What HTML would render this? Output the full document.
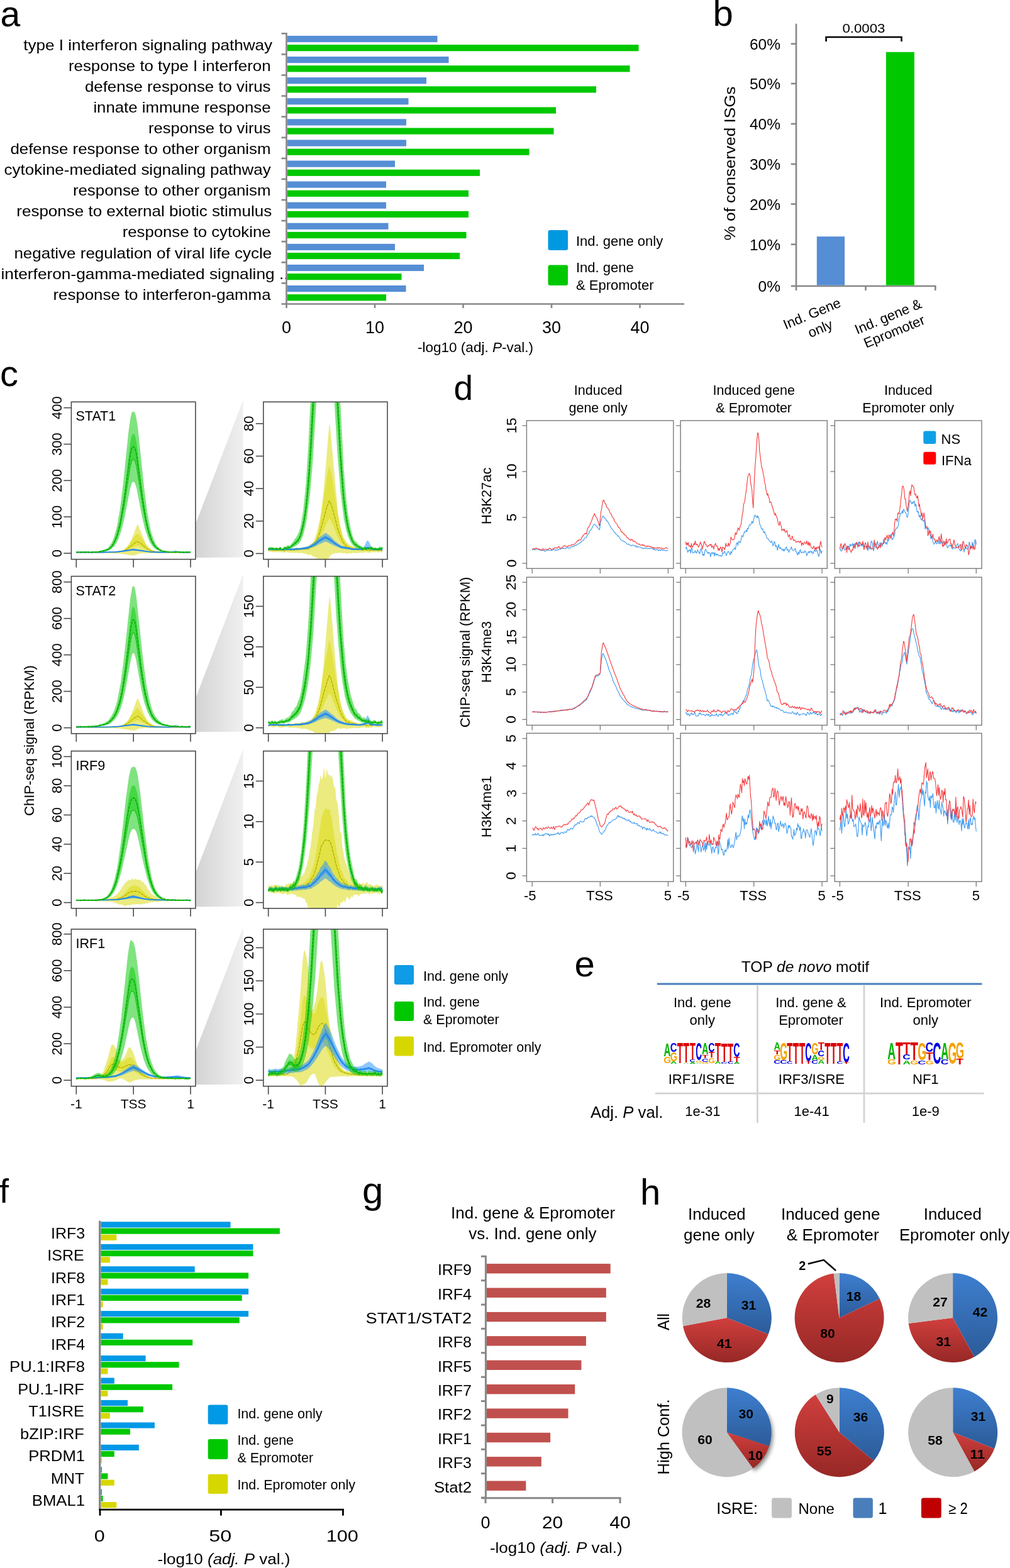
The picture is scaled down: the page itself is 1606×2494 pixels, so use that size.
<!DOCTYPE html>
<html><head><meta charset="utf-8"><title>Figure</title>
<style>html,body{margin:0;padding:0;background:#fff;} svg{display:block;}</style></head>
<body><svg width="1606" height="2494" viewBox="0 0 1606 2494" font-family='"Liberation Sans", Arial, Helvetica, sans-serif'>
<rect width="1606" height="2494" fill="#fff"/>
<text x="0.5" y="41.5" font-size="57">a</text>
<text x="37.3" y="79.9" font-size="24" textLength="395.7" lengthAdjust="spacingAndGlyphs">type I interferon signaling pathway</text>
<text x="109" y="113" font-size="24" textLength="321.5" lengthAdjust="spacingAndGlyphs">response to type I interferon</text>
<text x="135" y="146" font-size="24" textLength="295.5" lengthAdjust="spacingAndGlyphs">defense response to virus</text>
<text x="148.4" y="179.1" font-size="24" textLength="282.1" lengthAdjust="spacingAndGlyphs">innate immune response</text>
<text x="236" y="212.1" font-size="24" textLength="194.5" lengthAdjust="spacingAndGlyphs">response to virus</text>
<text x="16.4" y="245.2" font-size="24" textLength="414.1" lengthAdjust="spacingAndGlyphs">defense response to other organism</text>
<text x="6.6" y="278.3" font-size="24" textLength="424.1" lengthAdjust="spacingAndGlyphs">cytokine-mediated signaling pathway</text>
<text x="115.9" y="311.3" font-size="24" textLength="314.6" lengthAdjust="spacingAndGlyphs">response to other organism</text>
<text x="26.3" y="344.4" font-size="24" textLength="405.9" lengthAdjust="spacingAndGlyphs">response to external biotic stimulus</text>
<text x="194.7" y="377.4" font-size="24" textLength="235.8" lengthAdjust="spacingAndGlyphs">response to cytokine</text>
<text x="22.4" y="410.5" font-size="24" textLength="409.8" lengthAdjust="spacingAndGlyphs">negative regulation of viral life cycle</text>
<text x="1.5" y="443.6" font-size="24" textLength="457" lengthAdjust="spacingAndGlyphs">interferon-gamma-mediated signaling ..</text>
<text x="84.5" y="476.6" font-size="24" textLength="346" lengthAdjust="spacingAndGlyphs">response to interferon-gamma</text>
<rect x="456.8" y="56.9" width="238.7" height="10.2" fill="#558ed5"/>
<rect x="456.8" y="71.1" width="558.7" height="10.2" fill="#00c800"/>
<rect x="456.8" y="90" width="256.7" height="10.2" fill="#558ed5"/>
<rect x="456.8" y="104.2" width="544.7" height="10.2" fill="#00c800"/>
<rect x="456.8" y="123.1" width="221.2" height="10.2" fill="#558ed5"/>
<rect x="456.8" y="137.3" width="491.2" height="10.2" fill="#00c800"/>
<rect x="456.8" y="156.2" width="192.7" height="10.2" fill="#558ed5"/>
<rect x="456.8" y="170.4" width="427.2" height="10.2" fill="#00c800"/>
<rect x="456.8" y="189.3" width="189.2" height="10.2" fill="#558ed5"/>
<rect x="456.8" y="203.5" width="423.7" height="10.2" fill="#00c800"/>
<rect x="456.8" y="222.4" width="189.2" height="10.2" fill="#558ed5"/>
<rect x="456.8" y="236.6" width="384.7" height="10.2" fill="#00c800"/>
<rect x="456.8" y="255.5" width="171.2" height="10.2" fill="#558ed5"/>
<rect x="456.8" y="269.7" width="306.2" height="10.2" fill="#00c800"/>
<rect x="456.8" y="288.5" width="157.2" height="10.2" fill="#558ed5"/>
<rect x="456.8" y="302.7" width="288.2" height="10.2" fill="#00c800"/>
<rect x="456.8" y="321.6" width="157.2" height="10.2" fill="#558ed5"/>
<rect x="456.8" y="335.8" width="288.2" height="10.2" fill="#00c800"/>
<rect x="456.8" y="354.7" width="160.7" height="10.2" fill="#558ed5"/>
<rect x="456.8" y="368.9" width="284.7" height="10.2" fill="#00c800"/>
<rect x="456.8" y="387.8" width="171.2" height="10.2" fill="#558ed5"/>
<rect x="456.8" y="402" width="274.2" height="10.2" fill="#00c800"/>
<rect x="456.8" y="420.9" width="217.2" height="10.2" fill="#558ed5"/>
<rect x="456.8" y="435.1" width="181.7" height="10.2" fill="#00c800"/>
<rect x="456.8" y="454" width="188.7" height="10.2" fill="#558ed5"/>
<rect x="456.8" y="468.2" width="157.2" height="10.2" fill="#00c800"/>
<line x1="455.5" y1="52" x2="455.5" y2="484.8" stroke="#878787" stroke-width="2.6"/>
<line x1="447.5" y1="53.3" x2="455.5" y2="53.3" stroke="#878787" stroke-width="2.6"/>
<line x1="447.5" y1="86.4" x2="455.5" y2="86.4" stroke="#878787" stroke-width="2.6"/>
<line x1="447.5" y1="119.5" x2="455.5" y2="119.5" stroke="#878787" stroke-width="2.6"/>
<line x1="447.5" y1="152.6" x2="455.5" y2="152.6" stroke="#878787" stroke-width="2.6"/>
<line x1="447.5" y1="185.7" x2="455.5" y2="185.7" stroke="#878787" stroke-width="2.6"/>
<line x1="447.5" y1="218.8" x2="455.5" y2="218.8" stroke="#878787" stroke-width="2.6"/>
<line x1="447.5" y1="251.9" x2="455.5" y2="251.9" stroke="#878787" stroke-width="2.6"/>
<line x1="447.5" y1="284.9" x2="455.5" y2="284.9" stroke="#878787" stroke-width="2.6"/>
<line x1="447.5" y1="318" x2="455.5" y2="318" stroke="#878787" stroke-width="2.6"/>
<line x1="447.5" y1="351.1" x2="455.5" y2="351.1" stroke="#878787" stroke-width="2.6"/>
<line x1="447.5" y1="384.2" x2="455.5" y2="384.2" stroke="#878787" stroke-width="2.6"/>
<line x1="447.5" y1="417.3" x2="455.5" y2="417.3" stroke="#878787" stroke-width="2.6"/>
<line x1="447.5" y1="450.4" x2="455.5" y2="450.4" stroke="#878787" stroke-width="2.6"/>
<line x1="447.5" y1="483.5" x2="455.5" y2="483.5" stroke="#878787" stroke-width="2.6"/>
<line x1="454.2" y1="483.5" x2="1088" y2="483.5" stroke="#878787" stroke-width="2.6"/>
<line x1="455.5" y1="483.5" x2="455.5" y2="490" stroke="#878787" stroke-width="2.6"/>
<text x="455.5" y="530" font-size="27" text-anchor="middle">0</text>
<line x1="596" y1="483.5" x2="596" y2="490" stroke="#878787" stroke-width="2.6"/>
<text x="596" y="530" font-size="27" text-anchor="middle">10</text>
<line x1="736.5" y1="483.5" x2="736.5" y2="490" stroke="#878787" stroke-width="2.6"/>
<text x="736.5" y="530" font-size="27" text-anchor="middle">20</text>
<line x1="877" y1="483.5" x2="877" y2="490" stroke="#878787" stroke-width="2.6"/>
<text x="877" y="530" font-size="27" text-anchor="middle">30</text>
<line x1="1017.5" y1="483.5" x2="1017.5" y2="490" stroke="#878787" stroke-width="2.6"/>
<text x="1017.5" y="530" font-size="27" text-anchor="middle">40</text>
<text x="756" y="560" font-size="22.5" text-anchor="middle">-log10 (adj. <tspan font-style="italic">P</tspan>-val.)</text>
<rect x="871.5" y="366" width="31.5" height="32" fill="#0099e0" rx="3"/>
<rect x="871.5" y="421.5" width="31.5" height="32.5" fill="#00c800" rx="3"/>
<text x="916" y="391" font-size="22">Ind. gene only</text>
<text x="916" y="433" font-size="22">Ind. gene</text>
<text x="916" y="461" font-size="22">&amp; Epromoter</text>
<text x="1133.5" y="41" font-size="58">b</text>
<line x1="1266" y1="37.8" x2="1266" y2="456" stroke="#878787" stroke-width="2.6"/>
<line x1="1257.7" y1="455" x2="1266" y2="455" stroke="#878787" stroke-width="2.6"/>
<text x="1241" y="464.2" font-size="24.5" text-anchor="end">0%</text>
<line x1="1257.7" y1="388.7" x2="1266" y2="388.7" stroke="#878787" stroke-width="2.6"/>
<text x="1241" y="397.9" font-size="24.5" text-anchor="end">10%</text>
<line x1="1257.7" y1="324.6" x2="1266" y2="324.6" stroke="#878787" stroke-width="2.6"/>
<text x="1241" y="333.8" font-size="24.5" text-anchor="end">20%</text>
<line x1="1257.7" y1="261" x2="1266" y2="261" stroke="#878787" stroke-width="2.6"/>
<text x="1241" y="270.2" font-size="24.5" text-anchor="end">30%</text>
<line x1="1257.7" y1="197" x2="1266" y2="197" stroke="#878787" stroke-width="2.6"/>
<text x="1241" y="206.2" font-size="24.5" text-anchor="end">40%</text>
<line x1="1257.7" y1="133" x2="1266" y2="133" stroke="#878787" stroke-width="2.6"/>
<text x="1241" y="142.2" font-size="24.5" text-anchor="end">50%</text>
<line x1="1257.7" y1="69.7" x2="1266" y2="69.7" stroke="#878787" stroke-width="2.6"/>
<text x="1241" y="78.9" font-size="24.5" text-anchor="end">60%</text>
<line x1="1264.7" y1="455" x2="1488.5" y2="455" stroke="#878787" stroke-width="2.6"/>
<line x1="1266" y1="455" x2="1266" y2="462" stroke="#878787" stroke-width="2.6"/>
<line x1="1376.5" y1="455" x2="1376.5" y2="462" stroke="#878787" stroke-width="2.6"/>
<line x1="1487.3" y1="455" x2="1487.3" y2="462" stroke="#878787" stroke-width="2.6"/>
<rect x="1298.8" y="376.2" width="44.3" height="77.5" fill="#558ed5"/>
<rect x="1408.9" y="82.8" width="45" height="370.9" fill="#00c800"/>
<polyline points="1313.6,66.0 1313.6,59.0 1433.5,59.0 1433.5,66.0" fill="none" stroke="#000" stroke-width="2.6"/>
<text x="1373.4" y="51.6" font-size="21" text-anchor="middle" textLength="68" lengthAdjust="spacingAndGlyphs">0.0003</text>
<text x="1169.3" y="260" font-size="23.5" text-anchor="middle" textLength="245" lengthAdjust="spacingAndGlyphs" transform="rotate(-90 1169.3 260)">% of conserved ISGs</text>
<text font-size="22" text-anchor="middle" transform="translate(1294 505.7) rotate(-22.5)"><tspan x="0" y="0">Ind. Gene</tspan><tspan x="3" y="27">only</tspan></text>
<text font-size="22" text-anchor="middle" transform="translate(1415 510.5) rotate(-22.5)"><tspan x="0" y="0">Ind. gene &amp;</tspan><tspan x="0" y="25.5">Epromoter</tspan></text>
<text x="0" y="613.5" font-size="58">c</text>
<defs><linearGradient id="zg" x1="0" x2="1" y1="0" y2="0"><stop offset="0" stop-color="#d4d4d4"/><stop offset="1" stop-color="#f0f0f0"/></linearGradient><clipPath id="cl0"><rect x="113.4" y="639.3" width="197.5" height="250.3"/></clipPath><clipPath id="cr0"><rect x="418.8" y="639.3" width="197.2" height="250.3"/></clipPath><clipPath id="cl1"><rect x="113.4" y="916.6" width="197.5" height="250.2"/></clipPath><clipPath id="cr1"><rect x="418.8" y="916.6" width="197.2" height="250.2"/></clipPath><clipPath id="cl2"><rect x="113.4" y="1194.6" width="197.5" height="250.2"/></clipPath><clipPath id="cr2"><rect x="418.8" y="1194.6" width="197.2" height="250.2"/></clipPath><clipPath id="cl3"><rect x="113.4" y="1477.9" width="197.5" height="249.8"/></clipPath><clipPath id="cr3"><rect x="418.8" y="1477.9" width="197.2" height="249.8"/></clipPath></defs>
<polygon points="311.7,831.6 386.6,636.3 386.6,886.6 311.7,887.1" fill="url(#zg)"/>
<g clip-path="url(#cl0)">
<path d="M121.3 878.3 174.8 878.1 187.9 877.1 193 876.2 197 874.8 201 871.7 205.1 866.8 209.1 858.4 217.2 836.9 219.2 833.7 232.3 866 235.4 870.3 239.4 874.1 245.5 876.1 251.5 877.3 258.6 877.8 276.8 878.3 283.8 878 286.8 878.4 300 877.8 303 878.3 303 879.5 302 879.6 267.7 879.6 247.5 880.1 228.3 879.8 219.2 880.9 216.2 883 211.1 883.4 204.1 882.8 197 881.4 187.9 880.3 184.9 880.6 174.8 879.7 121.3 879.5Z" fill="#d7d700" fill-opacity="0.5"/>
<path d="M121.3 878.8 123.3 878.4 130.4 878.8 143.5 878.4 146.5 879.1 149.6 878.4 161.7 878.7 174.8 877.8 176.8 878.2 181.9 877.7 184.9 878 187.9 876.7 194 875.4 199 872.1 203.1 868.1 214.2 853 218.2 848.8 219.2 849.1 223.3 853 231.3 865 235.4 869.5 240.4 873.9 246.5 876.7 253.5 877.7 264.6 878.4 267.7 878.1 270.7 878.6 276.8 878.3 281.8 878.9 287.9 878.4 296.9 878.9 299 878.6 303 878.7 302 879.1 281.8 879.1 246.5 878.2 240.4 877.2 235.4 875.5 231.3 873.8 223.3 869.2 218.2 867.6 214.2 869.2 203.1 875 194 877.8 184.9 878.7 121.3 879.1Z" fill="#d7d700" fill-opacity="0.45"/>
<path d="M121.3 878.9 143.5 878.7 146.5 879.1 149.6 878.7 184.9 878.4 194 876.9 199 875 203.1 872.6 214.2 863.7 218.2 861.2 223.3 863.8 231.3 870.8 235.4 873.5 240.4 876 246.5 877.7 264.6 878.7 303 878.9" fill="none" stroke="#c8c800" stroke-width="1.2"/>
<path d="M121.3 878.9 143.5 878.7 146.5 879.1 149.6 878.7 184.9 878.4 194 876.9 199 875 203.1 872.6 214.2 863.7 218.2 861.2 223.3 863.8 231.3 870.8 235.4 873.5 240.4 876 246.5 877.7 264.6 878.7 303 878.9" fill="none" stroke="#9a9a10" stroke-width="0.9" stroke-dasharray="3,3"/>
<path d="M121.3 878.2 161.7 878.2 183.9 877.4 197 875.6 201 874.5 212.1 872.6 239.4 877.3 255.6 878.2 269.7 878.1 273.7 877.5 277.8 875.6 279.8 875.4 286.8 878.1 303 878.3 303 878.9 278.8 878.4 255.6 878.8 237.4 878.3 212.1 875.8 183.9 878.4 121.3 878.8Z" fill="#1e90ff" fill-opacity="0.5"/>
<path d="M121.3 878.4 161.7 878.4 183.9 877.7 197 876.1 212.1 873.5 239.4 877.6 255.6 878.4 271.7 878.3 278.8 877.6 285.8 878.3 303 878.5 289.9 878.7 278.8 878.1 271.7 878.6 255.6 878.7 239.4 878.1 212.1 874.9 183.9 878.1 161.7 878.7 121.3 878.7Z" fill="#1e90ff" fill-opacity="0.45"/>
<path d="M121.3 878.5 161.7 878.5 183.9 877.9 197 876.5 212.1 874.2 239.4 877.8 255.6 878.5 271.7 878.4 278.8 877.9 285.8 878.5 303 878.6" fill="none" stroke="#1a86ee" stroke-width="1.8"/>
<path d="M121.3 877.9 136.4 878 140.5 877.5 143.5 878.5 147.5 877.3 150.6 877.5 152.6 876.9 155.6 877.2 165.7 874.2 170.8 871.9 172.8 870.2 176.8 864.8 180.9 856 185.9 837.8 191 808.8 196 767.6 204.1 688.8 207.1 666.5 209.1 657.5 210.1 655.4 212.1 654.6 214.2 655.7 216.2 661.7 219.2 680.5 229.3 776.7 234.4 815.7 236.4 827.8 240.4 846.4 245.5 860.9 248.5 866.5 250.5 869 254.5 873 258.6 875.4 271.7 877.9 275.7 877.6 276.8 878.2 284.8 877.3 292.9 878.1 296.9 878 299 877.5 301 877.9 303 877.4 303 878.5 294.9 878.8 271.7 878.7 258.6 877.7 253.5 876.4 248.5 874.1 245.5 871.8 241.4 867.4 237.4 860.5 235.4 856 230.3 840.8 225.3 819.2 217.2 776.8 214.2 767.6 212.1 766.2 210.1 767.5 209.1 769.5 207.1 776.7 198 824 193 844.2 187.9 858.3 185.9 862.5 181.9 868.7 176.8 873.4 172.8 875.6 168.7 876.7 155.6 878.4 143.5 878.9 140.5 878.5 121.3 878.7Z" fill="#00c800" fill-opacity="0.5"/>
<path d="M121.3 878.2 136.4 878.3 140.5 877.9 143.5 878.6 147.5 877.8 155.6 877.6 165.7 875.5 170.8 873.7 172.8 872.4 176.8 868.5 180.9 861.9 185.9 848.4 191 826.8 197 787.7 207.1 704.7 209.1 694.5 210.1 691.7 211.1 690.5 212.1 690.2 213.2 690.6 214.2 691.9 215.2 694.9 217.2 704.9 227.3 787.5 232.3 821.2 236.4 841 241.4 857.5 245.5 865.6 248.5 869.7 253.5 873.9 258.6 876.3 271.7 878.2 275.7 877.9 276.8 878.4 284.8 877.8 292.9 878.3 303 877.8 301 878.4 284.8 878.1 276.8 878.6 258.6 876.9 253.5 875 248.5 871.8 245.5 868.5 241.4 862.2 236.4 849.2 232.3 833.6 227.3 807.1 217.2 742.3 215.2 734.4 214.2 732.1 212.1 730.7 210.1 731.9 209.1 734 207.1 742.1 197 807.3 191 838 185.9 855 180.9 865.6 176.8 870.8 172.8 873.9 170.8 874.9 165.7 876.3 155.6 878 147.5 878.1 143.5 878.7 140.5 878.2 121.3 878.4Z" fill="#00c800" fill-opacity="0.45"/>
<path d="M121.3 878.4 140.5 878.2 143.5 878.7 147.5 878.1 155.6 878 165.7 876.3 170.8 874.9 172.8 873.9 176.8 870.8 180.9 865.6 185.9 855 191 838 197 807.3 207.1 742.1 209.1 734 210.1 731.9 212.1 730.7 214.2 732.1 215.2 734.4 217.2 742.3 227.3 807.1 232.3 833.6 236.4 849.2 241.4 862.2 245.5 868.5 248.5 871.8 253.5 875 258.6 876.9 276.8 878.6 284.8 878.1 292.9 878.5 303 878.1" fill="none" stroke="#1cc41c" stroke-width="1.3"/>
<path d="M121.3 878.3 140.5 878 143.5 878.7 147.5 877.9 155.6 877.8 165.7 875.9 170.8 874.3 172.8 873.2 176.8 869.6 180.9 863.8 185.9 851.7 191 832.4 197 797.5 207.1 723.4 209.1 714.3 210.1 711.8 211.1 710.7 212.1 710.4 214.2 712 215.2 714.6 217.2 723.6 227.3 797.3 232.3 827.4 236.4 845.1 241.4 859.9 245.5 867 248.5 870.7 253.5 874.5 258.6 876.6 271.7 878.3 275.7 878.1 276.8 878.5 284.8 877.9 292.9 878.4 303 878" fill="none" stroke="#14c814" stroke-width="1.6"/>
<path d="M121.3 878.3 140.5 878 143.5 878.7 147.5 877.9 155.6 877.8 165.7 875.9 170.8 874.3 172.8 873.2 176.8 869.6 180.9 863.8 185.9 851.7 191 832.4 197 797.5 207.1 723.4 209.1 714.3 210.1 711.8 211.1 710.7 212.1 710.4 214.2 712 215.2 714.6 217.2 723.6 227.3 797.3 232.3 827.4 236.4 845.1 241.4 859.9 245.5 867 248.5 870.7 253.5 874.5 258.6 876.6 271.7 878.3 275.7 878.1 276.8 878.5 284.8 877.9 292.9 878.4 303 878" fill="none" stroke="#0c8a0c" stroke-width="1.0" stroke-dasharray="3,3"/>
</g>
<g clip-path="url(#cr0)">
<path d="M426.7 872.8 430.7 873.7 431.7 871.9 433.8 871.5 434.8 872.8 437.8 873.3 440.8 872.2 441.8 872.4 444.8 871.9 446.9 872.6 447.9 872.6 448.9 871.8 452.9 872.6 457.9 872 458.9 873.1 460 872.8 461 873.3 462 872.9 463 873.1 465 872 467 872.6 468 872.5 469 871.5 471 871.1 475.1 871.7 477.1 871 480.1 871.9 483.1 870.5 485.2 870.7 486.2 869.6 487.2 870.1 489.2 869.4 490.2 867.9 493.2 867.5 495.2 865 496.2 864.7 497.2 863.5 498.3 863.4 501.3 858.1 502.3 857.2 506.3 843.1 510.3 821.4 514.4 783.8 522.4 687.9 523.4 678.2 524.5 673.5 537.6 817.7 540.6 837 544.6 853.8 546.6 857.5 547.6 858.4 550.7 863 553.7 864.5 556.7 868.2 557.7 867.8 559.7 868.2 560.7 869.2 563.8 870.4 564.8 870.6 565.8 869.7 566.8 869.7 569.8 872.2 572.8 871 575.9 871.6 577.9 872.6 581.9 872.9 586.9 872.2 589 871.3 590 872.3 591 872.3 592 873 593 872.3 596 871.5 602.1 872.5 605.1 870.7 608.1 872.7 608.1 878.3 607.1 878.6 604.1 877.9 602.1 879 599 878 595 878.4 593 877.9 586.9 879.3 581.9 878.3 575.9 879.5 574.8 879 573.8 879.2 572.8 878.5 571.8 879.1 570.8 878.9 569.8 879.8 566.8 879.5 563.8 880 561.7 879.2 559.7 879.4 558.7 880.2 555.7 879.7 552.7 880.9 547.6 879.7 544.6 880 542.6 879 537.6 879.6 536.5 880.1 535.5 879.5 534.5 880 533.5 879.5 532.5 880.2 528.5 880.9 524.5 884.4 523.4 886.3 522.4 891 521.4 892.6 509.3 892.6 504.3 888.8 502.3 886.5 499.3 885.8 493.2 881.9 490.2 883 487.2 881 482.1 880.6 480.1 879.2 476.1 879.8 472.1 879.3 471 879.5 470 878.7 467 879.7 464 878.5 463 879.2 454.9 878 451.9 879.7 449.9 878 448.9 877.9 446.9 878.4 444.8 877.9 441.8 878.5 438.8 877.9 435.8 878.5 434.8 878 428.7 877.3 426.7 878.3Z" fill="#d7d700" fill-opacity="0.5"/>
<path d="M426.7 874.9 428.7 873.3 430.7 874.1 434.8 874.2 435.8 875 438.8 874 441.8 874.9 444.8 873.7 446.9 874.4 448.9 873.4 449.9 873.7 451.9 876.3 454.9 873.2 456.9 873.2 458.9 873.9 460 873.5 463 874.4 464 873.1 465 873.2 467 874.7 470 872.5 471 873.7 472.1 873 474.1 872.7 475.1 873 480.1 870.6 481.1 871 482.1 872.2 485.2 871 486.2 871 487.2 870.3 489.2 870.5 490.2 871.3 492.2 868.4 493.2 865.9 496.2 864 499.3 859.9 504.3 845.1 508.3 827.4 519.4 759.7 523.4 740.9 524.5 742.4 528.5 760 536.5 813.4 540.6 833.7 545.6 853.1 551.7 865.5 553.7 867.5 555.7 867.3 558.7 870.1 559.7 869.3 560.7 869.9 561.7 869.8 562.8 871.4 563.8 872 564.8 872.4 566.8 872 567.8 873 568.8 872.7 569.8 873.4 570.8 872.1 571.8 872.6 572.8 871.9 573.8 873.3 574.8 873.1 575.9 874.1 578.9 873.9 581.9 873 582.9 873.2 584.9 874.8 586.9 875.3 590 873.9 593 873.3 594 874.2 595 874.4 599 874 602.1 875.7 603.1 874.3 604.1 874 605.1 874 607.1 875.2 608.1 874.8 608.1 876.1 607.1 876.3 604.1 875.8 602.1 876.5 599 875.8 595 876 593 875.6 586.9 876.3 581.9 875.4 575.9 875.9 572.8 875 569.8 875.6 564.8 875.2 561.7 874.2 558.7 874.4 555.7 873.3 553.7 873.3 551.7 872.6 545.6 867.9 540.6 860.4 536.5 852.7 528.5 832.2 524.5 825.5 523.4 825 519.4 832.1 508.3 858 504.3 864.8 499.3 870.5 496.2 872 493.2 872.7 490.2 874.8 487.2 874.4 482.1 875.1 480.1 874.5 475.1 875.5 471 875.7 470 875.3 467 876.1 465 875.5 463 876 454.9 875.5 451.9 876.7 448.9 875.6 435.8 876.2 428.7 875.6 426.7 876.2Z" fill="#d7d700" fill-opacity="0.45"/>
<path d="M426.7 875.5 428.7 874.5 434.8 875.1 435.8 875.6 438.8 874.9 441.8 875.5 444.8 874.8 446.9 875.2 448.9 874.6 449.9 874.8 451.9 876.3 454.9 874.5 463 875.2 464 874.4 465 874.5 467 875.4 470 874.1 471 874.8 472.1 874.4 475.1 874.4 480.1 873 482.1 873.9 487.2 872.8 490.2 873.4 493.2 870.2 496.2 869.1 499.3 866.7 504.3 858 508.3 847.6 519.4 807.7 523.4 796.7 524.5 797.6 528.5 807.9 536.5 839.3 540.6 851.3 545.6 862.7 551.7 870 553.7 871.1 555.7 871 558.7 872.7 559.7 872.2 561.7 872.5 563.8 873.8 566.8 873.8 569.8 874.6 570.8 873.8 571.8 874.2 572.8 873.7 573.8 874.6 574.8 874.5 575.9 875 581.9 874.4 586.9 875.7 593 874.6 595 875.2 599 874.9 602.1 875.9 604.1 875 607.1 875.7 608.1 875.4" fill="none" stroke="#c8c800" stroke-width="1.2"/>
<path d="M426.7 875.5 428.7 874.5 434.8 875.1 435.8 875.6 438.8 874.9 441.8 875.5 444.8 874.8 446.9 875.2 448.9 874.6 449.9 874.8 451.9 876.3 454.9 874.5 463 875.2 464 874.4 465 874.5 467 875.4 470 874.1 471 874.8 472.1 874.4 475.1 874.4 480.1 873 482.1 873.9 487.2 872.8 490.2 873.4 493.2 870.2 496.2 869.1 499.3 866.7 504.3 858 508.3 847.6 519.4 807.7 523.4 796.7 524.5 797.6 528.5 807.9 536.5 839.3 540.6 851.3 545.6 862.7 551.7 870 553.7 871.1 555.7 871 558.7 872.7 559.7 872.2 561.7 872.5 563.8 873.8 566.8 873.8 569.8 874.6 570.8 873.8 571.8 874.2 572.8 873.7 573.8 874.6 574.8 874.5 575.9 875 581.9 874.4 586.9 875.7 593 874.6 595 875.2 599 874.9 602.1 875.9 604.1 875 607.1 875.7 608.1 875.4" fill="none" stroke="#9a9a10" stroke-width="0.9" stroke-dasharray="3,3"/>
<path d="M426.7 872.5 430.7 872.9 435.8 872.1 436.8 872.6 437.8 872.3 438.8 872.7 439.8 872.3 443.8 872.8 446.9 872.2 449.9 872.9 450.9 872.4 453.9 872.7 458.9 871.9 462 872.5 464 871.9 467 872.4 471 871.5 477.1 871.6 489.2 868.9 492.2 867.6 497.2 864.2 498.3 863.1 502.3 860.8 506.3 855.8 517.4 847.4 522.4 850.6 527.5 855 531.5 859.4 537.6 864.2 542.6 867.8 544.6 868.4 547.6 868.7 550.7 870 557.7 871.1 560.7 872.4 564.8 871.6 571.8 872.3 574.8 871.9 576.9 871.5 578.9 869.3 582.9 860.9 583.9 859.7 584.9 859.7 585.9 860.5 586.9 862.3 591 871 592 871.7 595 872.6 598 872 607.1 872.5 608.1 872.9 608.1 875.4 591 875 587.9 873.5 583.9 873 576.9 874.9 564.8 874.7 560.7 875.1 542.6 872.6 531.5 868.1 521.4 862.9 517.4 861.6 506.3 866.2 502.3 868.8 489.2 873.2 477.1 874.7 467 875.1 426.7 875.1Z" fill="#1e90ff" fill-opacity="0.5"/>
<path d="M426.7 873.1 430.7 873.5 435.8 872.9 436.8 873.3 439.8 873 443.8 873.5 446.9 872.9 449.9 873.5 458.9 872.6 462 873.2 464 872.6 467 873.1 471 872.3 477.1 872.4 489.2 870.1 492.2 868.9 502.3 863.1 506.3 858.8 517.4 851.5 522.4 854.3 527.5 858.1 531.5 861.9 537.6 866 542.6 869.1 544.6 869.6 557.7 872 560.7 873.1 564.8 872.4 571.8 873 576.9 872.7 583.9 869.8 587.9 870.5 591 872.9 593 872.8 595 873.3 598 872.8 601 872.8 607.1 873.1 608.1 873.5 608.1 874.8 598 874.2 595 874.6 591 874.3 587.9 872.4 583.9 871.8 576.9 874.1 571.8 874.4 564.8 873.9 560.7 874.4 557.7 873.5 544.6 871.7 542.6 871.3 537.6 868.9 531.5 865.6 522.4 859.7 517.4 857.5 506.3 863.2 502.3 866.5 492.2 871.1 489.2 872 477.1 873.9 471 873.8 467 874.4 458.9 874.1 449.9 874.7 446.9 874.3 443.8 874.7 435.8 874.2 430.7 874.8 426.7 874.5Z" fill="#1e90ff" fill-opacity="0.45"/>
<path d="M426.7 873.8 430.7 874.1 435.8 873.5 436.8 873.9 439.8 873.7 443.8 874.1 446.9 873.6 449.9 874.1 458.9 873.4 462 873.8 464 873.4 467 873.7 471 873.1 477.1 873.1 489.2 871 492.2 870 502.3 864.8 506.3 861 517.4 854.5 522.4 857 527.5 860.4 531.5 863.8 537.6 867.5 542.6 870.2 544.6 870.7 557.7 872.7 560.7 873.8 564.8 873.2 571.8 873.7 576.9 873.4 583.9 870.8 587.9 871.4 591 873.6 593 873.5 595 874 601 873.5 608.1 874.2" fill="none" stroke="#1a86ee" stroke-width="1.8"/>
<path d="M426.7 870.9 428.7 870.3 430.7 870.6 431.7 870 433.8 870.3 436.8 871.7 437.8 870.8 439.8 870.6 440.8 871.4 441.8 871.6 443.8 871 445.8 869.3 447.9 872.9 448.9 873.6 450.9 870.6 451.9 870.2 452.9 868.5 453.9 869.2 455.9 869.1 457.9 866.5 460 868.4 461 867.8 463 864.9 465 863.1 469 857 470 856.2 474.1 849.3 476.1 844.3 478.1 836.5 482.1 812.6 486.2 773.2 490.2 710.6 493.2 646.5 494.2 636.3 540.6 636.3 541.6 647.2 546.6 746.8 550.7 795.2 553.7 820.1 557.7 841 560.7 852.6 563.8 859.7 566.8 861.9 569.8 865.9 575.9 869.5 576.9 870.9 577.9 871 578.9 869.5 580.9 869.6 581.9 872.2 583.9 871.2 584.9 870 586.9 871 590 868.5 592 869.7 593 871.1 594 871.3 597 870.6 598 871.8 599 871.2 600 871.7 602.1 871.5 604.1 869.2 605.1 869.6 606.1 871 607.1 869.5 608.1 869 608.1 873.7 606.1 874.5 604.1 873.8 602.1 874.7 598 874.8 597 874.4 594 874.6 590 873.5 586.9 874.5 584.9 874.1 581.9 875 580.9 874 578.9 873.9 577.9 874.5 576.9 874.5 569.8 872.5 566.8 870.9 563.8 869.9 559.7 865.7 555.7 858.5 553.7 854 550.7 843.9 546.6 824.4 541.6 784 536.5 720.9 531.5 636.3 503.3 636.3 497.2 735.7 493.2 783.7 488.2 823.8 486.2 835 482.1 850.9 478.1 860.6 476.1 863.8 471 867.9 461 873.2 460 873.5 457.9 872.7 455.9 873.8 452.9 873.5 448.9 875.6 445.8 873.8 441.8 874.8 439.8 874.3 436.8 874.8 431.7 874.1 426.7 874.5Z" fill="#00c800" fill-opacity="0.5"/>
<path d="M426.7 872.2 431.7 871.5 433.8 871.7 436.8 872.8 437.8 872.1 439.8 871.9 441.8 872.7 443.8 872.3 445.8 871 447.9 873.7 448.9 874.2 452.9 870.4 453.9 870.9 455.9 870.9 457.9 868.9 460 870.3 461 869.9 470 861.3 474.1 856.2 476.1 852.5 478.1 846.6 481.1 833.8 483.1 822.8 486.2 799.7 488.2 779.2 492.2 723.3 496.2 643 497.2 636.3 537.6 636.3 538.6 642.4 541.6 706.1 546.6 780.2 550.7 816 553.7 834.5 557.7 850 560.7 858.6 563.8 863.8 566.8 865.5 569.8 868.5 575.9 871.1 576.9 872.2 577.9 872.2 578.9 871.1 580.9 871.2 581.9 873.1 584.9 871.5 586.9 872.2 590 870.4 592 871.3 593 872.3 597 872 598 872.8 599 872.4 600 872.8 602.1 872.7 604.1 870.9 605.1 871.2 606.1 872.3 607.1 871.1 608.1 870.8 608.1 872.1 606.1 873.3 604.1 872.2 602.1 873.6 598 873.7 597 873 594 873.4 590 871.8 586.9 873.2 584.9 872.7 581.9 874 580.9 872.5 578.9 872.4 577.9 873.3 576.9 873.2 575.9 872.4 569.8 870.3 566.8 868 563.8 866.6 559.7 860.5 555.7 850.2 553.7 843.6 550.7 829.1 546.6 800.9 541.6 742.7 535.5 636.3 499.3 636.3 495.2 710.7 491.2 768.8 488.2 800.1 486.2 816.3 483.1 834.4 480.1 846.7 478.1 853.1 476.1 857.7 474.1 860.6 470 864.6 461 871.4 460 871.7 457.9 870.7 455.9 872.2 452.9 871.8 448.9 874.8 447.9 874.4 445.8 872.3 443.8 873.3 441.8 873.6 439.8 873 436.8 873.7 431.7 872.7 426.7 873.2Z" fill="#00c800" fill-opacity="0.45"/>
<path d="M426.7 873.2 431.7 872.7 436.8 873.7 439.8 873 441.8 873.6 443.8 873.3 445.8 872.3 447.9 874.4 448.9 874.8 452.9 871.8 455.9 872.2 457.9 870.7 460 871.7 461 871.4 470 864.6 474.1 860.6 476.1 857.7 478.1 853.1 480.1 846.7 483.1 834.4 486.2 816.3 488.2 800.1 491.2 768.8 495.2 710.7 499.3 636.3 535.5 636.3 541.6 742.7 546.6 800.9 550.7 829.1 553.7 843.6 555.7 850.2 559.7 860.5 563.8 866.6 566.8 868 569.8 870.3 575.9 872.4 576.9 873.2 577.9 873.3 578.9 872.4 580.9 872.5 581.9 874 584.9 872.7 586.9 873.2 590 871.8 593 873.3 597 873 598 873.7 599 873.4 600 873.7 602.1 873.6 604.1 872.2 606.1 873.3 608.1 872.1" fill="none" stroke="#1cc41c" stroke-width="1.3"/>
<path d="M426.7 872.7 431.7 872.1 436.8 873.2 437.8 872.6 439.8 872.5 441.8 873.2 443.8 872.8 445.8 871.6 447.9 874 448.9 874.5 452.9 871.1 453.9 871.5 455.9 871.5 457.9 869.8 460 871 461 870.7 470 863 474.1 858.4 476.1 855.1 478.1 849.9 483.1 828.6 486.2 808 488.2 789.7 492.2 739.8 497.2 645.9 498.3 636.3 536.5 636.3 537.6 645.7 541.6 724.4 546.6 790.5 550.7 822.5 553.7 839 557.7 852.9 560.7 860.6 563.8 865.2 566.8 866.8 569.8 869.4 575.9 871.7 576.9 872.7 577.9 872.7 578.9 871.7 580.9 871.8 581.9 873.5 584.9 872.1 586.9 872.7 590 871.1 592 871.9 593 872.8 597 872.5 598 873.3 599 872.9 600 873.2 602.1 873.1 604.1 871.6 605.1 871.8 606.1 872.8 608.1 871.4" fill="none" stroke="#14c814" stroke-width="1.6"/>
<path d="M426.7 872.7 431.7 872.1 436.8 873.2 437.8 872.6 439.8 872.5 441.8 873.2 443.8 872.8 445.8 871.6 447.9 874 448.9 874.5 452.9 871.1 453.9 871.5 455.9 871.5 457.9 869.8 460 871 461 870.7 470 863 474.1 858.4 476.1 855.1 478.1 849.9 483.1 828.6 486.2 808 488.2 789.7 492.2 739.8 497.2 645.9 498.3 636.3 536.5 636.3 537.6 645.7 541.6 724.4 546.6 790.5 550.7 822.5 553.7 839 557.7 852.9 560.7 860.6 563.8 865.2 566.8 866.8 569.8 869.4 575.9 871.7 576.9 872.7 577.9 872.7 578.9 871.7 580.9 871.8 581.9 873.5 584.9 872.1 586.9 872.7 590 871.1 592 871.9 593 872.8 597 872.5 598 873.3 599 872.9 600 873.2 602.1 873.1 604.1 871.6 605.1 871.8 606.1 872.8 608.1 871.4" fill="none" stroke="#0c8a0c" stroke-width="1.0" stroke-dasharray="3,3"/>
</g>
<rect x="113.4" y="639.3" width="197.5" height="250.3" fill="none" stroke="#4a4a4a" stroke-width="1.6"/>
<line x1="121.3" y1="889.6" x2="121.3" y2="902.6" stroke="#4a4a4a" stroke-width="1.6"/>
<line x1="212.2" y1="889.6" x2="212.2" y2="902.6" stroke="#4a4a4a" stroke-width="1.6"/>
<line x1="303" y1="889.6" x2="303" y2="902.6" stroke="#4a4a4a" stroke-width="1.6"/>
<line x1="101.4" y1="880" x2="113.4" y2="880" stroke="#4a4a4a" stroke-width="1.6"/>
<text x="97.9" y="880" font-size="22" text-anchor="middle" transform="rotate(-90 97.9 880)">0</text>
<line x1="101.4" y1="822.1" x2="113.4" y2="822.1" stroke="#4a4a4a" stroke-width="1.6"/>
<text x="97.9" y="822.1" font-size="22" text-anchor="middle" transform="rotate(-90 97.9 822.1)">100</text>
<line x1="101.4" y1="764.3" x2="113.4" y2="764.3" stroke="#4a4a4a" stroke-width="1.6"/>
<text x="97.9" y="764.3" font-size="22" text-anchor="middle" transform="rotate(-90 97.9 764.3)">200</text>
<line x1="101.4" y1="706.5" x2="113.4" y2="706.5" stroke="#4a4a4a" stroke-width="1.6"/>
<text x="97.9" y="706.5" font-size="22" text-anchor="middle" transform="rotate(-90 97.9 706.5)">300</text>
<line x1="101.4" y1="648.6" x2="113.4" y2="648.6" stroke="#4a4a4a" stroke-width="1.6"/>
<text x="97.9" y="648.6" font-size="22" text-anchor="middle" transform="rotate(-90 97.9 648.6)">400</text>
<rect x="418.8" y="639.3" width="197.2" height="250.3" fill="none" stroke="#4a4a4a" stroke-width="1.6"/>
<line x1="426.7" y1="889.6" x2="426.7" y2="902.6" stroke="#4a4a4a" stroke-width="1.6"/>
<line x1="517.4" y1="889.6" x2="517.4" y2="902.6" stroke="#4a4a4a" stroke-width="1.6"/>
<line x1="608.1" y1="889.6" x2="608.1" y2="902.6" stroke="#4a4a4a" stroke-width="1.6"/>
<line x1="406.8" y1="880.4" x2="418.8" y2="880.4" stroke="#4a4a4a" stroke-width="1.6"/>
<text x="403.3" y="880.4" font-size="22" text-anchor="middle" transform="rotate(-90 403.3 880.4)">0</text>
<line x1="406.8" y1="828.8" x2="418.8" y2="828.8" stroke="#4a4a4a" stroke-width="1.6"/>
<text x="403.3" y="828.8" font-size="22" text-anchor="middle" transform="rotate(-90 403.3 828.8)">20</text>
<line x1="406.8" y1="777.1" x2="418.8" y2="777.1" stroke="#4a4a4a" stroke-width="1.6"/>
<text x="403.3" y="777.1" font-size="22" text-anchor="middle" transform="rotate(-90 403.3 777.1)">40</text>
<line x1="406.8" y1="725.5" x2="418.8" y2="725.5" stroke="#4a4a4a" stroke-width="1.6"/>
<text x="403.3" y="725.5" font-size="22" text-anchor="middle" transform="rotate(-90 403.3 725.5)">60</text>
<line x1="406.8" y1="673.8" x2="418.8" y2="673.8" stroke="#4a4a4a" stroke-width="1.6"/>
<text x="403.3" y="673.8" font-size="22" text-anchor="middle" transform="rotate(-90 403.3 673.8)">80</text>
<text x="120.5" y="669.3" font-size="21.5">STAT1</text>
<polygon points="311.7,1108.8 386.6,913.6 386.6,1163.8 311.7,1164.3" fill="url(#zg)"/>
<g clip-path="url(#cl1)">
<path d="M121.3 1156.3 129.4 1156.1 137.5 1156.5 142.5 1156.1 149.6 1156.3 180.9 1155.6 191 1154.5 196 1153 201 1149.6 205.1 1144.3 209.1 1135.4 217.2 1114 219.2 1110.6 222.2 1117.5 228.3 1134.2 232.3 1143.3 235.4 1148 241.4 1152.9 246.5 1154.4 263.6 1156 303 1156.1 303 1157.2 298 1157.4 289.9 1157.1 281.8 1157.6 272.7 1157.4 245.5 1158.1 232.3 1157.7 219.2 1159.1 216.2 1161.4 214.2 1161.8 208.1 1161.5 193 1159 180.9 1157.9 142.5 1157.6 134.4 1157.1 121.3 1157.4Z" fill="#d7d700" fill-opacity="0.5"/>
<path d="M121.3 1156.7 124.3 1156.2 130.4 1156.7 134.4 1156.1 142.5 1156.8 147.5 1156.3 154.6 1156.6 169.8 1156.1 173.8 1156.5 180.9 1155.6 183.9 1155.7 192 1154 196 1152.2 200 1149.1 203.1 1146.1 211.1 1134.7 218.2 1126.2 219.2 1126.6 221.2 1128.6 229.3 1140.2 235.4 1147.6 239.4 1151.1 245.5 1154.3 253.5 1155.5 264.6 1156.3 272.7 1156.1 276.8 1156.7 286.8 1156.6 289.9 1156.1 298 1156.6 303 1156.3 303 1156.8 276.8 1156.9 245.5 1156 235.4 1153.5 221.2 1146.2 218.2 1145.3 203.1 1152.9 196 1155.2 192 1155.9 173.8 1156.8 121.3 1156.9Z" fill="#d7d700" fill-opacity="0.45"/>
<path d="M121.3 1156.8 134.4 1156.5 142.5 1156.9 173.8 1156.7 183.9 1156.2 192 1155.2 196 1154.2 203.1 1150.6 211.1 1143.9 218.2 1138.9 221.2 1140.3 229.3 1147.1 235.4 1151.5 239.4 1153.5 245.5 1155.4 253.5 1156.1 276.8 1156.8 303 1156.6" fill="none" stroke="#c8c800" stroke-width="1.2"/>
<path d="M121.3 1156.8 134.4 1156.5 142.5 1156.9 173.8 1156.7 183.9 1156.2 192 1155.2 196 1154.2 203.1 1150.6 211.1 1143.9 218.2 1138.9 221.2 1140.3 229.3 1147.1 235.4 1151.5 239.4 1153.5 245.5 1155.4 253.5 1156.1 276.8 1156.8 303 1156.6" fill="none" stroke="#9a9a10" stroke-width="0.9" stroke-dasharray="3,3"/>
<path d="M121.3 1156.4 156.6 1156.4 178.8 1155.8 189.9 1154.8 212.1 1151.1 233.3 1154.8 242.4 1155.6 268.7 1156.2 272.7 1155.8 277.8 1153.6 279.8 1153.2 286.8 1156 303 1156.3 303 1156.9 294.9 1156.9 279.8 1156.3 266.7 1156.9 247.5 1156.7 233.3 1156.1 212.1 1154.1 178.8 1156.6 121.3 1156.9Z" fill="#1e90ff" fill-opacity="0.5"/>
<path d="M121.3 1156.6 178.8 1156 189.9 1155.1 212.1 1151.9 233.3 1155.1 242.4 1155.9 266.7 1156.5 279.8 1155.5 285.8 1156.3 303 1156.4 292.9 1156.8 279.8 1156 266.7 1156.8 242.4 1156.3 233.3 1155.7 212.1 1153.2 189.9 1155.7 178.8 1156.4 121.3 1156.8Z" fill="#1e90ff" fill-opacity="0.45"/>
<path d="M121.3 1156.7 178.8 1156.2 189.9 1155.4 212.1 1152.6 233.3 1155.4 242.4 1156.1 266.7 1156.6 279.8 1155.7 285.8 1156.4 303 1156.6" fill="none" stroke="#1a86ee" stroke-width="1.8"/>
<path d="M121.3 1155.1 124.3 1155.4 127.4 1154.8 129.4 1155.4 131.4 1155 134.4 1155.4 142.5 1154.5 147.5 1154.6 154.6 1153.6 158.6 1151.9 161.7 1151.4 166.7 1149.5 172.8 1145.3 176.8 1139.3 180.9 1131.9 184.9 1120.2 186.9 1112.3 192 1085.6 197 1047.3 207.1 952.4 210.1 934.7 211.1 932.5 212.1 932.2 213.2 932.9 214.2 935.1 215.2 939.1 217.2 952.4 227.3 1047.1 232.3 1085.8 237.4 1112.2 241.4 1126.8 243.4 1132.3 246.5 1138.2 249.5 1142.6 252.5 1145.8 257.6 1149.7 259.6 1150.8 271.7 1154.1 272.7 1153.8 277.8 1154.6 280.8 1154.3 286.8 1155.3 289.9 1154.7 294.9 1155.6 301 1154.7 303 1155.2 303 1156.3 286.8 1156.3 271.7 1155.8 259.6 1154.4 252.5 1152.3 248.5 1150.4 244.5 1147.5 241.4 1144.3 237.4 1138.1 234.4 1132 229.3 1117 224.3 1094.8 216.2 1048.7 214.2 1041.2 213.2 1039.4 212.1 1038.7 211.1 1039.2 210.1 1041 208.1 1048.7 200 1095.1 195 1117.2 192 1126.7 188.9 1134.2 185.9 1139.8 182.9 1144.1 179.8 1147.3 174.8 1150.9 172.8 1152.1 166.7 1153.9 154.6 1155.6 147.5 1156 121.3 1156.2Z" fill="#00c800" fill-opacity="0.5"/>
<path d="M121.3 1155.5 124.3 1155.8 127.4 1155.3 129.4 1155.8 131.4 1155.4 134.4 1155.8 147.5 1155.2 154.6 1154.4 166.7 1151.3 172.8 1148.2 178.8 1141.1 181.9 1136.1 184.9 1129.3 187.9 1120 191 1107.9 194 1092.5 199 1058 208.1 979 210.1 967.9 211.1 965.4 212.1 964.9 213.2 965.7 214.2 968.2 216.2 979 225.3 1057.7 230.3 1092.4 235.4 1116.3 237.4 1123.2 241.4 1134.2 244.5 1140.1 248.5 1145.2 252.5 1148.5 258.6 1151.9 271.7 1154.8 280.8 1154.9 286.8 1155.7 289.9 1155.2 294.9 1155.9 301 1155.2 303 1155.6 303 1155.9 301 1155.6 294.9 1156.2 289.9 1155.6 286.8 1156 280.8 1155.4 271.7 1155.3 259.6 1153.3 252.5 1150.4 248.5 1147.7 244.5 1143.7 241.4 1139.1 235.4 1125 230.3 1106.2 225.3 1079 216.2 1017.2 214.2 1008.7 213.2 1006.7 212.1 1006.1 211.1 1006.5 210.1 1008.4 208.1 1017.2 199 1079.2 194 1106.4 191 1118.5 187.9 1127.9 184.9 1135.2 181.9 1140.6 178.8 1144.6 172.8 1150.1 166.7 1152.6 154.6 1155 147.5 1155.6 134.4 1156.1 121.3 1155.9Z" fill="#00c800" fill-opacity="0.45"/>
<path d="M121.3 1155.9 134.4 1156.1 147.5 1155.6 154.6 1155 166.7 1152.6 172.8 1150.1 178.8 1144.6 181.9 1140.6 184.9 1135.2 187.9 1127.9 191 1118.5 194 1106.4 199 1079.2 208.1 1017.2 210.1 1008.4 211.1 1006.5 212.1 1006.1 213.2 1006.7 214.2 1008.7 216.2 1017.2 225.3 1079 230.3 1106.2 235.4 1125 241.4 1139.1 244.5 1143.7 248.5 1147.7 252.5 1150.4 258.6 1153 271.7 1155.3 280.8 1155.4 286.8 1156 289.9 1155.6 294.9 1156.2 301 1155.6 303 1155.9" fill="none" stroke="#1cc41c" stroke-width="1.3"/>
<path d="M121.3 1155.7 124.3 1155.9 127.4 1155.5 134.4 1155.9 147.5 1155.4 154.6 1154.7 166.7 1152 172.8 1149.1 178.8 1142.8 181.9 1138.4 184.9 1132.3 187.9 1124 191 1113.2 194 1099.4 199 1068.6 208.1 998.1 210.1 988.2 211.1 985.9 212.1 985.5 213.2 986.2 214.2 988.5 216.2 998.1 225.3 1068.3 230.3 1099.3 235.4 1120.7 237.4 1126.9 241.4 1136.7 244.5 1141.9 248.5 1146.4 252.5 1149.4 258.6 1152.5 271.7 1155.1 280.8 1155.2 286.8 1155.8 289.9 1155.4 294.9 1156 301 1155.4 303 1155.8" fill="none" stroke="#14c814" stroke-width="1.6"/>
<path d="M121.3 1155.7 124.3 1155.9 127.4 1155.5 134.4 1155.9 147.5 1155.4 154.6 1154.7 166.7 1152 172.8 1149.1 178.8 1142.8 181.9 1138.4 184.9 1132.3 187.9 1124 191 1113.2 194 1099.4 199 1068.6 208.1 998.1 210.1 988.2 211.1 985.9 212.1 985.5 213.2 986.2 214.2 988.5 216.2 998.1 225.3 1068.3 230.3 1099.3 235.4 1120.7 237.4 1126.9 241.4 1136.7 244.5 1141.9 248.5 1146.4 252.5 1149.4 258.6 1152.5 271.7 1155.1 280.8 1155.2 286.8 1155.8 289.9 1155.4 294.9 1156 301 1155.4 303 1155.8" fill="none" stroke="#0c8a0c" stroke-width="1.0" stroke-dasharray="3,3"/>
</g>
<g clip-path="url(#cr1)">
<path d="M426.7 1151.7 427.7 1151.9 430.7 1150.8 432.7 1151.4 434.8 1150.8 435.8 1151.3 439.8 1151.5 440.8 1152.4 442.8 1152.8 447.9 1151 448.9 1151.9 449.9 1152.2 450.9 1152.1 451.9 1151.2 454.9 1152 458.9 1150.8 466 1151 469 1150.3 470 1150.6 473.1 1149.5 476.1 1150.1 481.1 1148.5 484.1 1148.9 485.2 1148.4 486.2 1148.6 488.2 1148.1 490.2 1146 492.2 1146 496.2 1143.9 498.3 1140.4 501.3 1137 505.3 1126.1 506.3 1121.9 508.3 1112.1 510.3 1098.5 514.4 1059 522.4 964 523.4 953.8 524.5 948.6 527.5 979.3 533.5 1053.6 537.6 1094.3 540.6 1115.1 542.6 1123.9 546.6 1136.6 548.6 1140 549.6 1141.4 550.7 1141.9 551.7 1143.6 552.7 1143.4 553.7 1144.8 554.7 1144.6 556.7 1146.1 559.7 1146.3 562.8 1148.7 565.8 1148.7 568.8 1150.4 571.8 1149.2 575.9 1150.8 578.9 1150.7 580.9 1151.4 582.9 1150.6 584.9 1151.2 585.9 1150.6 590 1151.8 593 1150.7 594 1151.2 597 1151.1 599 1151.9 602.1 1150.7 605.1 1151.4 608.1 1151.1 608.1 1155.9 606.1 1155.9 603.1 1156.7 597 1156.4 595 1155.6 594 1155.7 592 1157.2 587.9 1156.9 586.9 1157.7 583.9 1157.4 581.9 1158 579.9 1157 577.9 1156.8 572.8 1157.4 571.8 1158.1 569.8 1158.2 561.7 1157.7 558.7 1158.6 557.7 1158.2 552.7 1158.9 550.7 1159.7 547.6 1158.1 542.6 1159.1 540.6 1159 537.6 1158 534.5 1160.6 529.5 1163 526.5 1163.1 524.5 1164.3 522.4 1169.8 506.3 1169.7 502.3 1166.2 501.3 1166 498.3 1163.7 492.2 1161 489.2 1160.8 488.2 1159.7 486.2 1159 481.1 1158.9 479.1 1159.5 475.1 1157.8 472.1 1158.1 470 1157.2 468 1157.2 467 1157.6 466 1157.2 464 1157.1 460 1157.6 456.9 1156.6 452.9 1156.5 447.9 1157.6 445.8 1156.9 444.8 1157.2 439.8 1155.5 435.8 1157 429.7 1155.6 427.7 1155.9 426.7 1156.9Z" fill="#d7d700" fill-opacity="0.5"/>
<path d="M426.7 1153.8 427.7 1152.1 429.7 1151.5 431.7 1152 434.8 1153.8 435.8 1153.7 436.8 1153.5 439.8 1151.1 441.8 1151.6 442.8 1152.8 444.8 1153.6 445.8 1153.1 447.9 1154.2 449.9 1153.8 450.9 1152.5 452.9 1152 453.9 1152.4 456.9 1151.9 460 1153.2 461 1152.7 463 1152.6 464 1151.9 466 1151.6 467 1152.3 468 1151.3 470 1151 472.1 1152.2 473.1 1152 475.1 1150.9 478.1 1152.5 479.1 1152.5 481.1 1150.8 486.2 1148.5 487.2 1148.8 488.2 1148.3 489.2 1149.3 492.2 1146.5 493.2 1146.4 494.2 1145.6 497.2 1141.7 501.3 1133.8 505.3 1120 508.3 1106.5 516.4 1056.1 523.4 1018.3 524.5 1019.7 526.5 1028.9 534.5 1080.4 540.6 1113.3 544.6 1128.7 547.6 1135 550.7 1143.1 553.7 1145.2 557.7 1147.1 558.7 1148.4 560.7 1148.8 561.7 1148.3 562.8 1149.2 563.8 1148.9 569.8 1151.9 571.8 1152 572.8 1151.1 573.8 1151.6 577.9 1151 578.9 1151.8 579.9 1151.7 581.9 1153.7 582.9 1153.7 583.9 1152.9 586.9 1153.7 587.9 1152.4 592 1153.2 594 1150.8 595 1150.7 597 1152.3 601 1152.4 603.1 1153.1 606.1 1151.8 608.1 1151.8 608.1 1153.9 603.1 1154.4 597 1154.1 595 1153.5 592 1154.4 587.9 1154.1 586.9 1154.6 583.9 1154.3 581.9 1154.6 577.9 1153.6 569.8 1153.9 561.7 1152.5 558.7 1152.6 550.7 1150.5 544.6 1145 540.6 1139.2 534.5 1126.6 526.5 1106.9 524.5 1103.4 523.4 1102.8 516.4 1117.3 508.3 1136.5 505.3 1141.7 501.3 1147 497.2 1150 494.2 1151.5 489.2 1152.9 486.2 1152.6 479.1 1154.2 475.1 1153.5 473.1 1154 470 1153.6 460 1154.4 456.9 1153.9 452.9 1153.9 447.9 1154.8 439.8 1153.6 435.8 1154.6 429.7 1153.8 427.7 1154 426.7 1154.6Z" fill="#d7d700" fill-opacity="0.45"/>
<path d="M426.7 1154.1 427.7 1153.1 429.7 1152.8 435.8 1154.1 439.8 1152.5 444.8 1154.1 445.8 1153.7 447.9 1154.4 452.9 1153.1 456.9 1153 460 1153.8 464 1153 466 1152.9 467 1153.3 468 1152.7 470 1152.5 473.1 1153.1 475.1 1152.4 479.1 1153.4 481.1 1152.4 486.2 1151.1 488.2 1150.9 489.2 1151.5 492.2 1149.8 494.2 1149.3 497.2 1147 501.3 1142.4 505.3 1134.3 508.3 1126.3 516.4 1096.7 523.4 1074.4 524.5 1075.3 526.5 1080.7 534.5 1111 540.6 1130.4 544.6 1139.4 550.7 1147.8 557.7 1150.2 558.7 1151 561.7 1150.9 569.8 1153 577.9 1152.5 579.9 1152.9 581.9 1154.1 583.9 1153.6 586.9 1154.1 587.9 1153.3 592 1153.8 594 1152.4 595 1152.3 597 1153.3 603.1 1153.7 606.1 1152.9 608.1 1153" fill="none" stroke="#c8c800" stroke-width="1.2"/>
<path d="M426.7 1154.1 427.7 1153.1 429.7 1152.8 435.8 1154.1 439.8 1152.5 444.8 1154.1 445.8 1153.7 447.9 1154.4 452.9 1153.1 456.9 1153 460 1153.8 464 1153 466 1152.9 467 1153.3 468 1152.7 470 1152.5 473.1 1153.1 475.1 1152.4 479.1 1153.4 481.1 1152.4 486.2 1151.1 488.2 1150.9 489.2 1151.5 492.2 1149.8 494.2 1149.3 497.2 1147 501.3 1142.4 505.3 1134.3 508.3 1126.3 516.4 1096.7 523.4 1074.4 524.5 1075.3 526.5 1080.7 534.5 1111 540.6 1130.4 544.6 1139.4 550.7 1147.8 557.7 1150.2 558.7 1151 561.7 1150.9 569.8 1153 577.9 1152.5 579.9 1152.9 581.9 1154.1 583.9 1153.6 586.9 1154.1 587.9 1153.3 592 1153.8 594 1152.4 595 1152.3 597 1153.3 603.1 1153.7 606.1 1152.9 608.1 1153" fill="none" stroke="#9a9a10" stroke-width="0.9" stroke-dasharray="3,3"/>
<path d="M426.7 1152.4 428.7 1152.3 431.7 1151.2 442.8 1151.8 451.9 1151.6 454.9 1152 458.9 1151 460 1151 462 1152.1 464 1151.4 466 1151.9 470 1150.8 473.1 1151.3 476.1 1151.1 481.1 1149.5 484.1 1149.7 487.2 1148.4 490.2 1148 495.2 1145.1 500.3 1141.3 502.3 1140.5 505.3 1136.8 506.3 1136.4 509.3 1133.6 517.4 1128.6 520.4 1130.1 523.4 1132.4 531.5 1139.1 533.5 1141.3 538.6 1145 547.6 1148.9 556.7 1150.8 562.8 1150.7 571.8 1152 573.8 1151.5 577.9 1149.6 579.9 1146.5 582.9 1139.9 583.9 1138.4 584.9 1138 586.9 1141.2 590 1148.3 592 1150.6 597 1151.5 598 1152.1 608.1 1151.7 608.1 1154.3 600 1154.6 591 1153.9 584.9 1151.8 577.9 1153.7 571.8 1154.5 552.7 1153.5 547.6 1152.8 538.6 1150.7 523.4 1143.9 517.4 1141.9 509.3 1144.6 505.3 1146.3 502.3 1148.3 495.2 1150.8 490.2 1152.3 484.1 1153.3 481.1 1153.1 476.1 1154 470 1153.8 462 1154.6 458.9 1153.9 454.9 1154.5 431.7 1154 426.7 1154.7Z" fill="#1e90ff" fill-opacity="0.5"/>
<path d="M426.7 1153 428.7 1152.9 431.7 1151.9 442.8 1152.4 451.9 1152.2 454.9 1152.6 458.9 1151.8 462 1152.7 464 1152.1 466 1152.5 470 1151.6 473.1 1152 476.1 1151.8 481.1 1150.4 484.1 1150.7 487.2 1149.5 490.2 1149.2 495.2 1146.7 500.3 1143.4 502.3 1142.7 505.3 1139.5 509.3 1136.8 517.4 1132.5 520.4 1133.7 523.4 1135.7 531.5 1141.5 533.5 1143.4 538.6 1146.6 547.6 1150 556.7 1151.6 562.8 1151.5 571.8 1152.6 577.9 1151.4 584.9 1148.3 591 1151.7 594 1151.7 600 1152.8 608.1 1152.4 608.1 1153.7 598 1153.9 594 1153.2 591 1153.2 584.9 1150.5 577.9 1152.9 571.8 1153.8 562.8 1153 556.7 1153.1 547.6 1151.8 538.6 1149.1 533.5 1146.6 523.4 1140.6 517.4 1138 509.3 1141.4 505.3 1143.6 502.3 1146.1 495.2 1149.2 490.2 1151.2 484.1 1152.3 481.1 1152.2 476.1 1153.2 470 1153 462 1154 458.9 1153.2 454.9 1153.9 431.7 1153.3 426.7 1154.1Z" fill="#1e90ff" fill-opacity="0.45"/>
<path d="M426.7 1153.6 431.7 1152.6 454.9 1153.3 458.9 1152.5 462 1153.3 464 1152.8 466 1153.1 470 1152.3 476.1 1152.5 481.1 1151.3 484.1 1151.5 487.2 1150.5 490.2 1150.2 495.2 1148 500.3 1145 502.3 1144.4 505.3 1141.6 509.3 1139.1 517.4 1135.3 520.4 1136.4 523.4 1138.2 533.5 1145 538.6 1147.9 547.6 1150.9 556.7 1152.4 562.8 1152.3 571.8 1153.2 577.9 1152.1 584.9 1149.4 591 1152.5 594 1152.4 600 1153.4 608.1 1153" fill="none" stroke="#1a86ee" stroke-width="1.8"/>
<path d="M426.7 1146.6 427.7 1146.3 429.7 1147.9 430.7 1147.4 432.7 1145.2 434.8 1147.9 436.8 1145.8 439.8 1147.9 440.8 1147 441.8 1147.1 443.8 1145.7 446.9 1144.8 447.9 1144 449.9 1144.5 450.9 1145.4 451.9 1144.1 452.9 1144.4 455.9 1141.6 456.9 1141.7 458.9 1140.8 462 1137.2 464 1132.4 466 1130.4 467 1130 468 1127.2 472.1 1121.7 473.1 1117.8 476.1 1110.6 478.1 1103 480.1 1090.6 486.2 1043.4 490.2 991.3 494.2 915.1 495.2 913.6 539.6 913.6 540.6 914.9 544.6 990.5 546.6 1020.7 549.6 1055 552.7 1078.7 554.7 1090.8 557.7 1105.1 562.8 1122.5 564.8 1127.2 566.8 1128.6 568.8 1133.3 571.8 1135.4 576.9 1142.2 577.9 1140.6 579.9 1141.7 580.9 1143.3 582.9 1144.2 583.9 1144.2 585.9 1142.9 587.9 1145.6 589 1146.1 591 1146.1 592 1147.4 593 1145.9 595 1144.8 596 1145.6 597 1145.4 600 1148.8 601 1146.9 603.1 1146.8 604.1 1147.3 606.1 1144.7 607.1 1145.1 608.1 1147 608.1 1151.8 606.1 1150.8 604.1 1151.9 601 1151.8 600 1152.5 597 1151.1 595 1150.8 592 1152 591 1151.4 587.9 1151.2 585.9 1150 582.9 1150.6 577.9 1149.1 576.9 1149.8 571.8 1146.9 568.8 1146 566.8 1144 564.8 1143.4 563.8 1142.6 557.7 1134.1 554.7 1128 551.7 1119.8 548.6 1108.7 544.6 1085.6 541.6 1062.5 537.6 1020.5 534.5 977.2 531.5 922.5 530.5 913.6 504.3 913.6 503.3 922.8 498.3 1007.4 494.2 1053.5 491.2 1078.6 488.2 1097.8 485.2 1112 482.1 1121.9 478.1 1133.2 476.1 1136.4 473.1 1139.4 472.1 1141.1 468 1143.4 467 1144.6 464 1145.6 462 1147.7 460 1148.8 455.9 1149.5 450.9 1151.1 447.9 1150.5 439.8 1152.2 436.8 1151.3 434.8 1152.1 432.7 1151 429.7 1152.2 427.7 1151.5 426.7 1151.6Z" fill="#00c800" fill-opacity="0.5"/>
<path d="M426.7 1148.5 427.7 1148.2 429.7 1149.5 432.7 1147.4 434.8 1149.4 436.8 1147.9 439.8 1149.4 447.9 1146.5 450.9 1147.6 451.9 1146.6 452.9 1146.8 455.9 1144.7 456.9 1144.8 460 1143.6 462 1141.4 464 1137.8 467 1136 468 1133.9 472.1 1129.8 473.1 1126.8 476.1 1121.4 478.1 1115.7 485.2 1078.1 489.2 1042.4 493.2 990.5 497.2 915.5 498.3 913.6 536.5 913.6 537.6 916.1 541.6 990.1 546.6 1053.8 550.7 1085.8 553.7 1102.4 556.7 1114.1 563.8 1132.4 564.8 1133.9 566.8 1134.9 568.8 1138.5 571.8 1140.1 576.9 1145.2 577.9 1144 579.9 1144.8 580.9 1146 582.9 1146.7 583.9 1146.7 585.9 1145.7 587.9 1147.7 591 1148.1 592 1149.1 593 1147.9 595 1147.1 596 1147.7 597 1147.6 600 1150.1 601 1148.7 603.1 1148.6 604.1 1149 606.1 1147.1 607.1 1147.3 608.1 1148.7 608.1 1150.2 607.1 1149.1 606.1 1148.9 604.1 1150.4 601 1150.2 600 1151.2 597 1149.3 595 1148.9 593 1149.5 592 1150.4 591 1149.7 587.9 1149.4 585.9 1147.8 582.9 1148.6 577.9 1146.4 576.9 1147.4 571.8 1143.4 568.8 1142.1 566.8 1139.3 564.8 1138.5 562.8 1135.8 557.7 1125.5 553.7 1113.7 549.6 1095.9 546.6 1075.6 544.6 1057.7 539.6 999.5 534.5 913.6 500.3 913.6 495.2 998.8 490.2 1058.2 485.2 1094.7 478.1 1124.2 476.1 1128.7 473.1 1132.9 472.1 1135.3 468 1138.5 467 1140.2 464 1141.6 462 1144.4 460 1146.1 455.9 1147 450.9 1149.2 447.9 1148.4 439.8 1150.7 436.8 1149.5 434.8 1150.7 432.7 1149.1 429.7 1150.8 427.7 1149.8 426.7 1150Z" fill="#00c800" fill-opacity="0.45"/>
<path d="M426.7 1150 427.7 1149.8 429.7 1150.8 432.7 1149.1 434.8 1150.7 436.8 1149.5 439.8 1150.7 447.9 1148.4 450.9 1149.2 455.9 1147 458.9 1146.6 462 1144.4 464 1141.6 467 1140.2 468 1138.5 472.1 1135.3 473.1 1132.9 476.1 1128.7 478.1 1124.2 480.1 1116.9 485.2 1094.7 490.2 1058.2 495.2 998.8 500.3 913.6 534.5 913.6 539.6 999.5 543.6 1047.6 546.6 1075.6 548.6 1090 551.7 1105.5 554.7 1117 557.7 1125.5 563.8 1137.3 564.8 1138.5 566.8 1139.3 568.8 1142.1 571.8 1143.4 575.9 1146.8 576.9 1147.4 577.9 1146.4 582.9 1148.6 585.9 1147.8 587.9 1149.4 591 1149.7 592 1150.4 593 1149.5 595 1148.9 597 1149.3 600 1151.2 601 1150.2 604.1 1150.4 606.1 1148.9 607.1 1149.1 608.1 1150.2" fill="none" stroke="#1cc41c" stroke-width="1.3"/>
<path d="M426.7 1149.2 427.7 1149 429.7 1150.1 432.7 1148.3 434.8 1150.1 436.8 1148.7 439.8 1150.1 447.9 1147.5 450.9 1148.4 451.9 1147.5 452.9 1147.7 455.9 1145.9 458.9 1145.4 462 1142.9 464 1139.7 467 1138.1 468 1136.2 472.1 1132.5 473.1 1129.9 476.1 1125.1 478.1 1120 484.1 1092 488.2 1063.8 490.2 1045 493.2 1008.1 498.3 921.3 499.3 913.6 535.5 913.6 536.5 920.6 538.6 961.1 541.6 1007.8 546.6 1064.7 550.7 1093.3 553.7 1108 556.7 1118.5 563.8 1134.8 564.8 1136.2 566.8 1137.1 568.8 1140.3 571.8 1141.7 576.9 1146.3 577.9 1145.2 579.9 1145.9 580.9 1147 582.9 1147.6 585.9 1146.7 587.9 1148.5 591 1148.9 592 1149.8 593 1148.7 595 1148 596 1148.5 597 1148.4 600 1150.7 601 1149.4 604.1 1149.7 606.1 1148 607.1 1148.2 608.1 1149.5" fill="none" stroke="#14c814" stroke-width="1.6"/>
<path d="M426.7 1149.2 427.7 1149 429.7 1150.1 432.7 1148.3 434.8 1150.1 436.8 1148.7 439.8 1150.1 447.9 1147.5 450.9 1148.4 451.9 1147.5 452.9 1147.7 455.9 1145.9 458.9 1145.4 462 1142.9 464 1139.7 467 1138.1 468 1136.2 472.1 1132.5 473.1 1129.9 476.1 1125.1 478.1 1120 484.1 1092 488.2 1063.8 490.2 1045 493.2 1008.1 498.3 921.3 499.3 913.6 535.5 913.6 536.5 920.6 538.6 961.1 541.6 1007.8 546.6 1064.7 550.7 1093.3 553.7 1108 556.7 1118.5 563.8 1134.8 564.8 1136.2 566.8 1137.1 568.8 1140.3 571.8 1141.7 576.9 1146.3 577.9 1145.2 579.9 1145.9 580.9 1147 582.9 1147.6 585.9 1146.7 587.9 1148.5 591 1148.9 592 1149.8 593 1148.7 595 1148 596 1148.5 597 1148.4 600 1150.7 601 1149.4 604.1 1149.7 606.1 1148 607.1 1148.2 608.1 1149.5" fill="none" stroke="#0c8a0c" stroke-width="1.0" stroke-dasharray="3,3"/>
</g>
<rect x="113.4" y="916.6" width="197.5" height="250.2" fill="none" stroke="#4a4a4a" stroke-width="1.6"/>
<line x1="121.3" y1="1166.8" x2="121.3" y2="1179.8" stroke="#4a4a4a" stroke-width="1.6"/>
<line x1="212.2" y1="1166.8" x2="212.2" y2="1179.8" stroke="#4a4a4a" stroke-width="1.6"/>
<line x1="303" y1="1166.8" x2="303" y2="1179.8" stroke="#4a4a4a" stroke-width="1.6"/>
<line x1="101.4" y1="1157.6" x2="113.4" y2="1157.6" stroke="#4a4a4a" stroke-width="1.6"/>
<text x="97.9" y="1157.6" font-size="22" text-anchor="middle" transform="rotate(-90 97.9 1157.6)">0</text>
<line x1="101.4" y1="1099.6" x2="113.4" y2="1099.6" stroke="#4a4a4a" stroke-width="1.6"/>
<text x="97.9" y="1099.6" font-size="22" text-anchor="middle" transform="rotate(-90 97.9 1099.6)">200</text>
<line x1="101.4" y1="1041.6" x2="113.4" y2="1041.6" stroke="#4a4a4a" stroke-width="1.6"/>
<text x="97.9" y="1041.6" font-size="22" text-anchor="middle" transform="rotate(-90 97.9 1041.6)">400</text>
<line x1="101.4" y1="983.7" x2="113.4" y2="983.7" stroke="#4a4a4a" stroke-width="1.6"/>
<text x="97.9" y="983.7" font-size="22" text-anchor="middle" transform="rotate(-90 97.9 983.7)">600</text>
<line x1="101.4" y1="925.7" x2="113.4" y2="925.7" stroke="#4a4a4a" stroke-width="1.6"/>
<text x="97.9" y="925.7" font-size="22" text-anchor="middle" transform="rotate(-90 97.9 925.7)">800</text>
<rect x="418.8" y="916.6" width="197.2" height="250.2" fill="none" stroke="#4a4a4a" stroke-width="1.6"/>
<line x1="426.7" y1="1166.8" x2="426.7" y2="1179.8" stroke="#4a4a4a" stroke-width="1.6"/>
<line x1="517.4" y1="1166.8" x2="517.4" y2="1179.8" stroke="#4a4a4a" stroke-width="1.6"/>
<line x1="608.1" y1="1166.8" x2="608.1" y2="1179.8" stroke="#4a4a4a" stroke-width="1.6"/>
<line x1="406.8" y1="1157.6" x2="418.8" y2="1157.6" stroke="#4a4a4a" stroke-width="1.6"/>
<text x="403.3" y="1157.6" font-size="22" text-anchor="middle" transform="rotate(-90 403.3 1157.6)">0</text>
<line x1="406.8" y1="1093.2" x2="418.8" y2="1093.2" stroke="#4a4a4a" stroke-width="1.6"/>
<text x="403.3" y="1093.2" font-size="22" text-anchor="middle" transform="rotate(-90 403.3 1093.2)">50</text>
<line x1="406.8" y1="1028.8" x2="418.8" y2="1028.8" stroke="#4a4a4a" stroke-width="1.6"/>
<text x="403.3" y="1028.8" font-size="22" text-anchor="middle" transform="rotate(-90 403.3 1028.8)">100</text>
<line x1="406.8" y1="964.4" x2="418.8" y2="964.4" stroke="#4a4a4a" stroke-width="1.6"/>
<text x="403.3" y="964.4" font-size="22" text-anchor="middle" transform="rotate(-90 403.3 964.4)">150</text>
<text x="120.5" y="946.6" font-size="21.5">STAT2</text>
<polygon points="311.7,1386.8 386.6,1191.6 386.6,1441.8 311.7,1442.3" fill="url(#zg)"/>
<g clip-path="url(#cl2)">
<path d="M121.3 1430.3 123.3 1430.9 135.4 1430.4 144.5 1431 156.6 1429.9 158.6 1430.3 161.7 1429.6 165.7 1430.1 170.8 1428.4 174.8 1428.1 176.8 1427.1 177.8 1427.4 178.8 1427.1 184.9 1423.3 188.9 1419.1 193 1413.4 195 1408.9 196 1408.8 197 1407.7 198 1405.2 200 1404 201 1402.2 203.1 1401.1 204.1 1399 206.1 1400.4 208.1 1399.6 210.1 1396.8 212.1 1400.2 214.2 1397.5 215.2 1397.6 216.2 1399 218.2 1398.7 220.2 1399.6 222.2 1399 226.3 1402.8 227.3 1402.3 228.3 1403.3 229.3 1406 231.3 1407 232.3 1408.2 235.4 1415.1 236.4 1415.8 237.4 1415.4 239.4 1420.2 242.4 1423 245.5 1424.4 251.5 1428.5 252.5 1428 256.6 1428.3 261.6 1429.8 266.7 1429.9 268.7 1430.5 272.7 1429.9 274.7 1430.6 278.8 1429.7 280.8 1430.6 283.8 1430.3 287.9 1430.9 292.9 1430.4 303 1430.9 303 1433.1 301 1432.4 299 1433.2 296.9 1432.9 294.9 1433.2 293.9 1432.7 291.9 1433 284.8 1432.9 282.8 1433.4 277.8 1432.7 275.7 1433.1 267.7 1433.1 265.7 1433.9 263.6 1433.3 257.6 1433.3 255.6 1434.1 253.5 1433.8 251.5 1434.8 248.5 1434.7 247.5 1433.9 246.5 1433.9 243.4 1435.6 241.4 1434.7 239.4 1435.8 238.4 1435.4 236.4 1435.7 235.4 1436.7 234.4 1437 231.3 1436.3 230.3 1437.5 229.3 1437.8 227.3 1437.4 224.3 1438.6 222.2 1438.1 221.2 1439.1 217.2 1437.7 215.2 1438.7 214.2 1438 212.1 1438.6 211.1 1438.2 209.1 1439.2 208.1 1438.8 206.1 1440.2 204.1 1439.6 201 1440.1 198 1441.5 194 1438.8 188.9 1438.7 186.9 1436.8 184.9 1437.3 182.9 1435.9 180.9 1435.6 178.8 1434.4 168.7 1433.7 166.7 1434.1 165.7 1433.4 160.7 1433.5 158.6 1433 151.6 1433.4 147.5 1432.8 144.5 1433.3 135.4 1432.6 131.4 1433.1 121.3 1432.6Z" fill="#d7d700" fill-opacity="0.5"/>
<path d="M121.3 1431.5 126.3 1431 130.4 1431.5 137.5 1431.5 138.5 1431.2 140.5 1431.5 143.5 1431.1 145.5 1431.5 147.5 1430.8 150.6 1431.4 155.6 1430.8 160.7 1431.1 162.7 1430.6 169.8 1430.7 173.8 1430.2 175.8 1430.5 182.9 1428.9 184.9 1429 192 1425.7 195 1423.8 200 1418.5 206.1 1411 210.1 1409.1 213.2 1408.6 219.2 1409.2 222.2 1411.6 230.3 1421.2 235.4 1425.5 241.4 1427.9 242.4 1428.7 246.5 1429.1 251.5 1430.5 262.6 1430.6 264.6 1431.1 267.7 1430.7 271.7 1431.4 276.8 1430.9 282.8 1431.6 283.8 1431.1 285.8 1431.5 288.9 1431.1 291.9 1431.9 292.9 1431.5 294.9 1431.9 301 1431 303 1431.4 303 1432.3 291.9 1432.5 251.5 1432.1 242.4 1431.5 235.4 1430.5 219.2 1425.4 213.2 1425.2 206.1 1426 195 1430 184.9 1431.6 175.8 1432.1 121.3 1432.4Z" fill="#d7d700" fill-opacity="0.45"/>
<path d="M121.3 1432 175.8 1431.3 184.9 1430.4 195 1427.1 206.1 1419.1 210.1 1417.9 213.2 1417.6 219.2 1418 222.2 1419.5 230.3 1425.5 235.4 1428.2 242.4 1430.2 251.5 1431.3 264.6 1431.7 288.9 1431.7 291.9 1432.2 303 1431.9" fill="none" stroke="#c8c800" stroke-width="1.2"/>
<path d="M121.3 1432 175.8 1431.3 184.9 1430.4 195 1427.1 206.1 1419.1 210.1 1417.9 213.2 1417.6 219.2 1418 222.2 1419.5 230.3 1425.5 235.4 1428.2 242.4 1430.2 251.5 1431.3 264.6 1431.7 288.9 1431.7 291.9 1432.2 303 1431.9" fill="none" stroke="#9a9a10" stroke-width="0.9" stroke-dasharray="3,3"/>
<path d="M121.3 1431.5 125.3 1431.2 136.4 1431.5 142.5 1431 160.7 1431.2 187.9 1430 202.1 1426.7 204.1 1425.6 212.1 1423.5 221.2 1425.9 228.3 1428.3 237.4 1430 250.5 1430.9 252.5 1430.5 260.6 1431 275.7 1431.3 277.8 1430.9 282.8 1431.6 285.8 1431.2 303 1431.2 303 1432.2 250.5 1432.1 236.4 1431.6 212.1 1428.7 187.9 1431.7 121.3 1432.4Z" fill="#1e90ff" fill-opacity="0.5"/>
<path d="M121.3 1431.8 142.5 1431.4 160.7 1431.5 187.9 1430.6 202.1 1427.8 204.1 1426.9 212.1 1425.3 228.3 1429.2 237.4 1430.6 250.5 1431.3 252.5 1431 260.6 1431.4 277.8 1431.3 282.8 1431.9 285.8 1431.5 303 1431.6 303 1431.9 282.8 1432.1 277.8 1431.7 241.4 1431.4 228.3 1430.1 212.1 1427.2 187.9 1431.2 160.7 1431.9 121.3 1432.1Z" fill="#1e90ff" fill-opacity="0.45"/>
<path d="M121.3 1432 160.7 1431.7 187.9 1430.9 202.1 1428.5 204.1 1427.7 212.1 1426.2 228.3 1429.6 237.4 1430.9 250.5 1431.5 252.5 1431.2 260.6 1431.6 277.8 1431.5 282.8 1432 303 1431.7" fill="none" stroke="#1a86ee" stroke-width="1.8"/>
<path d="M121.3 1431.6 123.3 1430.9 129.4 1431.9 133.4 1430.6 135.4 1431.4 139.5 1431 141.5 1431.5 143.5 1430.8 144.5 1431.3 150.6 1431.2 151.6 1431.6 163.7 1429.3 167.7 1426.6 168.7 1426.5 172.8 1422 174.8 1418.9 177.8 1412.5 181.9 1400.2 185.9 1382.1 187.9 1370.3 193 1334.2 200 1271.4 205.1 1234.6 208.1 1222.8 209.1 1220.9 212.1 1219.4 214.2 1219.7 215.2 1220.8 217.2 1225.6 219.2 1234.7 223.3 1263.1 230.3 1325.3 236.4 1370.4 241.4 1396.2 244.5 1407.4 247.5 1414.8 251.5 1421.6 255.6 1425.8 259.6 1428.9 261.6 1428.8 264.6 1430.6 269.7 1430.4 270.7 1431 273.7 1431.2 275.7 1430.5 278.8 1431.4 281.8 1431.5 283.8 1431 285.8 1431.3 287.9 1430.9 289.9 1431.6 290.9 1431.2 293.9 1431.6 295.9 1430.9 300 1431.5 302 1432.5 303 1431.5 303 1432.5 302 1433 295.9 1432.3 289.9 1432.6 264.6 1432.1 261.6 1431.3 259.6 1431.3 252.5 1428.6 250.5 1427.3 247.5 1424.8 244.5 1421.4 241.4 1416.2 238.4 1409.7 233.3 1394.4 228.3 1374.2 220.2 1335.9 217.2 1324.8 215.2 1320.4 214.2 1319.1 212.1 1318.4 210.1 1319.3 209.1 1320.4 206.1 1328.1 194 1383 188.9 1401 184.9 1411.9 181.9 1418 178.8 1422.5 174.8 1426.7 172.8 1428.1 168.7 1430.2 163.7 1431.5 151.6 1432.6 143.5 1432.2 135.4 1432.5 133.4 1432.1 129.4 1432.7 123.3 1432.3 121.3 1432.6Z" fill="#00c800" fill-opacity="0.5"/>
<path d="M121.3 1431.9 123.3 1431.4 129.4 1432.2 133.4 1431.1 135.4 1431.8 139.5 1431.5 141.5 1431.9 143.5 1431.3 144.5 1431.7 150.6 1431.6 151.6 1432 163.7 1430.1 167.7 1428 168.7 1427.9 172.8 1424.2 177.8 1416.7 181.9 1406.8 184.9 1396.3 189.9 1372 194 1346.8 203.1 1279.2 206.1 1261.5 209.1 1251.4 210.1 1250.2 212.1 1249.2 214.2 1249.9 215.2 1251.4 218.2 1261.4 221.2 1279.4 233.3 1366.3 238.4 1392.4 241.4 1403.6 244.5 1412.6 247.5 1418.5 250.5 1422.8 252.5 1425 259.6 1429.7 261.6 1429.7 264.6 1431.1 269.7 1431 271.7 1431.6 275.7 1431.1 278.8 1431.8 286.8 1431.4 288.9 1431.9 290.9 1431.6 293.9 1431.9 295.9 1431.4 300 1431.8 302 1432.6 303 1431.8 302 1432.8 300 1432.2 295.9 1431.8 293.9 1432.3 286.8 1431.8 278.8 1432.1 275.7 1431.6 271.7 1432 269.7 1431.5 264.6 1431.6 261.6 1430.5 259.6 1430.5 252.5 1426.8 250.5 1425.1 247.5 1421.7 244.5 1417.1 241.4 1410 238.4 1401.2 233.3 1380.7 221.2 1312.4 218.2 1298.3 215.2 1290.4 214.2 1289.2 212.1 1288.7 210.1 1289.5 209.1 1290.4 206.1 1298.3 203.1 1312.3 194 1365.4 189.9 1385.2 184.9 1404.2 181.9 1412.5 177.8 1420.3 172.8 1426.2 168.7 1429 163.7 1430.8 151.6 1432.3 143.5 1431.7 141.5 1432.2 135.4 1432.1 133.4 1431.6 129.4 1432.5 123.3 1431.8 121.3 1432.3Z" fill="#00c800" fill-opacity="0.45"/>
<path d="M121.3 1432.3 123.3 1431.8 129.4 1432.5 133.4 1431.6 135.4 1432.1 141.5 1432.2 143.5 1431.7 151.6 1432.3 163.7 1430.8 168.7 1429 172.8 1426.2 177.8 1420.3 181.9 1412.5 184.9 1404.2 189.9 1385.2 194 1365.4 203.1 1312.3 206.1 1298.3 209.1 1290.4 210.1 1289.5 212.1 1288.7 214.2 1289.2 215.2 1290.4 218.2 1298.3 221.2 1312.4 233.3 1380.7 238.4 1401.2 241.4 1410 244.5 1417.1 247.5 1421.7 250.5 1425.1 252.5 1426.8 259.6 1430.5 261.6 1430.5 264.6 1431.6 269.7 1431.5 271.7 1432 275.7 1431.6 278.8 1432.1 286.8 1431.8 293.9 1432.3 295.9 1431.8 300 1432.2 302 1432.8 303 1432.2" fill="none" stroke="#1cc41c" stroke-width="1.3"/>
<path d="M121.3 1432.1 123.3 1431.6 129.4 1432.3 133.4 1431.4 135.4 1431.9 139.5 1431.7 141.5 1432.1 143.5 1431.5 144.5 1431.9 151.6 1432.1 163.7 1430.4 168.7 1428.4 172.8 1425.2 177.8 1418.5 181.9 1409.6 184.9 1400.2 189.9 1378.6 194 1356.1 203.1 1295.7 206.1 1279.9 209.1 1270.9 210.1 1269.8 212.1 1268.9 214.2 1269.6 215.2 1270.9 218.2 1279.9 221.2 1295.9 233.3 1373.5 238.4 1396.8 241.4 1406.8 244.5 1414.8 247.5 1420.1 250.5 1424 252.5 1425.9 259.6 1430.1 261.6 1430.1 264.6 1431.4 269.7 1431.2 271.7 1431.8 275.7 1431.3 278.8 1432 286.8 1431.6 288.9 1432.1 293.9 1432.1 295.9 1431.6 300 1432 302 1432.7 303 1432" fill="none" stroke="#14c814" stroke-width="1.6"/>
<path d="M121.3 1432.1 123.3 1431.6 129.4 1432.3 133.4 1431.4 135.4 1431.9 139.5 1431.7 141.5 1432.1 143.5 1431.5 144.5 1431.9 151.6 1432.1 163.7 1430.4 168.7 1428.4 172.8 1425.2 177.8 1418.5 181.9 1409.6 184.9 1400.2 189.9 1378.6 194 1356.1 203.1 1295.7 206.1 1279.9 209.1 1270.9 210.1 1269.8 212.1 1268.9 214.2 1269.6 215.2 1270.9 218.2 1279.9 221.2 1295.9 233.3 1373.5 238.4 1396.8 241.4 1406.8 244.5 1414.8 247.5 1420.1 250.5 1424 252.5 1425.9 259.6 1430.1 261.6 1430.1 264.6 1431.4 269.7 1431.2 271.7 1431.8 275.7 1431.3 278.8 1432 286.8 1431.6 288.9 1432.1 293.9 1432.1 295.9 1431.6 300 1432 302 1432.7 303 1432" fill="none" stroke="#0c8a0c" stroke-width="1.0" stroke-dasharray="3,3"/>
</g>
<g clip-path="url(#cr2)">
<path d="M426.7 1406.1 428.7 1409.4 429.7 1409.4 430.7 1408.5 432.7 1407.8 433.8 1409.5 435.8 1406.9 436.8 1407.8 437.8 1407.8 438.8 1408.8 440.8 1406.9 442.8 1408.4 443.8 1407.4 444.8 1408.1 445.8 1410.2 447.9 1407.9 448.9 1410.2 449.9 1410.3 450.9 1408.7 452.9 1409.9 454.9 1405.9 455.9 1406.1 456.9 1407.6 458.9 1405.1 461 1405.5 462 1403.8 463 1404.4 464 1406.1 467 1402.5 469 1405.3 470 1404.4 471 1405.1 472.1 1403.4 473.1 1400 474.1 1400.3 476.1 1395.6 478.1 1394.9 479.1 1393.2 480.1 1394.1 481.1 1393.1 482.1 1388.5 483.1 1390.2 484.1 1388.4 485.2 1383.6 488.2 1375.4 489.2 1370.1 490.2 1367.5 494.2 1344.3 496.2 1325.7 498.3 1312.4 500.3 1287.7 501.3 1286.9 502.3 1281.1 503.3 1267 504.3 1262.4 505.3 1260.2 506.3 1250.2 507.3 1246 508.3 1244.1 509.3 1232.7 511.4 1240.5 513.4 1235.8 515.4 1220.2 517.4 1239 519.4 1224.1 520.4 1225 521.4 1232.5 522.4 1233 523.4 1230.8 525.5 1235.7 527.5 1232.8 529.5 1240.9 531.5 1253.4 532.5 1251 533.5 1256.3 534.5 1271.4 536.5 1277 537.6 1283.5 540.6 1322 541.6 1325.5 542.6 1323.5 544.6 1350.2 545.6 1353.1 547.6 1365.9 549.6 1372.6 550.7 1373.7 554.7 1387.3 556.7 1396.3 557.7 1393.6 558.7 1393.9 559.7 1395.5 561.7 1395.4 563.8 1397.3 566.8 1403.4 569.8 1405.2 571.8 1404 572.8 1404.6 573.8 1407.3 574.8 1407.3 575.9 1405.2 576.9 1404.2 577.9 1404.1 579.9 1407.7 581.9 1403.8 582.9 1404.1 583.9 1402.9 585.9 1407.6 586.9 1406.5 589 1406.4 591 1407.3 592 1409.1 593 1409.5 597 1408 598 1406.7 603.1 1409 604.1 1409.1 607.1 1407.9 608.1 1409.3 608.1 1421.8 607.1 1421 606.1 1418.1 604.1 1422.4 603.1 1421.9 602.1 1420.6 601 1422.1 600 1422.1 599 1419.3 598 1419.5 597 1421.3 594 1419.7 592 1421.9 590 1420.5 589 1420.9 587.9 1423.2 586.9 1422.8 585.9 1421 584.9 1421.1 582.9 1419.4 581.9 1421.2 580.9 1422 579.9 1420.8 576.9 1421.8 575.9 1421 573.8 1422.4 572.8 1421.7 570.8 1426 568.8 1422.9 566.8 1422.9 565.8 1423.7 562.8 1422.8 560.7 1427.5 558.7 1425.4 557.7 1426.9 556.7 1431 554.7 1429.6 553.7 1430.6 552.7 1426.4 551.7 1426 548.6 1435.6 547.6 1434.2 546.6 1430.9 544.6 1436.8 543.6 1434.4 542.6 1434.5 541.6 1435.9 540.6 1441.9 539.6 1443.5 537.6 1439.4 536.5 1439.4 535.5 1446.2 534.5 1447.8 533.5 1445.2 532.5 1445.7 531.5 1447.8 523.4 1447.8 522.4 1447.5 521.4 1447.8 494.2 1447.8 493.2 1447.4 492.2 1442.4 490.2 1445.1 488.2 1437.1 487.2 1435.6 486.2 1435.3 484.1 1428.9 481.1 1428.9 480.1 1427.1 478.1 1427.7 477.1 1425.8 476.1 1427 475.1 1426.8 474.1 1425.3 473.1 1427.6 472.1 1427.4 471 1423.7 470 1422.9 469 1423.5 468 1422.3 466 1424 465 1421.6 464 1421 463 1422.4 462 1422.3 461 1421.3 460 1421.4 458.9 1423 456.9 1423.2 452.9 1420 450.9 1422.7 449.9 1422.7 448.9 1421 447.9 1421.1 446.9 1422.1 444.8 1419.8 443.8 1419.8 442.8 1420.7 440.8 1418.8 439.8 1420.6 436.8 1421.6 433.8 1419.3 432.7 1420.1 430.7 1420.5 428.7 1418.1 426.7 1419.2Z" fill="#d7d700" fill-opacity="0.5"/>
<path d="M426.7 1413.1 428.7 1411.8 429.7 1411.9 431.7 1410.3 432.7 1410.6 434.8 1412.6 435.8 1412.9 437.8 1411.9 439.8 1413.2 440.8 1412.2 442.8 1413.1 443.8 1411.1 445.8 1413 446.9 1412.8 447.9 1411.3 448.9 1410.7 449.9 1412.7 450.9 1412.9 452.9 1409.2 454.9 1410.4 455.9 1412.3 456.9 1411.9 457.9 1410.4 458.9 1410.4 460 1408.9 461 1408.7 462 1409.6 463 1409.2 466 1410.6 468 1408 469 1408.9 471 1407.3 472.1 1409.1 474.1 1407.2 475.1 1408.5 477.1 1406.4 478.1 1406.7 479.1 1405.5 481.1 1407.5 483.1 1403.5 486.2 1402.5 488.2 1398.2 489.2 1398.1 490.2 1398.9 492.2 1393.3 493.2 1391.8 495.2 1384.9 497.2 1380.9 500.3 1369.9 505.3 1340.5 511.4 1299.1 513.4 1295.3 514.4 1290.9 515.4 1288.6 516.4 1287.9 517.4 1286.2 518.4 1285.9 520.4 1287.3 523.4 1287.5 524.5 1289.1 527.5 1302.6 535.5 1355.9 537.6 1363.5 540.6 1379.7 546.6 1392.7 547.6 1397.2 549.6 1397.4 550.7 1399.2 551.7 1399.4 553.7 1403.9 556.7 1407.1 559.7 1407 561.7 1407.8 562.8 1406.6 566.8 1408.9 567.8 1408 569.8 1410.9 570.8 1410.7 572.8 1408.5 574.8 1409 576.9 1412.5 577.9 1411.1 580.9 1411.3 581.9 1409.6 584.9 1410.2 586.9 1413.1 587.9 1413.2 589 1410.8 591 1412.9 592 1412.7 593 1410.6 594 1410.7 595 1413.1 597 1415.3 598 1412.9 599 1412.7 600 1415.2 601 1414.4 602.1 1412.1 604.1 1411.5 605.1 1412.2 606.1 1410.3 607.1 1410.3 608.1 1412.2 608.1 1417.5 606.1 1416.9 605.1 1417.5 602.1 1417.5 600 1418.4 599 1417.7 598 1417.7 597 1418.5 594 1417 591 1417.7 589 1417.1 587.9 1417.8 586.9 1417.8 584.9 1416.9 581.9 1416.7 580.9 1417.2 577.9 1417.2 576.9 1417.6 574.8 1416.5 572.8 1416.4 569.8 1417.1 567.8 1416.2 566.8 1416.5 562.8 1415.7 561.7 1416.1 556.7 1415.9 553.7 1414.9 551.7 1413.5 547.6 1412.8 546.6 1411.4 540.6 1407.3 537.6 1402.3 535.5 1399.9 527.5 1383.3 524.5 1379 523.4 1378.5 518.4 1378 515.4 1378.9 513.4 1381 511.4 1382.2 505.3 1395.1 500.3 1404.3 497.2 1407.7 490.2 1413.4 488.2 1413.1 486.2 1414.5 483.1 1414.8 481.1 1416 479.1 1415.4 475.1 1416.3 474.1 1415.9 472.1 1416.5 471 1416 469 1416.5 468 1416.2 466 1417 461 1416.4 455.9 1417.5 452.9 1416.6 450.9 1417.7 448.9 1417 445.8 1417.7 443.8 1417.2 442.8 1417.8 437.8 1417.4 435.8 1417.7 431.7 1416.9 426.7 1417.8Z" fill="#d7d700" fill-opacity="0.45"/>
<path d="M426.7 1415.4 431.7 1413.7 435.8 1415.3 437.8 1414.7 439.8 1415.5 440.8 1414.8 442.8 1415.4 443.8 1414.2 445.8 1415.4 446.9 1415.2 448.9 1413.9 449.9 1415.2 450.9 1415.3 452.9 1413 454.9 1413.7 455.9 1414.9 461 1412.7 462 1413.2 463 1413 466 1413.8 468 1412.2 469 1412.8 471 1411.8 472.1 1412.9 474.1 1411.7 475.1 1412.5 477.1 1411.2 478.1 1411.4 479.1 1410.7 481.1 1411.9 483.1 1409.4 486.2 1408.8 488.2 1406.1 489.2 1406 490.2 1406.6 492.2 1403 493.2 1402.1 495.2 1397.8 497.2 1395.3 500.3 1388.4 505.3 1370 511.4 1344.2 513.4 1341.8 515.4 1337.6 517.4 1336.1 518.4 1335.9 520.4 1336.8 523.4 1336.9 524.5 1337.9 527.5 1346.4 535.5 1379.7 537.6 1384.4 540.6 1394.5 546.6 1402.7 547.6 1405.5 549.6 1405.6 550.7 1406.7 551.7 1406.8 553.7 1409.7 556.7 1411.7 559.7 1411.6 561.7 1412.1 562.8 1411.4 566.8 1412.8 567.8 1412.2 569.8 1414 570.8 1413.9 572.8 1412.6 574.8 1412.9 576.9 1415.1 577.9 1414.2 580.9 1414.3 581.9 1413.2 584.9 1413.6 586.9 1415.4 587.9 1415.5 589 1414 591 1415.3 592 1415.2 593 1413.8 594 1413.9 595 1415.4 597 1416.8 598 1415.3 599 1415.2 600 1416.7 601 1416.2 602.1 1414.8 604.1 1414.4 605.1 1414.9 606.1 1413.7 607.1 1413.7 608.1 1414.9" fill="none" stroke="#c8c800" stroke-width="1.2"/>
<path d="M426.7 1415.4 431.7 1413.7 435.8 1415.3 437.8 1414.7 439.8 1415.5 440.8 1414.8 442.8 1415.4 443.8 1414.2 445.8 1415.4 446.9 1415.2 448.9 1413.9 449.9 1415.2 450.9 1415.3 452.9 1413 454.9 1413.7 455.9 1414.9 461 1412.7 462 1413.2 463 1413 466 1413.8 468 1412.2 469 1412.8 471 1411.8 472.1 1412.9 474.1 1411.7 475.1 1412.5 477.1 1411.2 478.1 1411.4 479.1 1410.7 481.1 1411.9 483.1 1409.4 486.2 1408.8 488.2 1406.1 489.2 1406 490.2 1406.6 492.2 1403 493.2 1402.1 495.2 1397.8 497.2 1395.3 500.3 1388.4 505.3 1370 511.4 1344.2 513.4 1341.8 515.4 1337.6 517.4 1336.1 518.4 1335.9 520.4 1336.8 523.4 1336.9 524.5 1337.9 527.5 1346.4 535.5 1379.7 537.6 1384.4 540.6 1394.5 546.6 1402.7 547.6 1405.5 549.6 1405.6 550.7 1406.7 551.7 1406.8 553.7 1409.7 556.7 1411.7 559.7 1411.6 561.7 1412.1 562.8 1411.4 566.8 1412.8 567.8 1412.2 569.8 1414 570.8 1413.9 572.8 1412.6 574.8 1412.9 576.9 1415.1 577.9 1414.2 580.9 1414.3 581.9 1413.2 584.9 1413.6 586.9 1415.4 587.9 1415.5 589 1414 591 1415.3 592 1415.2 593 1413.8 594 1413.9 595 1415.4 597 1416.8 598 1415.3 599 1415.2 600 1416.7 601 1416.2 602.1 1414.8 604.1 1414.4 605.1 1414.9 606.1 1413.7 607.1 1413.7 608.1 1414.9" fill="none" stroke="#9a9a10" stroke-width="0.9" stroke-dasharray="3,3"/>
<path d="M426.7 1413 427.7 1411.5 430.7 1410.9 431.7 1411.1 432.7 1412.1 434.8 1411.4 436.8 1412.1 438.8 1411.1 441.8 1412.6 443.8 1410.9 444.8 1411 447.9 1409.8 448.9 1410.5 453.9 1411.6 454.9 1410.4 458.9 1411.3 461 1409.7 463 1411.1 464 1410.6 466 1411.1 469 1409.4 473.1 1409.4 474.1 1408.3 477.1 1408.5 482.1 1406.8 484.1 1407.5 485.2 1407.3 487.2 1406.3 488.2 1406.4 490.2 1404.1 491.2 1403.6 492.2 1404.8 493.2 1404.8 496.2 1401.4 497.2 1399 498.3 1397.8 499.3 1397.8 504.3 1390.1 505.3 1387.9 507.3 1386 509.3 1379.9 511.4 1378 514.4 1373.4 515.4 1370.8 517.4 1368.6 519.4 1371.3 520.4 1371.9 522.4 1376.4 526.5 1381.6 528.5 1387.1 530.5 1390.6 531.5 1391 533.5 1394.9 542.6 1404.6 544.6 1404.5 545.6 1406 546.6 1406.5 547.6 1405.3 548.6 1405.5 549.6 1406.6 550.7 1406.6 552.7 1408.1 554.7 1408.5 555.7 1409.5 557.7 1407.2 558.7 1408.4 560.7 1409.7 562.8 1409.1 565.8 1410.3 566.8 1408.9 568.8 1409.9 571.8 1409.5 573.8 1410.8 575.9 1410.6 576.9 1411.1 578.9 1410.6 580.9 1411.6 581.9 1409.9 582.9 1409.5 583.9 1410.9 584.9 1410.1 585.9 1410.4 586.9 1412.7 587.9 1413.4 589 1413 591 1411 592 1412.1 594 1411.7 595 1412.1 596 1411.4 597 1411.4 600 1412.3 601 1412.3 604.1 1410.3 605.1 1410.3 606.1 1411.2 608.1 1411.2 608.1 1417 604.1 1416.6 600 1417.5 597 1417.1 592 1417.4 591 1416.9 587.9 1418 586.9 1417.7 585.9 1416.6 583.9 1416.8 582.9 1416.2 580.9 1417.2 578.9 1416.7 573.8 1416.8 571.8 1416.2 568.8 1416.4 566.8 1415.9 565.8 1416.6 562.8 1416 560.7 1416.3 557.7 1415.1 555.7 1416.2 548.6 1414.4 547.6 1414.3 546.6 1414.8 544.6 1413.9 541.6 1413.6 533.5 1409.5 531.5 1407.6 530.5 1407.4 527.5 1404.8 526.5 1403.3 522.4 1400.9 520.4 1398.7 517.4 1397.2 515.4 1398.2 511.4 1401.6 509.3 1402.5 507.3 1405.3 505.3 1406.2 499.3 1410.8 497.2 1411.3 496.2 1412.4 493.2 1414 491.2 1413.5 488.2 1414.8 485.2 1415.2 482.1 1415 477.1 1415.8 474.1 1415.7 473.1 1416.2 469 1416.2 466 1416.9 463 1417 461 1416.3 458.9 1417 454.9 1416.6 453.9 1417.2 447.9 1416.4 443.8 1416.9 441.8 1417.7 438.8 1417 432.7 1417.4 430.7 1416.9 427.7 1417.2 426.7 1417.8Z" fill="#1e90ff" fill-opacity="0.5"/>
<path d="M426.7 1414.7 427.7 1413.5 430.7 1413 431.7 1413.1 432.7 1414 434.8 1413.4 436.8 1413.9 438.8 1413.1 441.8 1414.4 443.8 1413 444.8 1413.1 447.9 1412.1 448.9 1412.7 453.9 1413.6 454.9 1412.6 458.9 1413.3 461 1412 463 1413.2 464 1412.7 466 1413.1 469 1411.8 473.1 1411.8 474.1 1410.9 477.1 1411 482.1 1409.6 485.2 1410.1 487.2 1409.2 488.2 1409.3 490.2 1407.4 491.2 1407 492.2 1407.9 493.2 1407.9 496.2 1405.1 497.2 1403.2 498.3 1402.2 499.3 1402.2 505.3 1394 507.3 1392.5 509.3 1387.5 511.4 1385.9 514.4 1382.1 515.4 1380 517.4 1378.2 519.4 1380.4 520.4 1380.9 522.4 1384.6 526.5 1388.9 528.5 1393.4 530.5 1396.3 531.5 1396.6 533.5 1399.9 542.6 1407.8 544.6 1407.7 545.6 1409 546.6 1409.4 547.6 1408.4 548.6 1408.6 549.6 1409.4 554.7 1411 555.7 1411.8 557.7 1409.9 558.7 1410.9 560.7 1412 562.8 1411.5 565.8 1412.5 566.8 1411.3 568.8 1412.2 571.8 1411.8 573.8 1412.9 575.9 1412.7 576.9 1413.1 578.9 1412.7 580.9 1413.5 581.9 1412.1 582.9 1411.8 583.9 1412.9 584.9 1412.3 585.9 1412.6 586.9 1414.5 587.9 1415.1 591 1413.1 592 1414 594 1413.7 595 1414 597 1413.4 600 1414.1 601 1414.1 604.1 1412.5 605.1 1412.5 606.1 1413.2 608.1 1413.2 608.1 1415 604.1 1414.5 600 1415.7 597 1415.1 592 1415.6 591 1414.9 587.9 1416.4 586.9 1416 585.9 1414.6 584.9 1414.4 583.9 1414.8 582.9 1414 581.9 1414.2 580.9 1415.2 578.9 1414.6 573.8 1414.8 571.8 1414 568.8 1414.3 566.8 1413.6 565.8 1414.5 562.8 1413.8 560.7 1414.1 557.7 1412.6 555.7 1414 548.6 1411.6 547.6 1411.5 546.6 1412.2 544.6 1410.9 542.6 1411 541.6 1410.6 533.5 1405.2 531.5 1402.7 530.5 1402.5 528.5 1400.4 526.5 1397.1 522.4 1393.9 520.4 1391.1 517.4 1389.1 515.4 1390.5 514.4 1392 511.4 1394.9 509.3 1396 507.3 1399.7 505.3 1400.9 499.3 1406.9 498.3 1406.9 497.2 1407.6 496.2 1409.1 493.2 1411.1 492.2 1411.1 491.2 1410.4 488.2 1412.1 485.2 1412.7 482.1 1412.4 477.1 1413.4 474.1 1413.3 473.1 1413.9 469 1413.9 466 1414.9 463 1415 461 1414.1 458.9 1415.1 454.9 1414.5 453.9 1415.3 447.9 1414.2 443.8 1414.9 441.8 1415.9 438.8 1415 436.8 1415.6 434.8 1415.1 432.7 1415.6 430.7 1414.9 427.7 1415.2 426.7 1416.1Z" fill="#1e90ff" fill-opacity="0.45"/>
<path d="M426.7 1415.4 427.7 1414.4 430.7 1413.9 432.7 1414.8 434.8 1414.3 436.8 1414.7 438.8 1414.1 441.8 1415.1 443.8 1413.9 447.9 1413.2 453.9 1414.4 454.9 1413.6 458.9 1414.2 461 1413.1 463 1414.1 464 1413.7 466 1414 469 1412.8 473.1 1412.8 474.1 1412.1 477.1 1412.2 482.1 1411 485.2 1411.4 487.2 1410.6 488.2 1410.7 491.2 1408.7 492.2 1409.5 493.2 1409.5 496.2 1407.1 497.2 1405.4 498.3 1404.6 499.3 1404.5 505.3 1397.4 507.3 1396.1 509.3 1391.8 511.4 1390.4 514.4 1387.1 515.4 1385.2 517.4 1383.7 520.4 1386 522.4 1389.3 526.5 1393 528.5 1396.9 530.5 1399.4 531.5 1399.7 533.5 1402.5 542.6 1409.4 544.6 1409.3 545.6 1410.4 546.6 1410.8 547.6 1409.9 548.6 1410.1 549.6 1410.8 554.7 1412.2 555.7 1412.9 557.7 1411.2 560.7 1413 562.8 1412.7 565.8 1413.5 566.8 1412.5 568.8 1413.2 571.8 1412.9 573.8 1413.9 578.9 1413.7 580.9 1414.4 581.9 1413.2 582.9 1412.9 583.9 1413.9 584.9 1413.4 585.9 1413.6 586.9 1415.2 587.9 1415.7 591 1414 592 1414.8 594 1414.5 595 1414.8 597 1414.2 600 1414.9 601 1414.9 604.1 1413.5 608.1 1414.1" fill="none" stroke="#1a86ee" stroke-width="1.8"/>
<path d="M426.7 1413.4 427.7 1412.9 428.7 1409.7 430.7 1411.8 431.7 1411 433.8 1413.2 434.8 1415.2 436.8 1410.2 438.8 1407.8 440.8 1412.2 441.8 1410.8 444.8 1410.3 446.9 1413.1 448.9 1408.8 449.9 1411.9 450.9 1410.8 451.9 1411.3 454.9 1411.4 455.9 1411.1 456.9 1413.6 458.9 1411.9 461 1407.8 463 1406.3 464 1406.4 465 1405.4 466 1402.5 467 1401.3 468 1401.7 469 1400.6 471 1394.6 473.1 1385.8 474.1 1385.1 479.1 1352.6 483.1 1307.6 487.2 1239.1 489.2 1191.6 545.6 1191.6 549.6 1279.4 552.7 1320.2 555.7 1350.4 557.7 1365.4 563.8 1395 564.8 1398.2 565.8 1398.8 566.8 1397.7 567.8 1400.3 568.8 1406 569.8 1407.9 570.8 1406.2 571.8 1406.1 572.8 1407.3 574.8 1406.8 575.9 1410 576.9 1410.9 577.9 1410.6 578.9 1411.1 580.9 1407.3 581.9 1408.1 582.9 1411 583.9 1412.3 584.9 1411.2 586.9 1412.7 589 1409.8 591 1411.6 592 1409.7 593 1409.7 594 1413.4 595 1413.5 596 1411.2 598 1412.2 599 1413.4 601 1409.8 602.1 1411.9 603.1 1412.1 604.1 1411.3 605.1 1412.6 607.1 1418.2 608.1 1412.7 608.1 1418.7 607.1 1421.2 605.1 1418.6 604.1 1418 602.1 1418.3 601 1417.3 599 1419 596 1417.9 595 1419 594 1419 593 1417.3 592 1417.2 591 1418.1 589 1417.3 586.9 1418.7 584.9 1417.9 583.9 1418.5 581.9 1416.5 580.9 1416.1 578.9 1417.9 575.9 1417.4 574.8 1415.9 572.8 1416.2 570.8 1415.6 569.8 1416.4 568.8 1415.5 567.8 1412.9 566.8 1411.7 565.8 1412.2 564.8 1411.9 563.8 1410.4 557.7 1396.7 555.7 1389.7 552.7 1375.7 549.6 1356.8 546.6 1327.9 543.6 1291.7 537.6 1191.6 497.2 1191.6 492.2 1276.9 487.2 1338 483.1 1369.9 480.1 1386.2 478.1 1394.2 474.1 1405.8 473.1 1406.2 471 1410.2 469 1413 468 1413.5 467 1413.3 464 1415.7 461 1416.4 458.9 1418.3 456.9 1419.1 455.9 1417.9 450.9 1417.8 449.9 1418.3 448.9 1416.8 446.9 1418.8 444.8 1417.5 441.8 1417.8 440.8 1418.4 438.8 1416.4 436.8 1417.5 434.8 1419.8 431.7 1417.8 430.7 1418.2 428.7 1417.2 427.7 1418.8 426.7 1419Z" fill="#00c800" fill-opacity="0.5"/>
<path d="M426.7 1415.3 427.7 1414.9 428.7 1412.3 430.7 1414 431.7 1413.3 434.8 1416.7 436.8 1412.7 438.8 1410.8 440.8 1414.3 441.8 1413.2 444.8 1412.8 446.9 1415 448.9 1411.6 449.9 1414.1 450.9 1413.2 451.9 1413.6 455.9 1413.4 456.9 1415.4 458.9 1414.1 461 1410.8 465 1408.9 466 1406.5 467 1405.6 468 1405.9 469 1405 471 1400.2 473.1 1393.2 474.1 1392.6 479.1 1366.7 483.1 1330.7 487.2 1275.8 491.2 1195.6 492.2 1191.6 542.6 1191.6 543.6 1196 546.6 1258.3 549.6 1308.1 552.7 1340.7 555.7 1364.8 557.7 1376.9 563.8 1400.5 564.8 1403.1 565.8 1403.6 566.8 1402.7 567.8 1404.8 568.8 1409.3 569.8 1410.9 570.8 1409.5 571.8 1409.5 572.8 1410.4 574.8 1410 575.9 1412.5 576.9 1413.3 577.9 1413 578.9 1413.4 580.9 1410.4 581.9 1411 582.9 1413.3 583.9 1414.4 584.9 1413.5 586.9 1414.7 589 1412.4 591 1413.8 592 1412.3 593 1412.3 594 1415.2 595 1415.3 596 1413.5 598 1414.3 599 1415.3 601 1412.4 602.1 1414.1 603.1 1414.2 604.1 1413.6 605.1 1414.6 607.1 1419.1 608.1 1414.7 608.1 1416.6 607.1 1420.1 605.1 1416.6 604.1 1415.7 603.1 1416.2 602.1 1416.1 601 1414.8 599 1417.1 596 1415.7 595 1417.1 594 1417 593 1414.7 592 1414.7 591 1415.9 589 1414.8 586.9 1416.6 584.9 1415.6 583.9 1416.3 581.9 1413.7 580.9 1413.2 578.9 1415.6 576.9 1415.5 575.9 1414.9 574.8 1412.9 572.8 1413.2 571.8 1412.5 570.8 1412.5 569.8 1413.6 568.8 1412.4 567.8 1408.8 566.8 1407.2 565.8 1407.9 564.8 1407.5 563.8 1405.5 557.7 1386.9 555.7 1377.4 552.7 1358.4 549.6 1332.8 546.6 1293.7 540.6 1191.6 494.2 1191.6 493.2 1203.1 491.2 1244.4 487.2 1307.5 484.1 1341.2 479.1 1378.9 474.1 1399.2 473.1 1399.7 471 1405.2 469 1409 468 1409.7 467 1409.4 466 1410.2 465 1412 461 1413.5 458.9 1416.1 456.9 1417.2 455.9 1415.6 450.9 1415.4 449.9 1416.1 448.9 1414.2 446.9 1416.9 444.8 1415.1 441.8 1415.4 440.8 1416.3 438.8 1413.5 436.8 1415 434.8 1418.1 431.7 1415.5 430.7 1416 428.7 1414.7 427.7 1416.8 426.7 1417.1Z" fill="#00c800" fill-opacity="0.45"/>
<path d="M426.7 1417.1 427.7 1416.8 428.7 1414.7 430.7 1416 431.7 1415.5 434.8 1418.1 436.8 1415 438.8 1413.5 440.8 1416.3 441.8 1415.4 444.8 1415.1 446.9 1416.9 448.9 1414.2 449.9 1416.1 450.9 1415.4 455.9 1415.6 456.9 1417.2 458.9 1416.1 461 1413.5 465 1412 466 1410.2 467 1409.4 468 1409.7 469 1409 471 1405.2 473.1 1399.7 474.1 1399.2 479.1 1378.9 484.1 1341.2 487.2 1307.5 491.2 1244.4 493.2 1203.1 494.2 1191.6 540.6 1191.6 546.6 1293.7 549.6 1332.8 552.7 1358.4 555.7 1377.4 557.7 1386.9 563.8 1405.5 564.8 1407.5 565.8 1407.9 566.8 1407.2 567.8 1408.8 568.8 1412.4 569.8 1413.6 570.8 1412.5 571.8 1412.5 572.8 1413.2 574.8 1412.9 575.9 1414.9 576.9 1415.5 578.9 1415.6 580.9 1413.2 581.9 1413.7 583.9 1416.3 584.9 1415.6 586.9 1416.6 589 1414.8 591 1415.9 592 1414.7 593 1414.7 594 1417 595 1417.1 596 1415.7 599 1417.1 601 1414.8 602.1 1416.1 603.1 1416.2 604.1 1415.7 605.1 1416.6 607.1 1420.1 608.1 1416.6" fill="none" stroke="#1cc41c" stroke-width="1.3"/>
<path d="M426.7 1416.2 427.7 1415.8 428.7 1413.5 430.7 1415 431.7 1414.4 434.8 1417.4 436.8 1413.8 438.8 1412.2 440.8 1415.3 441.8 1414.3 444.8 1413.9 446.9 1416 448.9 1412.9 449.9 1415.1 450.9 1414.3 451.9 1414.6 455.9 1414.5 456.9 1416.3 458.9 1415.1 461 1412.1 465 1410.5 466 1408.4 467 1407.5 468 1407.8 469 1407 471 1402.7 473.1 1396.4 474.1 1395.9 479.1 1372.8 484.1 1329.9 487.2 1291.6 492.2 1197.7 493.2 1191.6 541.6 1191.6 542.6 1197 546.6 1276 549.6 1320.5 552.7 1349.5 555.7 1371.1 557.7 1381.9 560.7 1393 564.8 1405.3 565.8 1405.7 566.8 1405 567.8 1406.8 568.8 1410.9 569.8 1412.3 570.8 1411 571.8 1411 572.8 1411.8 574.8 1411.4 575.9 1413.7 576.9 1414.4 577.9 1414.1 578.9 1414.5 580.9 1411.8 581.9 1412.4 582.9 1414.4 583.9 1415.4 584.9 1414.6 586.9 1415.7 589 1413.6 591 1414.9 592 1413.5 593 1413.5 594 1416.1 595 1416.2 596 1414.6 598 1415.3 599 1416.2 601 1413.6 602.1 1415.1 603.1 1415.2 604.1 1414.7 605.1 1415.6 607.1 1419.6 608.1 1415.7" fill="none" stroke="#14c814" stroke-width="1.6"/>
<path d="M426.7 1416.2 427.7 1415.8 428.7 1413.5 430.7 1415 431.7 1414.4 434.8 1417.4 436.8 1413.8 438.8 1412.2 440.8 1415.3 441.8 1414.3 444.8 1413.9 446.9 1416 448.9 1412.9 449.9 1415.1 450.9 1414.3 451.9 1414.6 455.9 1414.5 456.9 1416.3 458.9 1415.1 461 1412.1 465 1410.5 466 1408.4 467 1407.5 468 1407.8 469 1407 471 1402.7 473.1 1396.4 474.1 1395.9 479.1 1372.8 484.1 1329.9 487.2 1291.6 492.2 1197.7 493.2 1191.6 541.6 1191.6 542.6 1197 546.6 1276 549.6 1320.5 552.7 1349.5 555.7 1371.1 557.7 1381.9 560.7 1393 564.8 1405.3 565.8 1405.7 566.8 1405 567.8 1406.8 568.8 1410.9 569.8 1412.3 570.8 1411 571.8 1411 572.8 1411.8 574.8 1411.4 575.9 1413.7 576.9 1414.4 577.9 1414.1 578.9 1414.5 580.9 1411.8 581.9 1412.4 582.9 1414.4 583.9 1415.4 584.9 1414.6 586.9 1415.7 589 1413.6 591 1414.9 592 1413.5 593 1413.5 594 1416.1 595 1416.2 596 1414.6 598 1415.3 599 1416.2 601 1413.6 602.1 1415.1 603.1 1415.2 604.1 1414.7 605.1 1415.6 607.1 1419.6 608.1 1415.7" fill="none" stroke="#0c8a0c" stroke-width="1.0" stroke-dasharray="3,3"/>
</g>
<rect x="113.4" y="1194.6" width="197.5" height="250.2" fill="none" stroke="#4a4a4a" stroke-width="1.6"/>
<line x1="121.3" y1="1444.8" x2="121.3" y2="1457.8" stroke="#4a4a4a" stroke-width="1.6"/>
<line x1="212.2" y1="1444.8" x2="212.2" y2="1457.8" stroke="#4a4a4a" stroke-width="1.6"/>
<line x1="303" y1="1444.8" x2="303" y2="1457.8" stroke="#4a4a4a" stroke-width="1.6"/>
<line x1="101.4" y1="1435.6" x2="113.4" y2="1435.6" stroke="#4a4a4a" stroke-width="1.6"/>
<text x="97.9" y="1435.6" font-size="22" text-anchor="middle" transform="rotate(-90 97.9 1435.6)">0</text>
<line x1="101.4" y1="1389.2" x2="113.4" y2="1389.2" stroke="#4a4a4a" stroke-width="1.6"/>
<text x="97.9" y="1389.2" font-size="22" text-anchor="middle" transform="rotate(-90 97.9 1389.2)">20</text>
<line x1="101.4" y1="1342.7" x2="113.4" y2="1342.7" stroke="#4a4a4a" stroke-width="1.6"/>
<text x="97.9" y="1342.7" font-size="22" text-anchor="middle" transform="rotate(-90 97.9 1342.7)">40</text>
<line x1="101.4" y1="1296.3" x2="113.4" y2="1296.3" stroke="#4a4a4a" stroke-width="1.6"/>
<text x="97.9" y="1296.3" font-size="22" text-anchor="middle" transform="rotate(-90 97.9 1296.3)">60</text>
<line x1="101.4" y1="1249.8" x2="113.4" y2="1249.8" stroke="#4a4a4a" stroke-width="1.6"/>
<text x="97.9" y="1249.8" font-size="22" text-anchor="middle" transform="rotate(-90 97.9 1249.8)">80</text>
<line x1="101.4" y1="1203.4" x2="113.4" y2="1203.4" stroke="#4a4a4a" stroke-width="1.6"/>
<text x="97.9" y="1203.4" font-size="22" text-anchor="middle" transform="rotate(-90 97.9 1203.4)">100</text>
<rect x="418.8" y="1194.6" width="197.2" height="250.2" fill="none" stroke="#4a4a4a" stroke-width="1.6"/>
<line x1="426.7" y1="1444.8" x2="426.7" y2="1457.8" stroke="#4a4a4a" stroke-width="1.6"/>
<line x1="517.4" y1="1444.8" x2="517.4" y2="1457.8" stroke="#4a4a4a" stroke-width="1.6"/>
<line x1="608.1" y1="1444.8" x2="608.1" y2="1457.8" stroke="#4a4a4a" stroke-width="1.6"/>
<line x1="406.8" y1="1435.6" x2="418.8" y2="1435.6" stroke="#4a4a4a" stroke-width="1.6"/>
<text x="403.3" y="1435.6" font-size="22" text-anchor="middle" transform="rotate(-90 403.3 1435.6)">0</text>
<line x1="406.8" y1="1371.2" x2="418.8" y2="1371.2" stroke="#4a4a4a" stroke-width="1.6"/>
<text x="403.3" y="1371.2" font-size="22" text-anchor="middle" transform="rotate(-90 403.3 1371.2)">5</text>
<line x1="406.8" y1="1306.8" x2="418.8" y2="1306.8" stroke="#4a4a4a" stroke-width="1.6"/>
<text x="403.3" y="1306.8" font-size="22" text-anchor="middle" transform="rotate(-90 403.3 1306.8)">10</text>
<line x1="406.8" y1="1242.4" x2="418.8" y2="1242.4" stroke="#4a4a4a" stroke-width="1.6"/>
<text x="403.3" y="1242.4" font-size="22" text-anchor="middle" transform="rotate(-90 403.3 1242.4)">15</text>
<text x="120.5" y="1224.6" font-size="21.5">IRF9</text>
<polygon points="311.7,1669.7 386.6,1474.9 386.6,1724.7 311.7,1725.2" fill="url(#zg)"/>
<g clip-path="url(#cl3)">
<path d="M121.3 1715 153.6 1714.7 155.6 1714 158.6 1711.7 162.7 1707.1 164.7 1703.6 171.8 1681.7 175.8 1666.4 177.8 1661.6 178.8 1661.3 179.8 1661.7 181.9 1663.8 184.9 1668.8 188.9 1685 189.9 1687.4 191 1687.6 193 1686.7 197 1683 199 1679.2 204.1 1667 205.1 1665.9 206.1 1665.6 207.1 1666.2 209.1 1668.8 212.1 1674.6 217.2 1690.6 222.2 1699.7 225.3 1703.6 228.3 1706.4 234.4 1710.6 238.4 1712.8 241.4 1713.8 244.5 1714.1 303 1715 303 1716.5 221.2 1716.7 215.2 1718.1 206.1 1721.7 204.1 1721.2 196 1715.9 194 1715.3 187.9 1716.3 180.9 1719.5 173.8 1720.5 171.8 1720.3 166.7 1718.2 158.6 1716.5 121.3 1716.5Z" fill="#d7d700" fill-opacity="0.5"/>
<path d="M121.3 1715.3 134.4 1715 138.5 1715.6 141.5 1715.1 148.6 1715.5 152.6 1714.8 159.7 1712.3 163.7 1709 166.7 1704.4 170.8 1696.9 175.8 1684 177.8 1681.2 178.8 1680.9 180.9 1681.6 186.9 1686.8 191 1688.8 193 1689 196 1688.6 201 1684.2 204.1 1682.4 208.1 1681.9 209.1 1682.4 211.1 1684.5 223.3 1703 226.3 1706.9 234.4 1712.2 236.4 1713 243.4 1714.5 253.5 1715.3 264.6 1715.4 270.7 1715 275.7 1715.7 281.8 1715.1 294.9 1715.6 303 1715.2 303 1715.8 302 1715.9 275.7 1716 248.5 1715.8 236.4 1714.9 226.3 1712.2 209.1 1701.6 204.1 1701.6 196 1704.3 193 1704.5 186.9 1703.5 180.9 1701.3 178.8 1701 177.8 1701.1 175.8 1702.3 170.8 1707.9 166.7 1711.2 163.7 1713.2 159.7 1714.6 148.6 1716 121.3 1715.9Z" fill="#d7d700" fill-opacity="0.45"/>
<path d="M121.3 1715.6 148.6 1715.7 152.6 1715.3 159.7 1713.6 163.7 1711.4 166.7 1708.3 170.8 1703.3 175.8 1694.7 177.8 1692.8 178.8 1692.7 180.9 1693.1 186.9 1696.6 191 1697.9 193 1698.1 196 1697.8 204.1 1693.6 208.1 1693.3 209.1 1693.6 211.1 1695.1 226.3 1710 236.4 1714.1 243.4 1715 253.5 1715.6 303 1715.5" fill="none" stroke="#c8c800" stroke-width="1.2"/>
<path d="M121.3 1715.6 148.6 1715.7 152.6 1715.3 159.7 1713.6 163.7 1711.4 166.7 1708.3 170.8 1703.3 175.8 1694.7 177.8 1692.8 178.8 1692.7 180.9 1693.1 186.9 1696.6 191 1697.9 193 1698.1 196 1697.8 204.1 1693.6 208.1 1693.3 209.1 1693.6 211.1 1695.1 226.3 1710 236.4 1714.1 243.4 1715 253.5 1715.6 303 1715.5" fill="none" stroke="#9a9a10" stroke-width="0.9" stroke-dasharray="3,3"/>
<path d="M121.3 1713.2 126.3 1713.5 146.5 1713.1 171.8 1712 183.9 1709.7 193 1705.5 207.1 1695.7 211.1 1693.6 213.2 1693.1 221.2 1697.4 229.3 1703.2 235.4 1706.8 245.5 1710.7 250.5 1711.1 254.5 1712.1 262.6 1712.3 271.7 1711.7 281.8 1710 294.9 1712.7 303 1713.4 303 1715.6 280.8 1714.3 260.6 1714.9 246.5 1714 235.4 1711.5 221.2 1705.7 213.2 1703.1 207.1 1704.7 193 1710.7 183.9 1713.3 171.8 1714.7 146.5 1715.4 121.3 1715.4Z" fill="#1e90ff" fill-opacity="0.5"/>
<path d="M121.3 1713.9 126.3 1714.2 146.5 1713.8 171.8 1712.8 183.9 1710.8 193 1707 207.1 1698.1 211.1 1696.2 213.2 1695.8 221.2 1699.7 229.3 1704.9 235.4 1708.1 245.5 1711.7 250.5 1712 254.5 1712.9 260.6 1713.1 280.8 1712.3 289.9 1713.5 303 1714.1 303 1714.9 289.9 1714.3 280.8 1713.4 260.6 1714 254.5 1713.9 245.5 1712.9 235.4 1710 221.2 1703 213.2 1699.9 211.1 1700.2 207.1 1701.8 193 1709 183.9 1712.1 171.8 1713.8 146.5 1714.6 121.3 1714.7Z" fill="#1e90ff" fill-opacity="0.45"/>
<path d="M121.3 1714.3 146.5 1714.2 171.8 1713.3 183.9 1711.5 193 1708 207.1 1700 211.1 1698.2 213.2 1697.9 221.2 1701.3 235.4 1709 245.5 1712.3 250.5 1712.6 254.5 1713.4 260.6 1713.6 280.8 1712.8 289.9 1713.9 303 1714.5" fill="none" stroke="#1a86ee" stroke-width="1.8"/>
<path d="M121.3 1715.2 124.3 1713.9 132.4 1713.7 133.4 1714.3 136.4 1714.6 138.5 1713.8 140.5 1713.6 146.5 1711.5 147.5 1710.4 154.6 1706.4 158.6 1706.8 162.7 1709 167.7 1708.4 169.8 1707.5 173.8 1703 175.8 1700.2 178.8 1693.4 182.9 1679.9 184.9 1671.2 188.9 1647.5 193 1616.5 203.1 1520.2 206.1 1500.7 207.1 1497.1 208.1 1495.4 209.1 1495.7 212.1 1498.9 214.2 1505.3 215.2 1510.6 218.2 1531.6 227.3 1614.3 232.3 1652.1 237.4 1678.2 240.4 1688.8 244.5 1699.1 248.5 1705.4 252.5 1709.5 256.6 1711.8 258.6 1712.5 261.6 1712.6 264.6 1713.8 267.7 1713.5 270.7 1714.3 274.7 1713.8 278.8 1714.6 281.8 1713.8 283.8 1714.3 287.9 1714.4 289.9 1714.2 290.9 1713.5 293.9 1714.8 296.9 1714.4 299 1715 302 1713.8 303 1713.8 303 1716.2 299 1716.6 290.9 1716.1 270.7 1716.3 256.6 1715.5 252.5 1714.7 247.5 1712.9 244.5 1711.3 239.4 1706.8 235.4 1701.3 233.3 1697.6 228.3 1684.8 223.3 1665.3 215.2 1626.2 213.2 1620.3 212.1 1618.8 211.1 1618.6 209.1 1619.6 208.1 1621.1 206.1 1627.3 197 1668.9 192 1686.5 185.9 1700.4 179.8 1708.5 175.8 1711.6 168.7 1714.2 162.7 1714.5 158.6 1713.8 154.6 1713.7 146.5 1715.4 140.5 1716.1 124.3 1716.2 121.3 1716.6Z" fill="#00c800" fill-opacity="0.5"/>
<path d="M121.3 1715.6 124.3 1714.8 132.4 1714.6 136.4 1715.2 140.5 1714.5 146.5 1713.1 147.5 1712.3 154.6 1709.4 158.6 1709.6 162.7 1711.2 167.7 1710.8 169.8 1710.2 173.8 1707 175.8 1704.9 178.8 1700.1 182.9 1690.5 184.9 1684.3 189.9 1662.3 195 1630.8 205.1 1553 207.1 1542.3 208.1 1539.4 209.1 1538.3 210.1 1538 212.1 1538.9 213.2 1541.3 215.2 1550.3 227.3 1642.3 231.3 1665.7 234.4 1679 237.4 1689.3 242.4 1700.8 244.5 1704.2 248.5 1708.7 252.5 1711.6 256.6 1713.3 261.6 1713.8 264.6 1714.7 267.7 1714.5 270.7 1715 274.7 1714.7 278.8 1715.3 281.8 1714.7 287.9 1715.1 290.9 1714.5 293.9 1715.4 296.9 1715.1 299 1715.5 303 1714.7 303 1715.3 299 1716 296.9 1715.6 293.9 1715.9 290.9 1715.2 287.9 1715.7 281.8 1715.3 278.8 1715.8 274.7 1715.3 270.7 1715.6 258.6 1714.6 252.5 1712.9 248.5 1710.6 244.5 1707.1 242.4 1704.4 237.4 1695.4 234.4 1687.3 231.3 1676.8 227.3 1658.5 215.2 1586.1 213.2 1579.1 212.1 1577.2 210.1 1576.5 208.1 1577.6 207.1 1579.9 205.1 1588.3 195 1649.5 189.9 1674.2 184.9 1691.4 182.9 1696.3 178.8 1703.9 175.8 1707.7 173.8 1709.3 169.8 1711.8 167.7 1712.3 162.7 1712.6 158.6 1711.4 154.6 1711.2 146.5 1714.1 140.5 1715.2 136.4 1715.8 132.4 1715.3 124.3 1715.4 121.3 1716.1Z" fill="#00c800" fill-opacity="0.45"/>
<path d="M121.3 1716.1 124.3 1715.4 132.4 1715.3 136.4 1715.8 140.5 1715.2 146.5 1714.1 154.6 1711.2 158.6 1711.4 162.7 1712.6 167.7 1712.3 169.8 1711.8 173.8 1709.3 175.8 1707.7 178.8 1703.9 182.9 1696.3 184.9 1691.4 189.9 1674.2 195 1649.5 205.1 1588.3 207.1 1579.9 208.1 1577.6 210.1 1576.5 212.1 1577.2 213.2 1579.1 215.2 1586.1 227.3 1658.5 231.3 1676.8 234.4 1687.3 237.4 1695.4 242.4 1704.4 244.5 1707.1 248.5 1710.6 252.5 1712.9 256.6 1714.2 264.6 1715.3 274.7 1715.3 278.8 1715.8 281.8 1715.3 287.9 1715.7 290.9 1715.2 293.9 1715.9 296.9 1715.6 299 1716 303 1715.3" fill="none" stroke="#1cc41c" stroke-width="1.3"/>
<path d="M121.3 1715.9 124.3 1715.1 132.4 1715 136.4 1715.5 140.5 1714.9 146.5 1713.6 154.6 1710.3 158.6 1710.5 162.7 1711.9 167.7 1711.6 169.8 1711 173.8 1708.1 175.8 1706.3 178.8 1702 182.9 1693.4 184.9 1687.9 189.9 1668.2 195 1640.1 205.1 1570.6 207.1 1561.1 208.1 1558.5 210.1 1557.2 212.1 1558.1 213.2 1560.2 215.2 1568.2 227.3 1650.4 231.3 1671.2 234.4 1683.2 237.4 1692.3 242.4 1702.6 244.5 1705.7 248.5 1709.7 252.5 1712.2 256.6 1713.7 264.6 1715 274.7 1715 278.8 1715.5 281.8 1715 287.9 1715.4 290.9 1714.8 293.9 1715.6 296.9 1715.4 299 1715.8 303 1715" fill="none" stroke="#14c814" stroke-width="1.6"/>
<path d="M121.3 1715.9 124.3 1715.1 132.4 1715 136.4 1715.5 140.5 1714.9 146.5 1713.6 154.6 1710.3 158.6 1710.5 162.7 1711.9 167.7 1711.6 169.8 1711 173.8 1708.1 175.8 1706.3 178.8 1702 182.9 1693.4 184.9 1687.9 189.9 1668.2 195 1640.1 205.1 1570.6 207.1 1561.1 208.1 1558.5 210.1 1557.2 212.1 1558.1 213.2 1560.2 215.2 1568.2 227.3 1650.4 231.3 1671.2 234.4 1683.2 237.4 1692.3 242.4 1702.6 244.5 1705.7 248.5 1709.7 252.5 1712.2 256.6 1713.7 264.6 1715 274.7 1715 278.8 1715.5 281.8 1715 287.9 1715.4 290.9 1714.8 293.9 1715.6 296.9 1715.4 299 1715.8 303 1715" fill="none" stroke="#0c8a0c" stroke-width="1.0" stroke-dasharray="3,3"/>
</g>
<g clip-path="url(#cr3)">
<path d="M426.7 1706.6 444.8 1706.3 458.9 1705.4 461 1703 464 1694.7 468 1677.9 470 1665.3 477.1 1586 481.1 1530.2 483.1 1513.1 484.1 1511.7 485.2 1513.2 487.2 1520.9 490.2 1539 494.2 1597.9 495.2 1606.6 496.2 1607.3 498.3 1604 502.3 1590.5 504.3 1576.7 509.3 1532.5 510.3 1528.4 511.4 1527.5 512.4 1529.5 514.4 1539.1 517.4 1560.1 522.4 1618.1 527.5 1651.1 530.5 1665.2 533.5 1675.5 539.6 1690.7 543.6 1698.5 546.6 1702.2 549.6 1703.5 576.9 1705.9 608.1 1706.6 608.1 1711.9 542.6 1711.9 526.5 1712.9 523.4 1714.5 520.4 1717.7 516.4 1722.8 512.4 1730.1 511.4 1730.7 510.3 1730.5 509.3 1729.2 505.3 1720.8 501.3 1709.9 500.3 1708.3 499.3 1707.7 496.2 1708.8 493.2 1711.3 488.2 1720.4 486.2 1723.1 482.1 1725.6 479.1 1726.6 478.1 1726.6 477.1 1725.9 472.1 1718.2 467 1713.6 464 1712 426.7 1711.9Z" fill="#d7d700" fill-opacity="0.5"/>
<path d="M426.7 1707.5 429.7 1707.5 430.7 1708 431.7 1706.9 433.8 1706.9 435.8 1707.7 439.8 1706.5 441.8 1707 443.8 1708.7 444.8 1708.6 446.9 1706.9 448.9 1707.4 449.9 1708.1 450.9 1708 451.9 1708.8 453.9 1708.4 457.9 1706 461 1701.5 464 1698.7 465 1696.6 469 1684.9 472.1 1668.2 476.1 1640.9 481.1 1594.1 483.1 1583.8 484.1 1582.9 485.2 1583.5 486.2 1585.4 492.2 1604.2 496.2 1611.4 498.3 1612.4 500.3 1612.3 501.3 1610.7 506.3 1595 509.3 1588.3 511.4 1586.6 513.4 1586.5 514.4 1588.2 516.4 1596.1 528.5 1663 531.5 1677.1 539.6 1696.3 541.6 1699.4 544.6 1702.1 548.6 1704.6 550.7 1704.4 553.7 1706.7 556.7 1706.3 558.7 1707.8 562.8 1706.9 565.8 1708.2 566.8 1707.6 569.8 1708.2 575.9 1706.6 580.9 1709.1 582.9 1707.8 586.9 1707 590 1708.1 591 1707.3 593 1707.1 594 1708 600 1708.6 601 1708 605.1 1708.2 608.1 1707.4 608.1 1709.6 607.1 1709.8 600 1710.2 593 1709.5 590 1710 586.9 1709.5 580.9 1710.4 575.9 1709.3 565.8 1710 562.8 1709.4 558.7 1709.8 556.7 1709.2 553.7 1709.3 550.7 1708.4 546.6 1707.9 541.6 1706.2 539.6 1704.9 531.5 1696.5 528.5 1690.4 516.4 1661.4 514.4 1658 513.4 1657.3 511.4 1657.3 509.3 1658.1 506.3 1661 501.3 1667.7 500.3 1668.5 498.3 1668.5 496.2 1668.1 492.2 1665 486.2 1656.8 484.1 1655.7 483.1 1656.1 481.1 1660.5 476.1 1680.8 472.1 1692.7 469 1699.9 465 1705 457.9 1709.1 453.9 1710.1 451.9 1710.2 446.9 1709.4 443.8 1710.2 439.8 1709.3 435.8 1709.8 431.7 1709.4 430.7 1709.9 426.7 1709.7Z" fill="#d7d700" fill-opacity="0.45"/>
<path d="M426.7 1708.6 430.7 1708.9 431.7 1708.2 435.8 1708.7 439.8 1708 441.8 1708.3 443.8 1709.4 446.9 1708.2 451.9 1709.5 453.9 1709.2 457.9 1707.6 461 1704.6 464 1702.7 465 1701.4 469 1693.5 472.1 1682.4 476.1 1664.2 481.1 1633 483.1 1626.2 484.1 1625.6 485.2 1625.9 486.2 1627.2 492.2 1639.8 496.2 1644.6 498.3 1645.2 500.3 1645.2 501.3 1644.1 506.3 1633.6 509.3 1629.2 511.4 1628 513.4 1627.9 514.4 1629.1 516.4 1634.4 528.5 1678.9 531.5 1688.3 539.6 1701.2 541.6 1703.2 548.6 1706.7 550.7 1706.6 553.7 1708.1 556.7 1707.8 558.7 1708.8 562.8 1708.2 565.8 1709.1 566.8 1708.6 569.8 1709.1 575.9 1708 580.9 1709.6 582.9 1708.8 586.9 1708.3 590 1709 591 1708.5 593 1708.4 594 1708.9 600 1709.4 601 1708.9 605.1 1709.1 608.1 1708.5" fill="none" stroke="#c8c800" stroke-width="1.2"/>
<path d="M426.7 1708.6 430.7 1708.9 431.7 1708.2 435.8 1708.7 439.8 1708 441.8 1708.3 443.8 1709.4 446.9 1708.2 451.9 1709.5 453.9 1709.2 457.9 1707.6 461 1704.6 464 1702.7 465 1701.4 469 1693.5 472.1 1682.4 476.1 1664.2 481.1 1633 483.1 1626.2 484.1 1625.6 485.2 1625.9 486.2 1627.2 492.2 1639.8 496.2 1644.6 498.3 1645.2 500.3 1645.2 501.3 1644.1 506.3 1633.6 509.3 1629.2 511.4 1628 513.4 1627.9 514.4 1629.1 516.4 1634.4 528.5 1678.9 531.5 1688.3 539.6 1701.2 541.6 1703.2 548.6 1706.7 550.7 1706.6 553.7 1708.1 556.7 1707.8 558.7 1708.8 562.8 1708.2 565.8 1709.1 566.8 1708.6 569.8 1709.1 575.9 1708 580.9 1709.6 582.9 1708.8 586.9 1708.3 590 1709 591 1708.5 593 1708.4 594 1708.9 600 1709.4 601 1708.9 605.1 1709.1 608.1 1708.5" fill="none" stroke="#9a9a10" stroke-width="0.9" stroke-dasharray="3,3"/>
<path d="M426.7 1700 431.7 1701.2 437.8 1699.8 442.8 1700.5 443.8 1700 448.9 1699.4 450.9 1699.3 451.9 1699.7 452.9 1699.1 453.9 1699.3 455.9 1698.6 458.9 1698.9 461 1697.6 466 1697.4 471 1695.8 477.1 1695.6 482.1 1692.8 489.2 1687.5 492.2 1683.5 498.3 1672.2 504.3 1658 512.4 1636.6 516.4 1628.8 518.4 1627.3 521.4 1632.3 526.5 1642.7 534.5 1663.7 540.6 1676.8 543.6 1682.2 550.7 1691.1 551.7 1691.8 555.7 1692.5 559.7 1696.1 561.7 1696.2 562.8 1695.8 565.8 1696.8 567.8 1696.8 568.8 1696.3 571.8 1696.2 573.8 1695.2 576.9 1694.7 579.9 1692.1 582.9 1690.8 585.9 1688.6 586.9 1688.6 591 1690.7 595 1694.9 600 1698.4 603.1 1699.3 604.1 1700.1 608.1 1700.9 608.1 1708.7 595 1707 591 1705.4 585.9 1704.2 582.9 1704.9 578.9 1705.1 576.9 1705.8 565.8 1706.2 562.8 1705.5 559.7 1705.7 555.7 1703.5 551.7 1703.1 544.6 1698 540.6 1693.8 534.5 1685.8 526.5 1672.9 521.4 1666.5 518.4 1663.4 516.4 1664.4 512.4 1669.1 504.3 1682.3 498.3 1691 492.2 1697.9 489.2 1700.4 482.1 1703.7 477.1 1705.4 471 1705.5 466 1706.5 461 1706.6 458.9 1707.4 455.9 1707.2 451.9 1707.9 448.9 1707.7 442.8 1708.4 437.8 1708 431.7 1708.8 426.7 1708.1Z" fill="#1e90ff" fill-opacity="0.5"/>
<path d="M426.7 1702.6 431.7 1703.7 437.8 1702.5 442.8 1703.1 448.9 1702 450.9 1702 451.9 1702.4 455.9 1701.3 458.9 1701.6 461 1700.5 466 1700.2 471 1698.8 477.1 1698.6 482.1 1696.1 489.2 1691.3 492.2 1687.7 498.3 1677.5 504.3 1664.8 512.4 1645.4 516.4 1638.5 518.4 1637.1 521.4 1641.6 526.5 1651 534.5 1669.8 540.6 1681.7 543.6 1686.6 550.7 1694.6 551.7 1695.2 555.7 1695.8 559.7 1699.1 561.7 1699.2 562.8 1698.8 565.8 1699.8 571.8 1699.6 573.8 1699 576.9 1699.2 578.9 1698.2 582.9 1698 585.9 1696.9 591 1698.7 595 1701 600 1702.4 608.1 1703.5 608.1 1706.2 600 1705.3 595 1704.2 591 1702.2 585.9 1700.7 582.9 1701.7 578.9 1701.9 576.9 1702.7 573.8 1702.5 571.8 1703 565.8 1703.1 562.8 1702.3 559.7 1702.6 555.7 1699.9 551.7 1699.4 550.7 1698.9 543.6 1692.3 540.6 1688.3 534.5 1678.6 526.5 1663.2 521.4 1655.5 518.4 1651.8 516.4 1653 512.4 1658.6 504.3 1674.5 498.3 1684.9 492.2 1693.3 489.2 1696.2 482.1 1700.1 477.1 1702.2 471 1702.3 466 1703.5 461 1703.7 458.9 1704.6 455.9 1704.4 451.9 1705.2 448.9 1705 442.8 1705.8 437.8 1705.3 431.7 1706.3 426.7 1705.4Z" fill="#1e90ff" fill-opacity="0.45"/>
<path d="M426.7 1704 431.7 1705 437.8 1703.9 442.8 1704.4 448.9 1703.5 451.9 1703.8 455.9 1702.8 458.9 1703.1 461 1702.1 466 1701.9 471 1700.6 477.1 1700.4 482.1 1698.1 489.2 1693.8 492.2 1690.5 498.3 1681.2 504.3 1669.6 512.4 1652 516.4 1645.7 518.4 1644.5 521.4 1648.6 526.5 1657.1 534.5 1674.2 540.6 1685 543.6 1689.4 550.7 1696.7 551.7 1697.3 555.7 1697.9 559.7 1700.8 562.8 1700.6 565.8 1701.4 571.8 1701.3 573.8 1700.7 576.9 1700.9 578.9 1700.1 582.9 1699.8 585.9 1698.8 591 1700.4 595 1702.6 600 1703.8 608.1 1704.8" fill="none" stroke="#1a86ee" stroke-width="1.8"/>
<path d="M426.7 1707.2 428.7 1703.3 429.7 1702.8 431.7 1703.5 432.7 1702.1 433.8 1703.4 434.8 1702.5 437.8 1702.1 438.8 1704.2 439.8 1703.8 440.8 1705.2 441.8 1705.1 443.8 1702.1 444.8 1701.4 445.8 1701.6 448.9 1697.9 449.9 1697.6 451.9 1694.1 452.9 1690.1 460 1675.5 461 1676.7 462 1675.8 463 1677.3 464 1676.7 468 1684.7 470 1684.2 472.1 1682.2 473.1 1682.8 475.1 1679.5 478.1 1667.6 481.1 1652.8 485.2 1618 489.2 1564.4 493.2 1485.8 494.2 1474.9 536.5 1474.9 537.6 1478.5 542.6 1573.3 547.6 1631.7 549.6 1649.1 553.7 1671.8 557.7 1686.6 560.7 1691.8 561.7 1695.1 563.8 1697.4 564.8 1696.9 566.8 1698 567.8 1699.8 568.8 1700.1 569.8 1702.3 571.8 1702.5 572.8 1701.2 575.9 1704 576.9 1703.4 577.9 1703.8 578.9 1703.6 579.9 1702.2 582.9 1705 583.9 1705.3 586.9 1702.3 589 1704.2 590 1703.6 591 1704.3 592 1703.6 593 1704.6 594 1703.2 595 1703.6 596 1701.2 597 1703.2 598 1703.5 599 1706 600 1705 602.1 1704.4 604.1 1706.7 605.1 1705.9 607.1 1702.2 608.1 1702.3 608.1 1710.8 607.1 1710.8 604.1 1712.2 602.1 1711.5 599 1712 596 1710.4 595 1711.2 593 1711.6 589 1711.4 586.9 1710.8 583.9 1711.8 579.9 1710.8 575.9 1711.3 572.8 1710.4 571.8 1710.9 569.8 1710.8 566.8 1709.4 563.8 1709.2 561.7 1708.4 560.7 1707.3 557.7 1705.6 553.7 1700.7 549.6 1693.2 545.6 1680.7 542.6 1668 539.6 1650.6 536.5 1627.5 531.5 1572 525.5 1474.9 506.3 1474.9 501.3 1553.7 496.2 1613.2 491.2 1653.6 488.2 1670 484.1 1686.3 481.1 1694.4 479.1 1697.8 475.1 1703.2 473.1 1704.3 472.1 1704.2 468 1705 464 1702.3 460 1701.9 452.9 1706.7 451.9 1708.1 449.9 1709.2 445.8 1710.6 443.8 1710.7 441.8 1711.7 438.8 1711.4 437.8 1710.7 433.8 1711.1 432.7 1710.7 431.7 1711.2 429.7 1711 426.7 1712.4Z" fill="#00c800" fill-opacity="0.5"/>
<path d="M426.7 1708.9 428.7 1706.2 429.7 1705.8 431.7 1706.3 432.7 1705.3 433.8 1706.2 434.8 1705.6 437.8 1705.2 438.8 1706.7 439.8 1706.5 440.8 1707.5 441.8 1707.4 443.8 1705.3 444.8 1704.8 445.8 1704.9 448.9 1702.2 449.9 1702.1 451.9 1699.5 452.9 1696.7 460 1686.3 461 1687.1 462 1686.5 463 1687.6 464 1687.2 468 1692.8 470 1692.5 472.1 1691.1 473.1 1691.5 475.1 1689.1 479.1 1677.5 481.1 1670.1 484.1 1652.7 489.2 1607 492.2 1567.4 497.2 1475.1 498.3 1474.9 533.5 1474.9 539.6 1576.1 542.6 1613.3 544.6 1632.4 549.6 1667.5 553.7 1683.7 557.7 1694.2 560.7 1697.9 561.7 1700.3 563.8 1701.9 564.8 1701.5 566.8 1702.3 567.8 1703.6 568.8 1703.9 569.8 1705.4 571.8 1705.6 572.8 1704.6 575.9 1706.6 578.9 1706.3 579.9 1705.4 583.9 1707.5 586.9 1705.4 589 1706.8 590 1706.4 591 1706.9 592 1706.4 593 1707 594 1706.1 595 1706.3 596 1704.6 597 1706.1 598 1706.3 599 1708 600 1707.3 602.1 1706.9 604.1 1708.5 605.1 1708 607.1 1705.3 608.1 1705.4 608.1 1707.8 607.1 1707.7 605.1 1709.8 604.1 1710.2 602.1 1708.9 599 1709.8 598 1708.5 597 1708.3 596 1707.2 595 1708.5 594 1708.3 593 1709.1 592 1708.5 589 1708.8 586.9 1707.8 583.9 1709.4 579.9 1707.7 578.9 1708.5 575.9 1708.7 572.8 1707.2 571.8 1707.9 569.8 1707.8 568.8 1706.6 567.8 1706.4 566.8 1705.4 564.8 1704.7 563.8 1705.1 561.7 1703.7 560.7 1701.9 557.7 1699 553.7 1690.7 549.6 1678 547.6 1668.2 543.6 1643.2 540.6 1616.8 535.5 1553.1 531.5 1481 530.5 1474.9 500.3 1474.9 496.2 1543.4 491.2 1611 486.2 1653.7 484.1 1666.4 481.1 1680.1 478.1 1688.3 475.1 1695 473.1 1696.8 472.1 1696.5 470 1697.6 468 1697.9 464 1693.5 463 1693.8 462 1692.9 461 1693.4 460 1692.8 452.9 1700.9 451.9 1703.2 449.9 1705.1 448.9 1705.3 445.8 1707.4 443.8 1707.7 441.8 1709.4 440.8 1709.4 439.8 1708.6 438.8 1708.8 437.8 1707.6 433.8 1708.4 432.7 1707.7 431.7 1708.5 429.7 1708 428.7 1708.4 426.7 1710.5Z" fill="#00c800" fill-opacity="0.45"/>
<path d="M426.7 1710.5 428.7 1708.4 429.7 1708 431.7 1708.5 432.7 1707.7 433.8 1708.4 437.8 1707.6 438.8 1708.8 439.8 1708.6 440.8 1709.4 441.8 1709.4 443.8 1707.7 445.8 1707.4 448.9 1705.3 449.9 1705.1 451.9 1703.2 452.9 1700.9 460 1692.8 461 1693.4 462 1692.9 463 1693.8 464 1693.5 468 1697.9 470 1697.6 472.1 1696.5 473.1 1696.8 475.1 1695 478.1 1688.3 481.1 1680.1 484.1 1666.4 486.2 1653.7 491.2 1611 496.2 1543.4 500.3 1474.9 530.5 1474.9 531.5 1481 535.5 1553.1 540.6 1616.8 543.6 1643.2 547.6 1668.2 549.6 1678 553.7 1690.7 557.7 1699 560.7 1701.9 561.7 1703.7 563.8 1705.1 564.8 1704.7 566.8 1705.4 567.8 1706.4 568.8 1706.6 569.8 1707.8 571.8 1707.9 572.8 1707.2 575.9 1708.7 578.9 1708.5 579.9 1707.7 583.9 1709.4 586.9 1707.8 589 1708.8 592 1708.5 593 1709.1 594 1708.3 595 1708.5 596 1707.2 597 1708.3 598 1708.5 599 1709.8 602.1 1708.9 604.1 1710.2 605.1 1709.8 607.1 1707.7 608.1 1707.8" fill="none" stroke="#1cc41c" stroke-width="1.3"/>
<path d="M426.7 1709.7 428.7 1707.3 429.7 1706.9 431.7 1707.4 432.7 1706.5 433.8 1707.3 434.8 1706.7 437.8 1706.4 438.8 1707.8 439.8 1707.6 440.8 1708.4 441.8 1708.4 443.8 1706.5 444.8 1706 445.8 1706.2 448.9 1703.8 449.9 1703.6 451.9 1701.3 452.9 1698.8 460 1689.6 461 1690.3 462 1689.7 463 1690.7 464 1690.3 468 1695.4 470 1695.1 472.1 1693.8 473.1 1694.2 475.1 1692 480.1 1678.5 482.1 1670.5 485.2 1652.9 490.2 1608.2 494.2 1553.3 498.3 1480.4 499.3 1474.9 532.5 1474.9 537.6 1563.4 542.6 1624.4 545.6 1648.7 549.6 1672.7 553.7 1687.2 557.7 1696.6 560.7 1699.9 561.7 1702 563.8 1703.5 564.8 1703.1 566.8 1703.9 567.8 1705 568.8 1705.2 569.8 1706.6 571.8 1706.7 572.8 1705.9 575.9 1707.7 578.9 1707.4 579.9 1706.6 583.9 1708.5 586.9 1706.6 589 1707.8 590 1707.4 591 1707.9 592 1707.4 593 1708 594 1707.2 595 1707.4 596 1705.9 597 1707.2 598 1707.4 599 1708.9 602.1 1707.9 604.1 1709.4 605.1 1708.9 607.1 1706.5 608.1 1706.6" fill="none" stroke="#14c814" stroke-width="1.6"/>
<path d="M426.7 1709.7 428.7 1707.3 429.7 1706.9 431.7 1707.4 432.7 1706.5 433.8 1707.3 434.8 1706.7 437.8 1706.4 438.8 1707.8 439.8 1707.6 440.8 1708.4 441.8 1708.4 443.8 1706.5 444.8 1706 445.8 1706.2 448.9 1703.8 449.9 1703.6 451.9 1701.3 452.9 1698.8 460 1689.6 461 1690.3 462 1689.7 463 1690.7 464 1690.3 468 1695.4 470 1695.1 472.1 1693.8 473.1 1694.2 475.1 1692 480.1 1678.5 482.1 1670.5 485.2 1652.9 490.2 1608.2 494.2 1553.3 498.3 1480.4 499.3 1474.9 532.5 1474.9 537.6 1563.4 542.6 1624.4 545.6 1648.7 549.6 1672.7 553.7 1687.2 557.7 1696.6 560.7 1699.9 561.7 1702 563.8 1703.5 564.8 1703.1 566.8 1703.9 567.8 1705 568.8 1705.2 569.8 1706.6 571.8 1706.7 572.8 1705.9 575.9 1707.7 578.9 1707.4 579.9 1706.6 583.9 1708.5 586.9 1706.6 589 1707.8 590 1707.4 591 1707.9 592 1707.4 593 1708 594 1707.2 595 1707.4 596 1705.9 597 1707.2 598 1707.4 599 1708.9 602.1 1707.9 604.1 1709.4 605.1 1708.9 607.1 1706.5 608.1 1706.6" fill="none" stroke="#0c8a0c" stroke-width="1.0" stroke-dasharray="3,3"/>
</g>
<rect x="113.4" y="1477.9" width="197.5" height="249.8" fill="none" stroke="#4a4a4a" stroke-width="1.6"/>
<line x1="121.3" y1="1727.7" x2="121.3" y2="1740.7" stroke="#4a4a4a" stroke-width="1.6"/>
<line x1="212.2" y1="1727.7" x2="212.2" y2="1740.7" stroke="#4a4a4a" stroke-width="1.6"/>
<line x1="303" y1="1727.7" x2="303" y2="1740.7" stroke="#4a4a4a" stroke-width="1.6"/>
<line x1="101.4" y1="1718.2" x2="113.4" y2="1718.2" stroke="#4a4a4a" stroke-width="1.6"/>
<text x="97.9" y="1718.2" font-size="22" text-anchor="middle" transform="rotate(-90 97.9 1718.2)">0</text>
<line x1="101.4" y1="1660.1" x2="113.4" y2="1660.1" stroke="#4a4a4a" stroke-width="1.6"/>
<text x="97.9" y="1660.1" font-size="22" text-anchor="middle" transform="rotate(-90 97.9 1660.1)">200</text>
<line x1="101.4" y1="1602" x2="113.4" y2="1602" stroke="#4a4a4a" stroke-width="1.6"/>
<text x="97.9" y="1602" font-size="22" text-anchor="middle" transform="rotate(-90 97.9 1602)">400</text>
<line x1="101.4" y1="1543.8" x2="113.4" y2="1543.8" stroke="#4a4a4a" stroke-width="1.6"/>
<text x="97.9" y="1543.8" font-size="22" text-anchor="middle" transform="rotate(-90 97.9 1543.8)">600</text>
<line x1="101.4" y1="1485.7" x2="113.4" y2="1485.7" stroke="#4a4a4a" stroke-width="1.6"/>
<text x="97.9" y="1485.7" font-size="22" text-anchor="middle" transform="rotate(-90 97.9 1485.7)">800</text>
<rect x="418.8" y="1477.9" width="197.2" height="249.8" fill="none" stroke="#4a4a4a" stroke-width="1.6"/>
<line x1="426.7" y1="1727.7" x2="426.7" y2="1740.7" stroke="#4a4a4a" stroke-width="1.6"/>
<line x1="517.4" y1="1727.7" x2="517.4" y2="1740.7" stroke="#4a4a4a" stroke-width="1.6"/>
<line x1="608.1" y1="1727.7" x2="608.1" y2="1740.7" stroke="#4a4a4a" stroke-width="1.6"/>
<line x1="406.8" y1="1718.2" x2="418.8" y2="1718.2" stroke="#4a4a4a" stroke-width="1.6"/>
<text x="403.3" y="1718.2" font-size="22" text-anchor="middle" transform="rotate(-90 403.3 1718.2)">0</text>
<line x1="406.8" y1="1665.5" x2="418.8" y2="1665.5" stroke="#4a4a4a" stroke-width="1.6"/>
<text x="403.3" y="1665.5" font-size="22" text-anchor="middle" transform="rotate(-90 403.3 1665.5)">50</text>
<line x1="406.8" y1="1612.8" x2="418.8" y2="1612.8" stroke="#4a4a4a" stroke-width="1.6"/>
<text x="403.3" y="1612.8" font-size="22" text-anchor="middle" transform="rotate(-90 403.3 1612.8)">100</text>
<line x1="406.8" y1="1560.1" x2="418.8" y2="1560.1" stroke="#4a4a4a" stroke-width="1.6"/>
<text x="403.3" y="1560.1" font-size="22" text-anchor="middle" transform="rotate(-90 403.3 1560.1)">150</text>
<line x1="406.8" y1="1507.4" x2="418.8" y2="1507.4" stroke="#4a4a4a" stroke-width="1.6"/>
<text x="403.3" y="1507.4" font-size="22" text-anchor="middle" transform="rotate(-90 403.3 1507.4)">200</text>
<text x="120.5" y="1507.9" font-size="21.5">IRF1</text>
<text x="121.3" y="1763.4" font-size="21" text-anchor="middle">-1</text>
<text x="212.2" y="1763.4" font-size="21" text-anchor="middle">TSS</text>
<text x="303" y="1763.4" font-size="21" text-anchor="middle">1</text>
<text x="426.7" y="1763.4" font-size="21" text-anchor="middle">-1</text>
<text x="517.4" y="1763.4" font-size="21" text-anchor="middle">TSS</text>
<text x="608.1" y="1763.4" font-size="21" text-anchor="middle">1</text>
<text x="54" y="1178" font-size="22" text-anchor="middle" transform="rotate(-90 54 1178)">ChIP-seq signal (RPKM)</text>
<rect x="627" y="1535" width="31" height="31" fill="#0f9be6" rx="3"/>
<rect x="627" y="1593" width="31" height="31" fill="#00c800" rx="3"/>
<rect x="627" y="1648.6" width="31" height="31" fill="#d7d700" rx="3"/>
<text x="673" y="1560" font-size="21.5">Ind. gene only</text>
<text x="673" y="1601" font-size="21.5">Ind. gene</text>
<text x="673" y="1628.6" font-size="21.5">&amp; Epromoter</text>
<text x="673" y="1673" font-size="21.5">Ind. Epromoter only</text>
<text x="721.5" y="635.8" font-size="55">d</text>
<text x="951.1" y="628" font-size="21.5" text-anchor="middle">Induced</text>
<text x="951.1" y="656" font-size="21.5" text-anchor="middle">gene only</text>
<text x="1198.7" y="628" font-size="21.5" text-anchor="middle">Induced gene</text>
<text x="1198.7" y="656" font-size="21.5" text-anchor="middle">&amp; Epromoter</text>
<text x="1444.2" y="628" font-size="21.5" text-anchor="middle">Induced</text>
<text x="1444.2" y="656" font-size="21.5" text-anchor="middle">Epromoter only</text>
<path d="M846.2 874.8 847.2 874 848.2 873.6 849.2 874 850.2 874.8 851.3 873.8 854.3 874 856.3 873.3 857.3 875 858.3 874.8 859.3 874 860.3 875.7 861.4 875.2 862.4 875.6 864.4 875.3 865.4 876.7 867.4 876.6 868.4 875.9 869.4 875.7 870.4 874.6 871.5 875.3 872.5 874.3 873.5 875.2 875.5 875 876.5 875.1 877.5 875.6 878.5 874.7 881.6 874.3 882.6 875.1 883.6 874.9 885.6 875.5 886.6 874.3 887.6 874.6 888.6 874 889.6 872.6 890.7 873.4 891.7 873.4 892.7 872.6 894.7 871.8 895.7 872.7 896.7 871.5 898.7 873.1 899.7 872.6 900.8 871.1 902.8 870.6 903.8 871.7 904.8 871.5 906.8 872 908.8 869 909.8 869.2 910.9 870 911.9 868.7 912.9 868.9 914.9 867.1 915.9 867.4 916.9 867.1 917.9 865.7 920 865.2 921 864.1 922 863.8 923 862.7 924 862.4 925 860.7 926 860.5 927 859.6 928 859.2 929 856.6 931.1 855.1 932.1 855.3 935.1 849 936.1 848.7 938.1 843.9 939.1 843.4 940.2 841.2 941.2 840 944.2 834.3 945.2 833.6 947.2 835.1 948.2 836.5 949.2 837.5 950.3 839.5 951.3 840 952.3 841.9 953.3 842.7 955.3 829.6 958.3 820.8 959.4 821.1 961.4 823.9 962.4 824.4 963.4 825.3 964.4 828.4 965.4 828.4 967.4 831.4 969.5 835.8 970.5 837.1 972.5 841 973.5 841.5 974.5 842.7 976.5 845.7 977.5 847.7 978.5 847.6 979.6 849.3 981.6 851.4 982.6 853 983.6 852.5 986.6 857.8 987.6 859 988.6 859.2 989.7 860.4 992.7 861.2 994.7 863.1 995.7 863.2 996.7 864.8 997.7 865.8 998.8 865.9 999.8 865.1 1002.8 868.2 1003.8 867.9 1004.8 867.2 1006.8 866.8 1007.8 868.3 1008.9 868 1009.9 868 1010.9 870 1011.9 868.1 1012.9 870.1 1013.9 870.5 1014.9 869.5 1015.9 869.8 1016.9 869.7 1021 871.9 1022 871.5 1023 872.9 1025 871.6 1026 872.7 1027 871.7 1028.1 871.6 1029.1 872.4 1030.1 872.7 1031.1 872.4 1032.1 872.5 1033.1 872.9 1034.1 871.7 1036.1 872.5 1037.1 872.4 1038.2 872.9 1039.2 874.3 1040.2 872.7 1041.2 874.7 1042.2 874.4 1043.2 874.9 1044.2 874 1045.2 874 1046.2 874.6 1047.2 876.3 1048.3 874.4 1049.3 874.7 1050.3 875.9 1051.3 874.1 1053.3 875.4 1054.3 874.9 1055.3 875.3 1056.3 875 1058.4 876 1059.4 876.1 1060.4 875 1062.4 876" fill="none" stroke="#3d9af0" stroke-width="1.1" stroke-linejoin="round"/>
<path d="M846.2 873.5 847.2 874.3 848.2 872.5 849.2 872.2 850.2 873 851.3 872.5 852.3 871.6 855.3 872.8 856.3 873.7 857.3 873 858.3 874.6 859.3 874.1 860.3 874.2 861.4 875 863.4 872.6 864.4 874.1 865.4 874.9 867.4 873.4 869.4 874 870.4 874.7 871.5 873.4 873.5 872.1 874.5 871.8 875.5 872.6 876.5 874.3 877.5 874.2 878.5 873.6 879.5 872.6 880.5 872.8 881.6 871.3 882.6 871.7 884.6 871.2 885.6 871.5 886.6 872.2 887.6 869.6 889.6 869.9 890.7 871.5 891.7 872.4 892.7 872 893.7 871.2 894.7 869.5 897.7 867.6 898.7 868.6 900.8 869.2 902.8 869.3 903.8 868 904.8 867.8 905.8 868.2 906.8 868.3 908.8 866.2 909.8 866.8 911.9 866.6 915.9 863.3 917.9 860.3 918.9 860.8 920 858.7 921 858.9 922 858.6 923 858.8 924 857.8 925 854.6 926 854.2 927 852 928 851.2 930.1 848.2 931.1 848.4 932.1 849.7 933.1 847 934.1 842.3 935.1 839 936.1 838.1 937.1 836.6 938.1 834.5 939.1 831.1 940.2 830.1 942.2 824 945.2 816.9 946.2 819.9 947.2 821.6 948.2 822.5 949.2 824.2 950.3 827.6 951.3 829.7 952.3 834.5 953.3 836.6 955.3 816.3 958.3 799 959.4 795.2 960.4 796 961.4 799.3 962.4 801 963.4 802 964.4 806.2 965.4 807.6 966.4 808.1 967.4 809.4 968.4 811.3 970.5 816.6 971.5 817 972.5 819.1 973.5 822.1 975.5 823.8 977.5 829.5 981.6 834.5 982.6 837.4 983.6 838.9 984.6 839.2 986.6 842.3 987.6 845.5 988.6 846.3 989.7 846.1 990.7 848.2 991.7 848.7 993.7 851.3 994.7 851.1 996.7 854.7 998.8 855.8 999.8 857.6 1000.8 857.9 1002.8 859.6 1003.8 857.9 1004.8 857.7 1005.8 858.7 1006.8 861.3 1007.8 860.5 1008.9 860.7 1009.9 862 1010.9 861.9 1011.9 863.8 1012.9 864.5 1015.9 865.8 1016.9 865.2 1017.9 866.9 1019 867.3 1020 867.2 1021 865.7 1022 867.7 1024 866.5 1025 868.8 1026 869 1027 869 1028.1 869.5 1029.1 868.1 1030.1 869.1 1031.1 868.4 1033.1 869.4 1034.1 869.1 1035.1 870 1036.1 869.7 1037.1 871.4 1038.2 871.2 1039.2 870.3 1040.2 872.4 1041.2 871.2 1043.2 871.9 1044.2 871.8 1045.2 870.8 1046.2 872.4 1047.2 871.1 1048.3 871.3 1049.3 872 1051.3 871.5 1053.3 873.2 1054.3 872.2 1055.3 872.8 1056.3 872.6 1059.4 870.9 1060.4 872 1061.4 872.3 1062.4 872" fill="none" stroke="#f5393c" stroke-width="1.1" stroke-linejoin="round"/>
<rect x="837.4" y="669.0" width="233.4" height="235.2" fill="none" stroke="#7a7a7a" stroke-width="1.4"/>
<line x1="830.4" y1="896" x2="837.4" y2="896" stroke="#7a7a7a" stroke-width="1.3"/>
<text x="820.5" y="896" font-size="22.5" text-anchor="middle" transform="rotate(-90 820.5 896)">0</text>
<line x1="830.4" y1="823" x2="837.4" y2="823" stroke="#7a7a7a" stroke-width="1.3"/>
<text x="820.5" y="823" font-size="22.5" text-anchor="middle" transform="rotate(-90 820.5 823)">5</text>
<line x1="830.4" y1="750" x2="837.4" y2="750" stroke="#7a7a7a" stroke-width="1.3"/>
<text x="820.5" y="750" font-size="22.5" text-anchor="middle" transform="rotate(-90 820.5 750)">10</text>
<line x1="830.4" y1="677" x2="837.4" y2="677" stroke="#7a7a7a" stroke-width="1.3"/>
<text x="820.5" y="677" font-size="22.5" text-anchor="middle" transform="rotate(-90 820.5 677)">15</text>
<line x1="846.2" y1="904.2" x2="846.2" y2="912.2" stroke="#7a7a7a" stroke-width="1.3"/>
<line x1="954.4" y1="904.2" x2="954.4" y2="912.2" stroke="#7a7a7a" stroke-width="1.3"/>
<line x1="1062.4" y1="904.2" x2="1062.4" y2="912.2" stroke="#7a7a7a" stroke-width="1.3"/>
<path d="M1090.3 873.2 1091.3 869.9 1092.3 873.1 1093.3 878.4 1094.4 877.6 1095.4 874.5 1096.4 875.6 1097.4 874.6 1098.4 879.8 1099.4 871.8 1100.4 872.2 1101.4 879.8 1102.5 878.8 1103.5 879 1104.5 878.2 1105.5 875.6 1106.5 878.8 1107.5 879.9 1108.5 876 1109.5 874.7 1110.6 878.4 1111.6 878.3 1112.6 881.2 1113.6 875.6 1114.6 872.3 1117.7 883.7 1118.7 881.2 1119.7 883.5 1120.7 877.1 1121.7 873.6 1122.7 874.7 1123.7 877.8 1124.7 878.1 1125.8 880.5 1126.8 878.9 1127.8 878.6 1128.8 880.5 1129.8 885.8 1130.8 879.9 1131.8 878.8 1132.8 881.2 1133.9 878.8 1134.9 878.7 1135.9 884.5 1136.9 879.1 1137.9 881.6 1138.9 883.3 1139.9 880.9 1141 882.6 1142 882.6 1143 883.7 1144 883.5 1145 884.4 1146 883.4 1147 884.6 1148 884.4 1149.1 879.1 1150.1 880.5 1151.1 879.4 1152.1 876.6 1155.1 883.8 1156.2 879.3 1158.2 876.9 1159.2 878.9 1160.2 880.1 1161.2 882.5 1162.2 877.1 1163.2 879.9 1165.3 873.9 1166.3 873.8 1167.3 872.8 1168.3 871.2 1169.3 874.2 1171.3 863.7 1172.4 863.3 1173.4 867.3 1174.4 861.4 1175.4 860.8 1176.4 863.3 1177.4 862.8 1179.5 851.9 1180.5 852.3 1181.5 854 1183.5 845.8 1184.5 846.5 1185.5 845.8 1186.5 843 1187.6 845.9 1188.6 840.2 1189.6 841.6 1190.6 837.7 1191.6 834.9 1193.6 835 1194.6 832.5 1195.7 829 1196.7 832.2 1197.7 830.1 1199.7 820.6 1200.7 819.2 1201.7 821.4 1202.8 820.9 1203.8 823.8 1204.8 820.4 1206.8 824.7 1207.8 833.2 1209.8 837.3 1210.9 841.5 1211.9 841.7 1212.9 840.9 1213.9 846.9 1214.9 847.5 1215.9 845.5 1216.9 849 1217.9 850.6 1220 856.4 1221 857.1 1222 857.2 1223 860.1 1224 860.5 1225 862.7 1226.1 862.6 1227.1 860.1 1228.1 863.1 1229.1 868.3 1230.1 866.1 1231.1 861.3 1232.1 862.3 1233.1 869.5 1234.2 867.6 1235.2 869.7 1236.2 875.4 1237.2 869.5 1238.2 865.9 1239.2 872.1 1240.2 872.3 1241.2 870.3 1242.3 873.7 1243.3 874.1 1244.3 873.2 1245.3 876.4 1246.3 873.3 1247.3 876.4 1249.4 871 1250.4 869.8 1251.4 875.1 1252.4 873.8 1253.4 874.4 1254.4 878.7 1255.4 875.5 1257.5 872.5 1258.5 869.8 1259.5 874 1260.5 875.3 1261.5 875.6 1262.5 875.3 1264.6 872.2 1265.6 877.7 1266.6 877.5 1267.6 882.7 1268.6 881.4 1269.6 877.8 1270.6 881.5 1271.6 876.3 1272.7 874 1273.7 878.9 1274.7 879.3 1275.7 877.8 1276.7 878.7 1277.7 878.3 1278.7 879.1 1279.7 876 1280.8 876.9 1281.8 879.2 1282.8 884.1 1284.8 878.5 1285.8 877.2 1286.8 879.6 1287.9 876.9 1288.9 876.4 1289.9 879.1 1290.9 876.9 1292.9 880.9 1294.9 874.7 1296 876.4 1297 877.3 1298 875.5 1299 875.6 1300 877.7 1301 883 1302 885.1 1303 881.8 1304.1 873.9 1305.1 875.7 1306.1 880.4 1307.1 876.1" fill="none" stroke="#3d9af0" stroke-width="1.1" stroke-linejoin="round"/>
<path d="M1090.3 861.3 1091.3 866.9 1092.3 863.6 1093.3 866.9 1094.4 862.7 1095.4 869 1096.4 868 1097.4 868.2 1098.4 871.1 1099.4 864.5 1100.4 870.1 1101.4 870.5 1103.5 864.2 1104.5 866.7 1105.5 860.4 1106.5 865.2 1107.5 866.8 1108.5 865.2 1109.5 867.2 1110.6 870.2 1111.6 868.9 1113.6 861.9 1114.6 865.1 1115.6 866.7 1116.6 873.7 1117.7 869.2 1118.7 866.5 1119.7 861.2 1120.7 861.6 1121.7 865.9 1122.7 865.9 1124.7 869.9 1125.8 868.3 1126.8 868.7 1127.8 866.7 1128.8 865.8 1129.8 867.6 1130.8 865.5 1131.8 870.9 1132.8 868.7 1133.9 868.7 1134.9 873.7 1135.9 867.8 1137.9 864.2 1138.9 868.9 1139.9 868.2 1141 869.3 1142 875.4 1143 872.2 1144 875.7 1145 871.6 1146 869.9 1147 872.7 1148 878.3 1149.1 870 1150.1 871.5 1151.1 871.2 1152.1 874.3 1153.1 871.7 1154.1 864 1155.1 868.2 1156.2 869.1 1157.2 867.3 1158.2 863.6 1159.2 869 1160.2 866 1161.2 864.2 1162.2 854.1 1164.3 858.8 1165.3 858.3 1166.3 858.6 1167.3 857.5 1168.3 853.8 1169.3 847 1170.3 850.3 1171.3 849.1 1173.4 839.6 1174.4 840.9 1175.4 843.5 1176.4 839.1 1177.4 835.9 1178.4 834 1180.5 817.9 1181.5 812.8 1182.5 801.9 1183.5 799.5 1184.5 794.9 1185.5 787 1186.5 781.6 1188.6 761.3 1189.6 756.4 1190.6 754.5 1191.6 752.9 1192.6 755.9 1193.6 767.8 1195.7 779 1196.7 795.9 1197.7 807.9 1199.7 758.6 1200.7 740.7 1201.7 729.4 1203.8 697.3 1204.8 688.1 1205.8 690.5 1206.8 701.4 1207.8 717.4 1210.9 741.5 1212.9 749.4 1213.9 755.3 1214.9 759.5 1215.9 768.2 1216.9 770.2 1217.9 778.9 1219 782.6 1220 787.8 1221 785.1 1222 790.8 1223 791.9 1224 799.4 1225 798.3 1226.1 798.8 1227.1 803.3 1229.1 809 1231.1 816.6 1232.1 819.3 1233.1 816.5 1234.2 820.6 1236.2 825 1237.2 831.7 1238.2 834.9 1239.2 835.2 1240.2 829 1241.2 835 1242.3 836.4 1243.3 844.1 1244.3 842.3 1245.3 841.8 1246.3 844 1247.3 841.5 1248.3 846.1 1249.4 846.8 1250.4 844.1 1251.4 844.1 1252.4 849.4 1253.4 853.4 1254.4 853 1255.4 850.2 1256.4 856.8 1257.5 858.4 1258.5 857.7 1259.5 852.6 1260.5 854.6 1261.5 859.4 1262.5 859.8 1263.5 858.4 1265.6 862.5 1266.6 862.2 1267.6 860.8 1268.6 861.8 1269.6 860.9 1271.6 863.2 1272.7 860.3 1273.7 861.4 1274.7 867.9 1275.7 863.3 1277.7 866.5 1278.7 862.2 1279.7 862.9 1280.8 863.3 1281.8 865.6 1282.8 860.3 1284.8 867 1285.8 861.9 1286.8 867.8 1287.9 863.5 1288.9 868.1 1289.9 870.4 1291.9 872.5 1292.9 872 1293.9 868.6 1294.9 870.4 1296 874.5 1297 871 1298 874.3 1299 870 1300 872 1301 871.3 1302 869 1303 875.9 1304.1 864.6 1305.1 861 1306.1 867.1 1307.1 870.3" fill="none" stroke="#f5393c" stroke-width="1.1" stroke-linejoin="round"/>
<rect x="1082.1" y="669.0" width="233.2" height="235.2" fill="none" stroke="#7a7a7a" stroke-width="1.4"/>
<line x1="1075.1" y1="896" x2="1082.1" y2="896" stroke="#7a7a7a" stroke-width="1.3"/>
<line x1="1075.1" y1="823" x2="1082.1" y2="823" stroke="#7a7a7a" stroke-width="1.3"/>
<line x1="1075.1" y1="750" x2="1082.1" y2="750" stroke="#7a7a7a" stroke-width="1.3"/>
<line x1="1075.1" y1="677" x2="1082.1" y2="677" stroke="#7a7a7a" stroke-width="1.3"/>
<line x1="1090.3" y1="904.2" x2="1090.3" y2="912.2" stroke="#7a7a7a" stroke-width="1.3"/>
<line x1="1198.7" y1="904.2" x2="1198.7" y2="912.2" stroke="#7a7a7a" stroke-width="1.3"/>
<line x1="1307.1" y1="904.2" x2="1307.1" y2="912.2" stroke="#7a7a7a" stroke-width="1.3"/>
<path d="M1335.4 873.2 1336.4 873.3 1337.4 876.9 1338.4 875.2 1339.5 874.4 1340.5 872.6 1341.5 866.4 1342.5 873.4 1343.5 874.9 1344.5 874.2 1345.5 869.7 1346.5 873.4 1347.6 872.3 1348.6 868.5 1349.6 869.1 1350.6 873.3 1351.6 865.2 1352.6 868.2 1353.6 866.9 1354.7 867.5 1355.7 864.1 1356.7 870.4 1357.7 871.7 1359.7 863.8 1360.7 867.3 1361.8 864.2 1362.8 862.9 1363.8 871 1364.8 862.9 1365.8 862.7 1366.8 868 1367.8 867.5 1368.8 868.1 1369.9 865 1370.9 868.7 1371.9 865 1372.9 863.8 1373.9 873.3 1374.9 868.2 1375.9 869.1 1377 870.6 1378 868.2 1379 870.8 1380 875.5 1382 870.4 1383 872.9 1384.1 872.9 1385.1 860.4 1386.1 861.6 1387.1 863.5 1389.1 876.4 1390.1 870.9 1391.1 867.4 1392.2 870.4 1393.2 870.9 1395.2 860.6 1396.2 865.9 1397.2 868.1 1398.2 869.7 1399.3 862.9 1400.3 865.8 1401.3 867.5 1402.3 868.3 1403.3 868.3 1404.3 863.8 1405.3 857.4 1406.3 862.4 1407.4 862.2 1408.4 865.3 1409.4 862.9 1410.4 866 1411.4 857.5 1412.4 860.7 1413.4 857.3 1414.5 855.9 1415.5 850.8 1417.5 852.3 1418.5 858.6 1421.6 854.2 1422.6 850.7 1423.6 842.2 1424.6 841.5 1425.6 839.5 1426.6 839.9 1427.6 837.9 1428.6 834.9 1429.7 823.8 1430.7 821.9 1431.7 817.2 1432.7 815.9 1433.7 816.3 1434.7 812 1435.7 816.5 1436.8 809.9 1439.8 815.4 1440.8 816.5 1441.8 821.3 1442.8 823 1443.8 818.3 1445.9 800.5 1446.9 795.6 1449.9 801.5 1450.9 798.6 1452 800.6 1453 797.7 1454 796.9 1455 805.5 1456 801.7 1457 804.2 1458 813.7 1459.1 814.6 1460.1 813.1 1461.1 820 1462.1 822.5 1463.1 819.2 1464.1 825 1465.1 827.3 1466.1 825.1 1467.2 828.1 1468.2 829.2 1469.2 826.9 1470.2 830.5 1471.2 841.6 1472.2 836.7 1473.2 840.1 1474.3 841.3 1475.3 840.7 1476.3 839.5 1478.3 849.4 1479.3 850.7 1480.3 857.3 1481.4 852.9 1482.4 855 1483.4 861.7 1484.4 864.7 1485.4 865.7 1486.4 864.4 1487.4 860.8 1489.5 865.3 1490.5 863.4 1491.5 858.9 1492.5 864 1493.5 865.1 1494.5 857 1495.5 865.1 1496.6 862.3 1497.6 860.7 1498.6 863.5 1499.6 864.6 1500.6 860.5 1501.6 863.4 1502.6 863 1503.6 864.2 1504.7 860.5 1505.7 868.8 1506.7 871.6 1507.7 870.2 1508.7 867.7 1509.7 867.6 1510.7 867.1 1511.8 869 1512.8 867 1513.8 872.9 1514.8 873.2 1515.8 870.1 1516.8 871.3 1517.8 872.1 1518.9 871.6 1519.9 871.6 1520.9 868.1 1521.9 865.8 1522.9 864.6 1524.9 872.9 1525.9 874.9 1528 876.3 1529 868.5 1530 864.6 1531 870 1532 871.3 1533 878.1 1534.1 872.4 1535.1 872.3 1536.1 870.6 1537.1 873 1539.1 873.2 1540.1 870.6 1541.2 861.8 1542.2 866 1543.2 873.2 1544.2 870.2 1545.2 868.2 1546.2 862.1 1547.2 872.2 1548.2 865.9 1549.3 862.6 1550.3 858 1551.3 859.6 1552.3 866.1" fill="none" stroke="#3d9af0" stroke-width="1.1" stroke-linejoin="round"/>
<path d="M1335.4 873.4 1336.4 867.3 1337.4 864.6 1338.4 872.2 1339.5 873.2 1340.5 868.5 1341.5 870.8 1343.5 864.4 1344.5 867.4 1345.5 868.3 1346.5 879 1347.6 868.4 1349.6 874.3 1350.6 872.2 1351.6 875.5 1352.6 876.6 1353.6 878.8 1354.7 874 1355.7 875.3 1356.7 872 1357.7 865.4 1358.7 867.9 1359.7 872.4 1360.7 865.6 1361.8 862.6 1362.8 865.9 1364.8 867.4 1365.8 869.4 1366.8 861.8 1367.8 862.8 1368.8 865.7 1369.9 866.3 1370.9 865.8 1371.9 860.8 1373.9 874.2 1374.9 867.4 1375.9 863.4 1377 864.8 1378 870.5 1379 873.9 1380 861.8 1381 870.7 1382 868.6 1383 869.3 1384.1 871.3 1385.1 871.3 1386.1 873.7 1387.1 873 1388.1 870.9 1389.1 867.1 1390.1 858.9 1391.1 869.4 1392.2 863.9 1395.2 873.9 1396.2 869.8 1397.2 871.8 1398.2 867 1399.3 866.8 1400.3 871.3 1401.3 863.2 1402.3 866 1403.3 865.2 1404.3 863.8 1405.3 864.5 1406.3 858 1407.4 854.9 1408.4 859 1410.4 851.2 1411.4 855.2 1412.4 856.9 1413.4 850.8 1415.5 853.8 1416.5 856.2 1417.5 849.6 1418.5 849.9 1419.5 846.2 1420.5 852.6 1421.6 846.9 1422.6 832.3 1423.6 825.6 1424.6 826.7 1425.6 825.5 1426.6 829.7 1427.6 816.5 1428.6 815.8 1429.7 817.6 1431.7 803.3 1432.7 792.2 1433.7 786.7 1434.7 774.3 1435.7 772.9 1436.8 775.3 1437.8 781.9 1438.8 793.6 1439.8 793.6 1440.8 803.4 1442.8 813.6 1444.9 798 1445.9 784.5 1446.9 780.9 1447.9 788.6 1448.9 778.4 1449.9 771.1 1453 775.2 1454 782.3 1455 787.1 1456 785.5 1457 790.1 1458 792.3 1459.1 788.4 1460.1 795.3 1461.1 805.6 1462.1 801.8 1463.1 810.6 1464.1 812.5 1465.1 821 1466.1 815.6 1467.2 825.9 1469.2 815.9 1472.2 838.1 1474.3 837.7 1475.3 852 1476.3 850.4 1477.3 842.6 1478.3 848.2 1479.3 844.6 1480.3 848 1481.4 855.6 1482.4 853.9 1483.4 849.5 1484.4 856.7 1485.4 857.7 1486.4 857.3 1487.4 862.3 1488.4 861.6 1489.5 858.8 1490.5 861.2 1491.5 860.6 1493.5 853.2 1494.5 860.6 1495.5 861.7 1496.6 849 1497.6 856.8 1498.6 869.4 1499.6 866.7 1500.6 868.8 1501.6 861.3 1502.6 867.2 1503.6 864.3 1504.7 856.8 1505.7 864.5 1506.7 863.4 1508.7 858.3 1509.7 857.6 1510.7 857.6 1511.8 865.7 1512.8 864.7 1513.8 871.9 1514.8 866.8 1515.8 865.1 1516.8 858.5 1518.9 868.2 1519.9 869.4 1520.9 871.6 1521.9 870.8 1522.9 871.1 1523.9 869.2 1524.9 870.9 1527 865.5 1528 873.8 1529 874.6 1530 874.2 1531 861.2 1532 861 1533 866.4 1535.1 872.8 1536.1 866 1537.1 868 1538.1 867.5 1539.1 870.8 1540.1 882.5 1541.2 878.7 1542.2 872.2 1543.2 868 1544.2 872.7 1545.2 869.2 1547.2 873.2 1548.2 867.8 1549.3 873.9 1550.3 873.5 1551.3 861.4 1552.3 861" fill="none" stroke="#f5393c" stroke-width="1.1" stroke-linejoin="round"/>
<rect x="1327.3" y="669.0" width="233.7" height="235.2" fill="none" stroke="#7a7a7a" stroke-width="1.4"/>
<line x1="1320.3" y1="896" x2="1327.3" y2="896" stroke="#7a7a7a" stroke-width="1.3"/>
<line x1="1320.3" y1="823" x2="1327.3" y2="823" stroke="#7a7a7a" stroke-width="1.3"/>
<line x1="1320.3" y1="750" x2="1327.3" y2="750" stroke="#7a7a7a" stroke-width="1.3"/>
<line x1="1320.3" y1="677" x2="1327.3" y2="677" stroke="#7a7a7a" stroke-width="1.3"/>
<line x1="1335.4" y1="904.2" x2="1335.4" y2="912.2" stroke="#7a7a7a" stroke-width="1.3"/>
<line x1="1444.2" y1="904.2" x2="1444.2" y2="912.2" stroke="#7a7a7a" stroke-width="1.3"/>
<line x1="1552.3" y1="904.2" x2="1552.3" y2="912.2" stroke="#7a7a7a" stroke-width="1.3"/>
<path d="M846.2 1131.9 849.2 1132.3 850.2 1132.1 851.3 1132.7 852.3 1132.2 856.3 1133.2 858.3 1132.5 860.3 1132.5 864.4 1133.3 867.4 1132.8 868.4 1133 871.5 1132.3 873.5 1132.4 875.5 1131.8 876.5 1132.3 877.5 1132.1 878.5 1130.9 879.5 1131.5 880.5 1131.6 881.6 1132.1 883.6 1131.3 885.6 1131.1 888.6 1130.3 889.6 1130.8 890.7 1130.7 891.7 1130.1 894.7 1130.3 898.7 1128.9 900.8 1129.3 901.8 1128.4 903.8 1128.7 905.8 1128.2 906.8 1128.4 907.8 1128.3 909.8 1127.6 910.9 1128.2 911.9 1127.3 912.9 1127.5 915.9 1124.8 916.9 1124.8 917.9 1123.6 918.9 1123 920 1122.9 923 1121.3 924 1119.3 926 1118.7 927 1117.4 929 1115.9 931.1 1114 932.1 1113.6 933.1 1112.3 934.1 1109.3 936.1 1105.4 937.1 1102.7 938.1 1101.5 941.2 1094 946.2 1078.1 947.2 1075.9 950.3 1074.5 951.3 1074.9 953.3 1073 954.3 1071.5 956.3 1049.7 958.3 1039.6 959.4 1040 963.4 1049.2 968.4 1065 972.5 1075.3 974.5 1081.7 976.5 1086.8 979.6 1092.3 980.6 1095.3 981.6 1097.4 983.6 1101 986.6 1107.4 988.6 1110.2 989.7 1111.1 990.7 1112.9 994.7 1117.1 996.7 1119.9 997.7 1120.7 998.8 1120.9 999.8 1122 1000.8 1122.2 1002.8 1123.6 1003.8 1123.8 1004.8 1124.6 1006.8 1125.2 1007.8 1125.2 1008.9 1126.3 1009.9 1126.3 1012.9 1127.2 1013.9 1127 1014.9 1127.7 1015.9 1127.7 1016.9 1128.1 1019 1128.4 1020 1129.3 1023 1129.2 1024 1129.7 1025 1129.3 1026 1129.2 1029.1 1130.2 1030.1 1129.6 1032.1 1129.3 1033.1 1130 1034.1 1129.9 1035.1 1130.7 1037.1 1130.9 1038.2 1131.5 1040.2 1131.3 1042.2 1131.5 1044.2 1131.1 1045.2 1131.2 1046.2 1132.2 1048.3 1131.8 1049.3 1132.4 1050.3 1131.6 1051.3 1131.4 1052.3 1132.3 1053.3 1132.7 1055.3 1131.3 1056.3 1131 1057.3 1131.7 1059.4 1132.3 1060.4 1132 1061.4 1132.3 1062.4 1132.2" fill="none" stroke="#3d9af0" stroke-width="1.1" stroke-linejoin="round"/>
<path d="M846.2 1132.2 847.2 1132.8 849.2 1131.8 850.2 1132.7 851.3 1132.3 852.3 1132.5 853.3 1132 854.3 1132.6 855.3 1132.7 856.3 1132 857.3 1132.1 859.3 1133.5 860.3 1133.4 861.4 1132.7 862.4 1132.7 863.4 1133.2 864.4 1132.5 866.4 1133.1 869.4 1133 870.4 1132.5 872.5 1132.5 873.5 1132 874.5 1132.1 875.5 1132.6 876.5 1132.1 877.5 1132.2 879.5 1131.6 880.5 1131.9 881.6 1131 882.6 1130.6 884.6 1131.4 887.6 1130.4 888.6 1130.4 889.6 1130.6 890.7 1130.4 892.7 1129 893.7 1129.6 894.7 1129.7 896.7 1128.9 898.7 1130.1 899.7 1129.5 902.8 1129.4 903.8 1128.9 904.8 1127.8 907.8 1128.6 909.8 1127.9 910.9 1127.9 911.9 1127.3 912.9 1126 913.9 1125.4 915.9 1125.2 916.9 1124.2 917.9 1123.8 922 1120.6 923 1120.5 924 1118.9 927 1116.5 928 1114.9 931.1 1112.8 933.1 1110.3 934.1 1108.4 937.1 1101.6 938.1 1098.7 941.2 1092.9 942.2 1089.1 945.2 1079.7 946.2 1075.8 947.2 1074 948.2 1074.1 950.3 1073.4 952.3 1072 953.3 1071.6 954.3 1070.6 956.3 1037.2 958.3 1025.2 959.4 1022.3 963.4 1031.7 975.5 1066.1 981.6 1081.9 982.6 1085.5 983.6 1087.6 986.6 1096.5 987.6 1097.8 990.7 1104.1 991.7 1105.3 992.7 1107 993.7 1109.6 997.7 1116.6 998.8 1116.6 999.8 1117.8 1001.8 1119.6 1002.8 1120.2 1003.8 1120.3 1006.8 1122.8 1007.8 1122.8 1008.9 1123.2 1011.9 1125 1012.9 1124.9 1013.9 1125.2 1015.9 1126.4 1016.9 1126.4 1017.9 1127.4 1019 1127.5 1020 1127.2 1023 1129.2 1026 1128.4 1027 1129.2 1028.1 1128.5 1029.1 1129.2 1031.1 1129.6 1032.1 1130.2 1034.1 1129.7 1035.1 1130.9 1037.1 1131.1 1040.2 1130.6 1041.2 1131.5 1042.2 1131 1043.2 1131.4 1046.2 1131.3 1047.2 1131.7 1048.3 1131.3 1049.3 1131.4 1050.3 1132.2 1052.3 1131.8 1053.3 1132.3 1054.3 1132.4 1056.3 1131.9 1057.3 1131.9 1058.4 1132.3 1059.4 1132.1 1060.4 1132.6 1061.4 1131.6 1062.4 1132.2" fill="none" stroke="#f5393c" stroke-width="1.1" stroke-linejoin="round"/>
<rect x="837.4" y="918.1" width="233.4" height="235.4" fill="none" stroke="#7a7a7a" stroke-width="1.4"/>
<line x1="830.4" y1="1144.4" x2="837.4" y2="1144.4" stroke="#7a7a7a" stroke-width="1.3"/>
<text x="820.5" y="1144.4" font-size="22.5" text-anchor="middle" transform="rotate(-90 820.5 1144.4)">0</text>
<line x1="830.4" y1="1100.8" x2="837.4" y2="1100.8" stroke="#7a7a7a" stroke-width="1.3"/>
<text x="820.5" y="1100.8" font-size="22.5" text-anchor="middle" transform="rotate(-90 820.5 1100.8)">5</text>
<line x1="830.4" y1="1057.1" x2="837.4" y2="1057.1" stroke="#7a7a7a" stroke-width="1.3"/>
<text x="820.5" y="1057.1" font-size="22.5" text-anchor="middle" transform="rotate(-90 820.5 1057.1)">10</text>
<line x1="830.4" y1="1013.5" x2="837.4" y2="1013.5" stroke="#7a7a7a" stroke-width="1.3"/>
<text x="820.5" y="1013.5" font-size="22.5" text-anchor="middle" transform="rotate(-90 820.5 1013.5)">15</text>
<line x1="830.4" y1="969.8" x2="837.4" y2="969.8" stroke="#7a7a7a" stroke-width="1.3"/>
<text x="820.5" y="969.8" font-size="22.5" text-anchor="middle" transform="rotate(-90 820.5 969.8)">20</text>
<line x1="830.4" y1="926.2" x2="837.4" y2="926.2" stroke="#7a7a7a" stroke-width="1.3"/>
<text x="820.5" y="926.2" font-size="22.5" text-anchor="middle" transform="rotate(-90 820.5 926.2)">25</text>
<line x1="846.2" y1="1153.5" x2="846.2" y2="1161.5" stroke="#7a7a7a" stroke-width="1.3"/>
<line x1="954.4" y1="1153.5" x2="954.4" y2="1161.5" stroke="#7a7a7a" stroke-width="1.3"/>
<line x1="1062.4" y1="1153.5" x2="1062.4" y2="1161.5" stroke="#7a7a7a" stroke-width="1.3"/>
<path d="M1090.3 1132.8 1091.3 1135.3 1092.3 1134.3 1093.3 1137.5 1094.4 1135.8 1095.4 1135.5 1096.4 1138.9 1099.4 1133.4 1100.4 1136.4 1101.4 1135.8 1102.5 1137.1 1104.5 1133 1105.5 1134.6 1106.5 1138.8 1108.5 1139.2 1109.5 1138.2 1110.6 1138.4 1111.6 1134.5 1112.6 1135.6 1113.6 1133.7 1114.6 1136.3 1116.6 1137 1118.7 1136.2 1119.7 1136.5 1120.7 1138 1121.7 1138.6 1123.7 1135.6 1124.7 1136.3 1125.8 1138.1 1126.8 1136.1 1128.8 1139.6 1129.8 1138 1130.8 1138.9 1131.8 1135.9 1132.8 1136.9 1133.9 1138.5 1134.9 1138.2 1135.9 1137.5 1136.9 1138 1137.9 1137.9 1138.9 1134.8 1139.9 1137.3 1142 1139.6 1143 1136.6 1144 1136.1 1145 1136.1 1146 1137.5 1147 1135.2 1148 1137.9 1149.1 1138.4 1150.1 1137.1 1151.1 1136.7 1153.1 1132.8 1154.1 1135 1155.1 1134 1156.2 1134.9 1157.2 1136.9 1158.2 1138.1 1159.2 1136.5 1160.2 1137.3 1161.2 1136.6 1162.2 1135.1 1163.2 1135.2 1164.3 1134.1 1165.3 1137.2 1166.3 1135.8 1167.3 1130.7 1169.3 1132.9 1170.3 1132.8 1171.3 1135.2 1172.4 1134.8 1173.4 1131.3 1174.4 1132.1 1175.4 1128 1176.4 1128.1 1177.4 1122.3 1178.4 1120.7 1179.5 1119.7 1180.5 1117.1 1181.5 1115.4 1182.5 1115.2 1183.5 1113.7 1185.5 1107.3 1186.5 1106.8 1187.6 1102.4 1188.6 1096.1 1189.6 1094.2 1191.6 1087.9 1192.6 1080.3 1193.6 1077.6 1194.6 1073.4 1195.7 1066.5 1196.7 1056.4 1198.7 1047.9 1200.7 1041.7 1201.7 1036.8 1202.8 1033.5 1203.8 1035.6 1205.8 1053.1 1206.8 1059.8 1207.8 1061.9 1208.8 1065.9 1209.8 1074 1210.9 1079.4 1211.9 1081.7 1214.9 1094 1215.9 1096.7 1219 1108.8 1220 1115 1221 1113.5 1222 1114.3 1224 1118.6 1225 1121.6 1226.1 1123.4 1227.1 1122.8 1228.1 1124.6 1229.1 1122.5 1231.1 1125 1232.1 1124.2 1234.2 1126.4 1235.2 1125 1236.2 1126.5 1237.2 1127.4 1238.2 1127.3 1240.2 1128.1 1241.2 1129.9 1242.3 1130.1 1243.3 1129.5 1245.3 1130.7 1246.3 1133.1 1247.3 1132.8 1248.3 1133.3 1249.4 1132.7 1250.4 1132.4 1251.4 1134 1253.4 1134 1254.4 1133.6 1257.5 1135.1 1258.5 1134.4 1259.5 1132.3 1260.5 1132 1262.5 1135.4 1263.5 1134.5 1264.6 1134.2 1265.6 1137.1 1266.6 1135.4 1267.6 1132.7 1269.6 1136.6 1270.6 1136.5 1271.6 1137.9 1272.7 1136.3 1276.7 1135.7 1277.7 1134.5 1279.7 1136.2 1280.8 1136.3 1281.8 1138.3 1282.8 1136 1283.8 1132.8 1284.8 1133.2 1286.8 1136.6 1287.9 1135.3 1288.9 1132.6 1289.9 1135.1 1290.9 1135.4 1291.9 1133.8 1292.9 1133 1293.9 1133.9 1294.9 1133.6 1296 1135.8 1297 1133.9 1298 1135.4 1299 1135.4 1300 1137.8 1301 1135.7 1302 1136 1303 1135.7 1304.1 1137.4 1305.1 1138.4 1307.1 1135.4" fill="none" stroke="#3d9af0" stroke-width="1.1" stroke-linejoin="round"/>
<path d="M1090.3 1129 1091.3 1128.7 1093.3 1132.1 1094.4 1129.8 1095.4 1130 1096.4 1130.9 1098.4 1131 1099.4 1130.4 1100.4 1130.7 1101.4 1132 1102.5 1131.2 1104.5 1132.9 1106.5 1129.7 1107.5 1130.3 1108.5 1130.1 1109.5 1129 1111.6 1131 1112.6 1131.1 1113.6 1129.4 1114.6 1131.7 1115.6 1131.8 1116.6 1130.2 1117.7 1130.1 1118.7 1132.4 1119.7 1130.8 1120.7 1131.4 1121.7 1131.4 1122.7 1131.9 1123.7 1131.4 1124.7 1129.7 1125.8 1130.7 1126.8 1132.5 1127.8 1132.6 1129.8 1134.9 1131.8 1130.8 1132.8 1131.2 1133.9 1132.5 1134.9 1128.8 1135.9 1130.2 1136.9 1132.5 1137.9 1131.9 1139.9 1131.8 1141 1129.3 1142 1128.9 1143 1131.1 1144 1130.8 1145 1130.9 1147 1133.4 1148 1133.4 1149.1 1131.3 1153.1 1131 1154.1 1132.1 1155.1 1134.2 1156.2 1133.9 1157.2 1129.9 1158.2 1130.7 1159.2 1132.4 1160.2 1131.5 1162.2 1127.4 1163.2 1127.5 1164.3 1128.4 1165.3 1128.8 1166.3 1130.2 1167.3 1128.8 1168.3 1129.1 1169.3 1128.7 1170.3 1130.1 1171.3 1127.4 1172.4 1126.9 1173.4 1125 1174.4 1126.4 1175.4 1123.2 1176.4 1122.6 1177.4 1122.6 1178.4 1120.8 1179.5 1120.6 1180.5 1117.7 1181.5 1119 1182.5 1113.8 1183.5 1116.6 1184.5 1117.3 1185.5 1116.3 1186.5 1112.3 1187.6 1110.9 1189.6 1104.6 1190.6 1100.8 1191.6 1094.3 1193.6 1086.5 1194.6 1084.5 1195.7 1080.3 1196.7 1085.1 1197.7 1077.9 1198.7 1067.3 1201.7 1000.7 1202.8 989.3 1203.8 981.5 1204.8 974.1 1205.8 971.1 1206.8 975.1 1207.8 976.8 1208.8 979.4 1209.8 984 1210.9 991.7 1211.9 995 1212.9 999.7 1213.9 1007.1 1219 1036.5 1220 1045.4 1223 1052.7 1224 1059.5 1225 1064.2 1227.1 1069.7 1228.1 1075.3 1230.1 1078.9 1231.1 1083.5 1232.1 1085.5 1234.2 1091.5 1235.2 1097.5 1236.2 1101.2 1237.2 1101.7 1238.2 1103.8 1239.2 1109.6 1240.2 1111.9 1241.2 1116.8 1242.3 1119.3 1243.3 1121 1244.3 1120.1 1245.3 1120.3 1246.3 1118 1247.3 1119.3 1248.3 1118.1 1249.4 1118.1 1250.4 1122.2 1251.4 1119 1252.4 1120.6 1253.4 1121.3 1255.4 1125.2 1257.5 1124.2 1258.5 1125.5 1259.5 1123.8 1260.5 1123.2 1261.5 1125.6 1262.5 1125.3 1263.5 1123.9 1264.6 1126.5 1265.6 1125 1266.6 1127.1 1267.6 1124.4 1269.6 1126.8 1270.6 1126 1271.6 1124 1272.7 1128.1 1273.7 1128.4 1274.7 1125.5 1275.7 1125.5 1276.7 1127.1 1277.7 1126.3 1278.7 1127.2 1279.7 1126.8 1280.8 1127.6 1282.8 1128 1283.8 1129 1285.8 1128 1286.8 1129 1287.9 1130.8 1289.9 1126 1293.9 1132.5 1294.9 1131.6 1296 1132.3 1297 1131.3 1298 1133.6 1299 1131.9 1300 1132.5 1301 1131.8 1302 1132.4 1303 1131.9 1304.1 1135.3 1305.1 1133.4 1307.1 1130.6" fill="none" stroke="#f5393c" stroke-width="1.1" stroke-linejoin="round"/>
<rect x="1082.1" y="918.1" width="233.2" height="235.4" fill="none" stroke="#7a7a7a" stroke-width="1.4"/>
<line x1="1075.1" y1="1144.4" x2="1082.1" y2="1144.4" stroke="#7a7a7a" stroke-width="1.3"/>
<line x1="1075.1" y1="1100.8" x2="1082.1" y2="1100.8" stroke="#7a7a7a" stroke-width="1.3"/>
<line x1="1075.1" y1="1057.1" x2="1082.1" y2="1057.1" stroke="#7a7a7a" stroke-width="1.3"/>
<line x1="1075.1" y1="1013.5" x2="1082.1" y2="1013.5" stroke="#7a7a7a" stroke-width="1.3"/>
<line x1="1075.1" y1="969.8" x2="1082.1" y2="969.8" stroke="#7a7a7a" stroke-width="1.3"/>
<line x1="1075.1" y1="926.2" x2="1082.1" y2="926.2" stroke="#7a7a7a" stroke-width="1.3"/>
<line x1="1090.3" y1="1153.5" x2="1090.3" y2="1161.5" stroke="#7a7a7a" stroke-width="1.3"/>
<line x1="1198.7" y1="1153.5" x2="1198.7" y2="1161.5" stroke="#7a7a7a" stroke-width="1.3"/>
<line x1="1307.1" y1="1153.5" x2="1307.1" y2="1161.5" stroke="#7a7a7a" stroke-width="1.3"/>
<path d="M1335.4 1136 1336.4 1135.7 1337.4 1134 1339.5 1138.3 1340.5 1136 1342.5 1132.5 1343.5 1131.9 1344.5 1137.1 1345.5 1136.4 1347.6 1132.7 1348.6 1133.9 1349.6 1134.4 1350.6 1133.7 1351.6 1134.6 1352.6 1133.1 1353.6 1130.7 1354.7 1131.2 1355.7 1133.2 1356.7 1132.9 1357.7 1127.1 1358.7 1125.9 1359.7 1128 1360.7 1128 1361.8 1126.5 1362.8 1126.2 1363.8 1125.5 1364.8 1125.4 1366.8 1133.1 1367.8 1129.5 1368.8 1131.1 1369.9 1133.5 1370.9 1129.5 1371.9 1127.9 1372.9 1131.5 1373.9 1130.5 1374.9 1129.8 1375.9 1131.1 1377 1131.4 1378 1133.2 1379 1133.6 1380 1133.2 1381 1132.3 1382 1133.1 1383 1135.1 1384.1 1134.7 1385.1 1133 1386.1 1133.1 1387.1 1133.8 1388.1 1132.9 1389.1 1133.6 1390.1 1130.6 1391.1 1132.1 1392.2 1128.3 1394.2 1135.3 1395.2 1132.6 1396.2 1134.2 1397.2 1134.7 1398.2 1133.6 1399.3 1130.7 1401.3 1135.8 1402.3 1136.7 1404.3 1133.5 1405.3 1133.4 1406.3 1132.3 1407.4 1132.7 1408.4 1132.4 1409.4 1135 1410.4 1129.2 1411.4 1132.4 1415.5 1123.8 1416.5 1123 1417.5 1120.8 1418.5 1122.9 1419.5 1117.8 1420.5 1117.9 1421.6 1114.7 1422.6 1112.8 1425.6 1095 1426.6 1094.1 1428.6 1080.4 1429.7 1075.7 1430.7 1067.7 1431.7 1065.8 1432.7 1057.3 1433.7 1055.7 1434.7 1052.6 1435.7 1043.3 1436.8 1041.3 1437.8 1037.6 1438.8 1039.8 1441.8 1056.3 1446.9 1019.9 1447.9 1010.7 1449.9 1000.6 1450.9 999.9 1452 1001.1 1453 1006.9 1456 1019.5 1457 1022.1 1458 1026.8 1459.1 1033.3 1461.1 1042 1462.1 1044.2 1463.1 1045.3 1464.1 1052.6 1465.1 1057 1466.1 1065.5 1468.2 1073.2 1469.2 1080 1471.2 1089 1472.2 1098.7 1474.3 1104.8 1475.3 1106 1476.3 1110.6 1477.3 1112.7 1478.3 1112.2 1482.4 1119.4 1483.4 1115.2 1484.4 1114.8 1485.4 1116 1487.4 1122.4 1488.4 1123.6 1489.5 1122.7 1490.5 1123.6 1491.5 1121.9 1492.5 1124.6 1493.5 1124.1 1494.5 1122.3 1495.5 1126.3 1496.6 1128.6 1497.6 1127.7 1498.6 1124.1 1499.6 1125.3 1500.6 1128.7 1501.6 1126.7 1502.6 1127.4 1503.6 1125.4 1504.7 1127.6 1505.7 1128.8 1506.7 1129 1508.7 1126 1509.7 1129.8 1510.7 1127.9 1511.8 1130.9 1512.8 1130.3 1513.8 1131.9 1514.8 1130.3 1515.8 1132.5 1516.8 1128.2 1517.8 1129.7 1518.9 1132.7 1519.9 1132.7 1520.9 1133.6 1521.9 1130.4 1522.9 1131.7 1523.9 1130.6 1524.9 1134.2 1525.9 1131.1 1527 1131.4 1528 1128.7 1529 1130.6 1530 1130.2 1531 1129.2 1532 1130.2 1533 1133.3 1534.1 1131.2 1535.1 1130.9 1536.1 1132.3 1537.1 1135.6 1538.1 1133.5 1539.1 1133.5 1540.1 1131.9 1541.2 1133.7 1542.2 1133.8 1543.2 1133.2 1544.2 1133 1545.2 1134.2 1546.2 1136.9 1547.2 1136.4 1548.2 1133 1549.3 1133 1550.3 1133.8 1551.3 1131.4 1552.3 1135.1" fill="none" stroke="#3d9af0" stroke-width="1.1" stroke-linejoin="round"/>
<path d="M1335.4 1136.5 1336.4 1137.1 1337.4 1135.6 1338.4 1136.3 1339.5 1134.2 1340.5 1130.3 1341.5 1132.9 1342.5 1133.3 1343.5 1135.8 1344.5 1135.8 1345.5 1133.2 1346.5 1135.5 1347.6 1135.1 1348.6 1132.5 1349.6 1132.8 1350.6 1131.1 1351.6 1132.4 1352.6 1130.2 1353.6 1134.4 1354.7 1132.6 1355.7 1132 1356.7 1129.4 1357.7 1130.6 1358.7 1126.9 1359.7 1128.5 1360.7 1125.6 1361.8 1126.7 1362.8 1125.4 1363.8 1125.7 1364.8 1128.8 1366.8 1127.3 1367.8 1128.1 1368.8 1126.5 1369.9 1126.9 1371.9 1133.6 1373.9 1128.4 1374.9 1131.3 1375.9 1132.4 1377 1132.3 1378 1130.6 1379 1130.1 1380 1134.9 1381 1131.8 1383 1134.9 1384.1 1131.2 1385.1 1132.8 1386.1 1133.6 1387.1 1133.1 1388.1 1134.1 1389.1 1132 1390.1 1133 1391.1 1129.2 1393.2 1133.3 1394.2 1133.5 1395.2 1134.5 1396.2 1132 1397.2 1132.2 1398.2 1136 1399.3 1133.1 1400.3 1131.4 1401.3 1131 1402.3 1132.9 1403.3 1133.1 1405.3 1129.5 1407.4 1129.7 1409.4 1131.4 1410.4 1131.8 1411.4 1128.4 1412.4 1127.7 1413.4 1124.6 1414.5 1120.1 1415.5 1124.2 1416.5 1120 1417.5 1121.4 1419.5 1118.6 1421.6 1113.4 1422.6 1110 1423.6 1102.6 1424.6 1100 1425.6 1092.9 1427.6 1084.8 1428.6 1078.3 1429.7 1074.2 1431.7 1056.2 1432.7 1052 1433.7 1046.2 1434.7 1035.5 1436.8 1019.9 1437.8 1021.3 1440.8 1042.7 1441.8 1053 1442.8 1041.3 1445.9 1013.3 1446.9 1012.1 1447.9 1006.5 1450.9 981.6 1452 978.9 1453 977.2 1454 985.9 1455 991.5 1457 1008.2 1459.1 1013.4 1461.1 1026 1462.1 1028.8 1463.1 1039.2 1464.1 1040.1 1465.1 1044.7 1466.1 1053.2 1468.2 1062.8 1470.2 1079.3 1471.2 1083.8 1472.2 1091.5 1473.2 1094.2 1474.3 1099.4 1475.3 1101.1 1476.3 1102.1 1477.3 1105.3 1478.3 1109.7 1479.3 1109.6 1481.4 1108.1 1482.4 1110.5 1483.4 1110.3 1484.4 1114.8 1485.4 1114.4 1486.4 1120.4 1487.4 1117.7 1488.4 1120.1 1489.5 1119.3 1490.5 1121.4 1491.5 1122.4 1493.5 1119.8 1494.5 1120.4 1495.5 1119 1496.6 1123.2 1497.6 1123.7 1498.6 1125 1500.6 1122.3 1501.6 1122 1503.6 1128.7 1505.7 1126.4 1506.7 1126.1 1507.7 1125 1508.7 1125.1 1509.7 1128.8 1510.7 1130.7 1511.8 1131.5 1513.8 1125.3 1514.8 1127.6 1515.8 1126.8 1516.8 1130.7 1518.9 1130.2 1519.9 1131.3 1520.9 1130.6 1521.9 1129.4 1522.9 1129.7 1523.9 1128.8 1525.9 1129.9 1527 1132.5 1528 1132 1529 1131.1 1530 1129.1 1531 1131.4 1532 1132.4 1533 1132.5 1534.1 1130.3 1536.1 1134.1 1537.1 1134.8 1538.1 1134.2 1539.1 1131.3 1540.1 1133.9 1541.2 1130.6 1542.2 1129.2 1543.2 1132.3 1544.2 1130.7 1545.2 1129.9 1546.2 1134.6 1547.2 1132.8 1548.2 1128.2 1549.3 1131.8 1550.3 1132 1551.3 1131.3 1552.3 1134.3" fill="none" stroke="#f5393c" stroke-width="1.1" stroke-linejoin="round"/>
<rect x="1327.3" y="918.1" width="233.7" height="235.4" fill="none" stroke="#7a7a7a" stroke-width="1.4"/>
<line x1="1320.3" y1="1144.4" x2="1327.3" y2="1144.4" stroke="#7a7a7a" stroke-width="1.3"/>
<line x1="1320.3" y1="1100.8" x2="1327.3" y2="1100.8" stroke="#7a7a7a" stroke-width="1.3"/>
<line x1="1320.3" y1="1057.1" x2="1327.3" y2="1057.1" stroke="#7a7a7a" stroke-width="1.3"/>
<line x1="1320.3" y1="1013.5" x2="1327.3" y2="1013.5" stroke="#7a7a7a" stroke-width="1.3"/>
<line x1="1320.3" y1="969.8" x2="1327.3" y2="969.8" stroke="#7a7a7a" stroke-width="1.3"/>
<line x1="1320.3" y1="926.2" x2="1327.3" y2="926.2" stroke="#7a7a7a" stroke-width="1.3"/>
<line x1="1335.4" y1="1153.5" x2="1335.4" y2="1161.5" stroke="#7a7a7a" stroke-width="1.3"/>
<line x1="1444.2" y1="1153.5" x2="1444.2" y2="1161.5" stroke="#7a7a7a" stroke-width="1.3"/>
<line x1="1552.3" y1="1153.5" x2="1552.3" y2="1161.5" stroke="#7a7a7a" stroke-width="1.3"/>
<path d="M846.2 1328.9 847.2 1326.9 848.2 1328 849.2 1327.6 850.2 1328.1 851.3 1325.5 852.3 1328.1 853.3 1327.6 854.3 1327.4 855.3 1325.1 857.3 1328.7 858.3 1328.4 859.3 1328.8 860.3 1328.8 861.4 1328.2 862.4 1329 863.4 1327.4 864.4 1329.4 865.4 1327.7 866.4 1326.6 867.4 1326.4 868.4 1325.3 869.4 1326.7 870.4 1326.4 871.5 1327.6 872.5 1326.1 873.5 1329.8 874.5 1327.9 875.5 1328.2 876.5 1326.9 877.5 1328.5 879.5 1327 880.5 1328 882.6 1326.1 883.6 1326.9 884.6 1327 885.6 1325.9 886.6 1324 887.6 1326 888.6 1325 889.6 1327.6 890.7 1326.6 891.7 1324.8 892.7 1323.8 893.7 1324.5 894.7 1324.3 895.7 1325.8 896.7 1325.1 897.7 1323 898.7 1323.2 900.8 1324.1 901.8 1320.2 902.8 1319.4 903.8 1320.5 904.8 1319.6 905.8 1320.3 906.8 1317.8 907.8 1317.5 908.8 1317.8 909.8 1318.9 910.9 1317.3 911.9 1316.6 912.9 1313.6 913.9 1313.7 914.9 1311 916.9 1311.8 917.9 1309 918.9 1308.2 920 1309.1 921 1310.4 922 1307.2 923 1306.1 924 1306.1 925 1307.3 926 1307.7 927 1307.6 928 1307.2 929 1305.3 930.1 1302.3 931.1 1301.4 932.1 1302.7 933.1 1302.6 934.1 1300.6 935.1 1300.2 936.1 1299.4 937.1 1300 938.1 1299.7 939.1 1297.7 940.2 1299 941.2 1297.4 942.2 1299.2 943.2 1299.3 944.2 1300.5 945.2 1301.2 946.2 1303.2 947.2 1304 949.2 1311.5 950.3 1313.8 951.3 1314.7 952.3 1319.4 953.3 1322.3 954.3 1324.3 955.3 1324.7 956.3 1327 957.3 1326.8 959.4 1323.2 960.4 1322.9 961.4 1320.9 962.4 1320.3 963.4 1317 964.4 1314.7 966.4 1311.2 967.4 1310.8 968.4 1308.1 969.5 1308.7 970.5 1308.8 971.5 1307.1 972.5 1306.1 973.5 1305.7 974.5 1304.3 975.5 1303.6 976.5 1304 977.5 1303.7 980.6 1301 981.6 1298.2 982.6 1296.8 983.6 1299.7 984.6 1297.9 985.6 1299.4 986.6 1300.1 987.6 1299.4 988.6 1299.8 989.7 1301.7 990.7 1300.8 991.7 1301.4 992.7 1303.1 993.7 1302.1 994.7 1303.1 995.7 1304.6 996.7 1305.1 997.7 1304.6 998.8 1305.1 999.8 1303.5 1000.8 1305.8 1001.8 1307.1 1002.8 1306.2 1003.8 1308.2 1005.8 1309.2 1006.8 1309.1 1007.8 1309.5 1008.9 1307.9 1009.9 1310.4 1010.9 1310.7 1012.9 1309.6 1013.9 1312.6 1014.9 1313.5 1015.9 1312.2 1016.9 1314.1 1017.9 1314.9 1019 1315.1 1020 1314.3 1021 1315.6 1022 1318.8 1023 1315.9 1024 1315.6 1026 1318.1 1027 1317.8 1028.1 1320.4 1029.1 1317.1 1030.1 1319.2 1031.1 1320 1033.1 1317.7 1034.1 1320.5 1035.1 1320.5 1036.1 1321.6 1037.1 1321.6 1038.2 1320.1 1039.2 1319.2 1040.2 1321.7 1041.2 1322.7 1043.2 1323 1045.2 1324.5 1046.2 1325.7 1047.2 1325.5 1048.3 1324.7 1049.3 1322.6 1050.3 1325.5 1051.3 1324 1052.3 1326 1053.3 1326.6 1054.3 1325.7 1055.3 1325.5 1056.3 1327.8 1057.3 1328.4 1058.4 1327.7 1059.4 1327.8 1060.4 1328.5 1061.4 1328.6 1062.4 1329.1" fill="none" stroke="#3d9af0" stroke-width="1.1" stroke-linejoin="round"/>
<path d="M846.2 1316.9 848.2 1319.1 849.2 1320.9 850.2 1317.4 851.3 1315 852.3 1315 853.3 1317.4 854.3 1318.7 855.3 1317.7 856.3 1320.3 858.3 1317.3 859.3 1317.2 860.3 1317.6 861.4 1319.8 862.4 1320.1 863.4 1317.5 864.4 1316.5 865.4 1317.9 866.4 1318.7 867.4 1316.9 868.4 1315.8 869.4 1317.1 870.4 1317.8 871.5 1314.9 872.5 1315.5 873.5 1317 875.5 1317.5 876.5 1315.4 877.5 1317.4 878.5 1318.1 880.5 1314.4 881.6 1319.5 882.6 1317.8 883.6 1314.8 887.6 1315 888.6 1314 889.6 1313.9 891.7 1315.5 892.7 1315.1 893.7 1315.4 894.7 1313.1 895.7 1312.9 896.7 1311.7 897.7 1311 898.7 1312.2 899.7 1311.7 900.8 1311.8 901.8 1310.4 902.8 1311.1 903.8 1309.2 904.8 1308.4 905.8 1306.7 906.8 1306.2 907.8 1306.2 908.8 1302.8 910.9 1303.3 911.9 1301.1 912.9 1301.6 913.9 1300.9 914.9 1297.6 915.9 1297.3 916.9 1298 918.9 1293.8 920 1293.7 921 1292.7 922 1292.2 924 1288.1 926 1288.2 927 1287.2 928 1285.4 929 1284.5 930.1 1282.7 933.1 1279.5 934.1 1277.6 935.1 1277.1 936.1 1280.6 937.1 1278.3 938.1 1274.8 939.1 1272.7 940.2 1271.7 941.2 1272.6 942.2 1272.3 943.2 1273.4 944.2 1272.4 945.2 1274.8 946.2 1280 949.2 1291.6 951.3 1302.9 953.3 1307.9 954.3 1313.2 956.3 1315.1 957.3 1315.2 958.3 1313.2 959.4 1312.4 961.4 1309.3 962.4 1306.3 963.4 1301.3 964.4 1299 965.4 1294.7 967.4 1295.5 968.4 1292.2 969.5 1291.9 970.5 1290.5 971.5 1289.6 973.5 1289.2 974.5 1286.4 975.5 1286.7 976.5 1286.5 977.5 1287 978.5 1284.4 979.6 1284 980.6 1287.1 981.6 1286.6 983.6 1283 984.6 1282.1 985.6 1282.8 986.6 1281.5 987.6 1282.4 988.6 1285.1 989.7 1284.3 992.7 1287.4 993.7 1286.8 995.7 1290.4 996.7 1288.3 998.8 1289.8 999.8 1291.9 1000.8 1292.2 1001.8 1292.2 1002.8 1291.1 1003.8 1291.5 1004.8 1292.5 1005.8 1290.1 1006.8 1294.3 1007.8 1296.3 1008.9 1294.4 1009.9 1296.8 1010.9 1297.1 1011.9 1296.3 1012.9 1298.7 1014.9 1297.9 1015.9 1297.8 1016.9 1298 1017.9 1299.9 1019 1299.6 1020 1302.9 1024 1302.5 1025 1301.9 1026 1302.7 1027 1302.8 1028.1 1304.4 1029.1 1306.9 1030.1 1303.7 1031.1 1305 1032.1 1307.2 1033.1 1308.1 1034.1 1307.4 1035.1 1308 1036.1 1307.3 1037.1 1306.9 1038.2 1308.3 1039.2 1307.7 1040.2 1308.1 1041.2 1310.3 1042.2 1310.8 1044.2 1313.1 1045.2 1313.9 1046.2 1315.3 1047.2 1314.7 1048.3 1315 1049.3 1314.2 1050.3 1314.4 1051.3 1316.1 1052.3 1317.3 1053.3 1317.2 1054.3 1317.9 1055.3 1317.9 1056.3 1316.3 1057.3 1317.1 1058.4 1318.4 1059.4 1318.6 1061.4 1321.9 1062.4 1322.2" fill="none" stroke="#f5393c" stroke-width="1.1" stroke-linejoin="round"/>
<rect x="837.4" y="1166.3" width="233.4" height="235.9" fill="none" stroke="#7a7a7a" stroke-width="1.4"/>
<line x1="830.4" y1="1393.1" x2="837.4" y2="1393.1" stroke="#7a7a7a" stroke-width="1.3"/>
<text x="820.5" y="1393.1" font-size="22.5" text-anchor="middle" transform="rotate(-90 820.5 1393.1)">0</text>
<line x1="830.4" y1="1349.4" x2="837.4" y2="1349.4" stroke="#7a7a7a" stroke-width="1.3"/>
<text x="820.5" y="1349.4" font-size="22.5" text-anchor="middle" transform="rotate(-90 820.5 1349.4)">1</text>
<line x1="830.4" y1="1305.7" x2="837.4" y2="1305.7" stroke="#7a7a7a" stroke-width="1.3"/>
<text x="820.5" y="1305.7" font-size="22.5" text-anchor="middle" transform="rotate(-90 820.5 1305.7)">2</text>
<line x1="830.4" y1="1262" x2="837.4" y2="1262" stroke="#7a7a7a" stroke-width="1.3"/>
<text x="820.5" y="1262" font-size="22.5" text-anchor="middle" transform="rotate(-90 820.5 1262)">3</text>
<line x1="830.4" y1="1218.3" x2="837.4" y2="1218.3" stroke="#7a7a7a" stroke-width="1.3"/>
<text x="820.5" y="1218.3" font-size="22.5" text-anchor="middle" transform="rotate(-90 820.5 1218.3)">4</text>
<line x1="830.4" y1="1174.6" x2="837.4" y2="1174.6" stroke="#7a7a7a" stroke-width="1.3"/>
<text x="820.5" y="1174.6" font-size="22.5" text-anchor="middle" transform="rotate(-90 820.5 1174.6)">5</text>
<line x1="846.2" y1="1402.2" x2="846.2" y2="1410.2" stroke="#7a7a7a" stroke-width="1.3"/>
<line x1="954.4" y1="1402.2" x2="954.4" y2="1410.2" stroke="#7a7a7a" stroke-width="1.3"/>
<line x1="1062.4" y1="1402.2" x2="1062.4" y2="1410.2" stroke="#7a7a7a" stroke-width="1.3"/>
<text x="842.7" y="1432" font-size="22" text-anchor="middle">-5</text>
<text x="953.4" y="1432" font-size="22" text-anchor="middle">TSS</text>
<text x="1061.9" y="1432" font-size="22" text-anchor="middle">5</text>
<path d="M1090.3 1347.2 1091.3 1342.8 1092.3 1346.8 1093.3 1336.5 1094.4 1333.7 1095.4 1340.6 1096.4 1345 1097.4 1343 1099.4 1348.6 1100.4 1347 1102.5 1338 1103.5 1341.5 1105.5 1358.3 1107.5 1348.7 1108.5 1340.2 1110.6 1354.9 1111.6 1338.8 1112.6 1337.3 1114.6 1355.3 1116.6 1345.8 1117.7 1345.9 1118.7 1352.5 1119.7 1350.6 1120.7 1340 1121.7 1354.9 1122.7 1340.9 1123.7 1351 1124.7 1340.4 1125.8 1342.7 1127.8 1344.9 1128.8 1337.2 1131.8 1357.4 1132.8 1347.5 1133.9 1347.1 1134.9 1352.7 1135.9 1356.3 1136.9 1349.4 1137.9 1347.6 1138.9 1348.8 1139.9 1338.6 1141 1345 1142 1359 1143 1354 1144 1336.3 1145 1343 1146 1344.7 1147 1351.8 1148 1350.5 1149.1 1352.3 1150.1 1358.8 1151.1 1360.5 1152.1 1353.2 1153.1 1351.8 1154.1 1355.2 1155.1 1351.1 1156.2 1350.7 1157.2 1335.6 1158.2 1349.6 1159.2 1332.7 1160.2 1344.3 1161.2 1345.9 1162.2 1348.2 1164.3 1343.1 1165.3 1347.4 1166.3 1348 1168.3 1338.4 1169.3 1329.5 1170.3 1323.8 1171.3 1335.9 1172.4 1330 1173.4 1329.3 1174.4 1330.5 1176.4 1328.3 1178.4 1319.4 1179.5 1302.2 1180.5 1297.6 1181.5 1306.7 1182.5 1301.8 1183.5 1318.3 1184.5 1302.9 1185.5 1311.8 1186.5 1308.5 1187.6 1311 1189.6 1296.4 1190.6 1300.9 1191.6 1292.5 1192.6 1287.9 1193.6 1293.7 1196.7 1320.2 1197.7 1326.5 1199.7 1336 1201.7 1328.5 1202.8 1316.1 1203.8 1320.6 1204.8 1317.7 1205.8 1326.2 1206.8 1323.7 1207.8 1319.2 1208.8 1316.9 1209.8 1312.4 1210.9 1320.3 1211.9 1308.2 1212.9 1305.3 1213.9 1309.9 1214.9 1311.5 1215.9 1303.8 1216.9 1305.2 1217.9 1312.3 1219 1303.1 1220 1314 1221 1309.1 1222 1298.3 1224 1314.7 1225 1303 1226.1 1318.4 1227.1 1308.3 1228.1 1309.2 1229.1 1297.8 1231.1 1304 1232.1 1310.2 1233.1 1309.8 1234.2 1319.8 1235.2 1319.4 1236.2 1309.9 1237.2 1309 1238.2 1322.6 1241.2 1305.8 1242.3 1312.9 1243.3 1314.6 1244.3 1310.3 1245.3 1310.8 1246.3 1317.2 1247.3 1312.4 1248.3 1309 1249.4 1310.7 1251.4 1325.8 1252.4 1321.5 1253.4 1312.5 1254.4 1316.8 1255.4 1312.5 1256.4 1315.9 1257.5 1317.1 1258.5 1330.6 1259.5 1331.2 1260.5 1334.9 1262.5 1319.2 1263.5 1329.4 1264.6 1326.2 1265.6 1325.5 1266.6 1317.4 1267.6 1320.4 1268.6 1309.9 1269.6 1314.7 1270.6 1313.9 1271.6 1321 1272.7 1315.2 1273.7 1333.5 1274.7 1333.6 1275.7 1323.2 1276.7 1323.3 1277.7 1318.3 1278.7 1322.9 1279.7 1323.2 1280.8 1332.9 1281.8 1321.4 1282.8 1320 1283.8 1319.8 1284.8 1325.5 1285.8 1326 1286.8 1330.3 1287.9 1332 1288.9 1323 1289.9 1317.8 1292.9 1345.2 1293.9 1338.7 1294.9 1327.2 1296 1321.2 1297 1321 1298 1328.9 1299 1323.3 1300 1315.5 1301 1318.4 1302 1317.8 1303 1321.9 1304.1 1329.4 1306.1 1314.6 1307.1 1322" fill="none" stroke="#3d9af0" stroke-width="1.1" stroke-linejoin="round"/>
<path d="M1090.3 1332 1091.3 1348.6 1092.3 1342.4 1093.3 1331.5 1095.4 1342.5 1096.4 1338.2 1097.4 1339.3 1098.4 1342.9 1099.4 1343.4 1100.4 1336.9 1101.4 1343.1 1102.5 1354.8 1103.5 1341.7 1105.5 1341.8 1106.5 1339 1107.5 1341.9 1108.5 1337.6 1109.5 1335.9 1110.6 1343.7 1111.6 1341.8 1112.6 1336.4 1113.6 1335.3 1114.6 1337.9 1115.6 1338.4 1116.6 1340.5 1117.7 1346.2 1118.7 1338.4 1119.7 1336.3 1120.7 1338.6 1121.7 1337.5 1122.7 1335.2 1123.7 1331 1124.7 1344.7 1125.8 1338.6 1126.8 1339.8 1127.8 1327.2 1128.8 1335.9 1129.8 1341.6 1130.8 1335.8 1131.8 1343.4 1132.8 1342 1133.9 1343.3 1134.9 1331.6 1137.9 1340.1 1138.9 1345.3 1139.9 1337.6 1141 1339.2 1142 1345.4 1143 1327.6 1144 1335.1 1145 1333.7 1146 1319.2 1147 1320.4 1148 1322.9 1149.1 1312.6 1150.1 1311 1151.1 1316.4 1152.1 1310.8 1153.1 1309.8 1155.1 1293.4 1156.2 1304.1 1157.2 1302.5 1158.2 1299.5 1159.2 1299.7 1160.2 1287.3 1161.2 1278.6 1163.2 1295.1 1164.3 1288.7 1165.3 1275.8 1166.3 1278.2 1167.3 1282.1 1168.3 1284.5 1169.3 1268.3 1170.3 1264.4 1171.3 1266.2 1172.4 1270.4 1173.4 1263 1174.4 1266.4 1175.4 1268.5 1176.4 1256.2 1177.4 1247.1 1178.4 1251.9 1179.5 1261.2 1180.5 1238.3 1181.5 1244.6 1182.5 1241.5 1183.5 1249.6 1184.5 1238.5 1186.5 1245.6 1187.6 1247.5 1188.6 1238.3 1189.6 1234.7 1190.6 1240.2 1191.6 1233 1192.6 1253.1 1193.6 1267.1 1194.6 1274.5 1195.7 1295.7 1197.7 1320.3 1198.7 1318.6 1199.7 1319 1200.7 1321.3 1201.7 1335.2 1202.8 1330.3 1203.8 1319.9 1205.8 1323.5 1206.8 1323.5 1207.8 1306.6 1208.8 1314 1209.8 1310.3 1210.9 1319.5 1211.9 1317.1 1212.9 1319.1 1214.9 1290 1215.9 1292.9 1217.9 1302.2 1221 1275 1222 1281.4 1223 1282 1224 1268.4 1225 1268 1226.1 1268.2 1227.1 1257.3 1228.1 1255.8 1229.1 1253.3 1230.1 1267.7 1231.1 1267.3 1232.1 1253.7 1233.1 1260.2 1234.2 1273.2 1235.2 1262.3 1236.2 1257.7 1237.2 1259.5 1239.2 1280.7 1241.2 1268 1242.3 1266.9 1243.3 1273.6 1244.3 1269.2 1245.3 1266.7 1246.3 1280.7 1247.3 1277 1248.3 1281.9 1249.4 1266.7 1252.4 1284.4 1253.4 1282.7 1254.4 1274.4 1255.4 1276.8 1256.4 1296.4 1257.5 1280.3 1258.5 1268.8 1259.5 1287.8 1260.5 1300.1 1261.5 1298.4 1262.5 1286.9 1263.5 1278.8 1264.6 1277.8 1265.6 1286.4 1267.6 1282.1 1268.6 1288.4 1269.6 1282.5 1270.6 1290.3 1271.6 1295.7 1272.7 1295.4 1273.7 1286 1274.7 1290.3 1275.7 1286.1 1276.7 1302.8 1277.7 1295.2 1278.7 1291 1279.7 1292.7 1280.8 1298.8 1281.8 1301.2 1282.8 1283.9 1283.8 1281.6 1284.8 1285.1 1285.8 1299.5 1286.8 1296.8 1287.9 1301.5 1288.9 1300 1289.9 1294.1 1290.9 1297.5 1291.9 1305.6 1292.9 1294.7 1293.9 1303.3 1294.9 1298.7 1296 1298.4 1297 1303.1 1298 1296.8 1299 1309.4 1300 1315.7 1301 1307.2 1302 1314.8 1303 1298.4 1304.1 1300.5 1305.1 1311.4 1306.1 1315.1 1307.1 1310.3" fill="none" stroke="#f5393c" stroke-width="1.1" stroke-linejoin="round"/>
<rect x="1082.1" y="1166.3" width="233.2" height="235.9" fill="none" stroke="#7a7a7a" stroke-width="1.4"/>
<line x1="1075.1" y1="1393.1" x2="1082.1" y2="1393.1" stroke="#7a7a7a" stroke-width="1.3"/>
<line x1="1075.1" y1="1349.4" x2="1082.1" y2="1349.4" stroke="#7a7a7a" stroke-width="1.3"/>
<line x1="1075.1" y1="1305.7" x2="1082.1" y2="1305.7" stroke="#7a7a7a" stroke-width="1.3"/>
<line x1="1075.1" y1="1262" x2="1082.1" y2="1262" stroke="#7a7a7a" stroke-width="1.3"/>
<line x1="1075.1" y1="1218.3" x2="1082.1" y2="1218.3" stroke="#7a7a7a" stroke-width="1.3"/>
<line x1="1075.1" y1="1174.6" x2="1082.1" y2="1174.6" stroke="#7a7a7a" stroke-width="1.3"/>
<line x1="1090.3" y1="1402.2" x2="1090.3" y2="1410.2" stroke="#7a7a7a" stroke-width="1.3"/>
<line x1="1198.7" y1="1402.2" x2="1198.7" y2="1410.2" stroke="#7a7a7a" stroke-width="1.3"/>
<line x1="1307.1" y1="1402.2" x2="1307.1" y2="1410.2" stroke="#7a7a7a" stroke-width="1.3"/>
<text x="1086.8" y="1432" font-size="22" text-anchor="middle">-5</text>
<text x="1197.7" y="1432" font-size="22" text-anchor="middle">TSS</text>
<text x="1306.6" y="1432" font-size="22" text-anchor="middle">5</text>
<path d="M1335.4 1320.6 1337.4 1305.6 1338.4 1325.4 1340.5 1295 1341.5 1301.6 1342.5 1315 1343.5 1313.8 1345.5 1289.4 1346.5 1301.5 1347.6 1294.9 1348.6 1310.8 1350.6 1306.1 1351.6 1296.9 1352.6 1298.5 1353.6 1290.8 1354.7 1302.9 1355.7 1306.5 1356.7 1303.1 1357.7 1315 1358.7 1314.4 1359.7 1313.1 1360.7 1310.6 1362.8 1330.3 1363.8 1330.7 1364.8 1320.4 1365.8 1299 1367.8 1306.3 1368.8 1308 1369.9 1310.5 1370.9 1328.2 1371.9 1311.4 1372.9 1314.9 1373.9 1314.9 1375.9 1307.7 1377 1314.9 1378 1329.4 1379 1323.1 1380 1313.9 1381 1315.5 1382 1303.6 1383 1307.5 1384.1 1295.6 1385.1 1321.4 1386.1 1313.9 1387.1 1299.8 1388.1 1309.9 1391.1 1334.4 1392.2 1313.6 1393.2 1317.4 1394.2 1308.8 1395.2 1310.8 1396.2 1307.5 1397.2 1311.3 1398.2 1307.1 1399.3 1304.1 1401.3 1337.4 1402.3 1315.1 1403.3 1302.2 1404.3 1313.6 1405.3 1310.5 1406.3 1295 1407.4 1313.2 1408.4 1304.9 1409.4 1306.9 1410.4 1314.5 1411.4 1317.3 1412.4 1308.7 1413.4 1318 1414.5 1310.1 1415.5 1295.5 1417.5 1296.3 1418.5 1283.8 1419.5 1284.2 1420.5 1292.2 1422.6 1268.7 1423.6 1259.6 1424.6 1280.5 1425.6 1280.1 1426.6 1265.4 1427.6 1259.1 1428.6 1247.5 1429.7 1268.4 1430.7 1257 1431.7 1253.4 1432.7 1251.8 1433.7 1263 1434.7 1271.2 1436.8 1302.5 1437.8 1308.7 1438.8 1328.4 1439.8 1324.3 1440.8 1343.4 1441.8 1355.5 1442.8 1377.1 1443.8 1366.3 1444.9 1346.7 1445.9 1350.8 1446.9 1347.3 1447.9 1365.2 1448.9 1343.5 1449.9 1334.6 1450.9 1344 1452 1331.3 1453 1308.1 1455 1313.8 1456 1304 1457 1302 1458 1283.9 1459.1 1280.6 1460.1 1290.5 1461.1 1304.5 1463.1 1275.5 1464.1 1270.9 1465.1 1268.6 1466.1 1253.9 1467.2 1264.3 1468.2 1256.7 1469.2 1273.6 1470.2 1282.2 1471.2 1259.5 1472.2 1261.4 1473.2 1242.8 1474.3 1245.8 1475.3 1265.4 1476.3 1270.7 1477.3 1273.4 1478.3 1266.9 1479.3 1284.6 1480.3 1265.5 1481.4 1269.2 1482.4 1267.1 1483.4 1262.3 1484.4 1279 1485.4 1284.5 1486.4 1285 1487.4 1274.8 1488.4 1293.5 1489.5 1279.6 1490.5 1273 1491.5 1284.6 1492.5 1286.9 1493.5 1272.5 1494.5 1286.8 1495.5 1288 1496.6 1295.5 1497.6 1275.5 1498.6 1282.5 1499.6 1284.7 1500.6 1298.1 1501.6 1289.5 1502.6 1290 1504.7 1297.5 1505.7 1287.4 1506.7 1310.7 1507.7 1300.4 1508.7 1280.3 1509.7 1285.6 1510.7 1288.3 1511.8 1300.2 1512.8 1304.1 1513.8 1289.5 1514.8 1302.3 1515.8 1307.8 1516.8 1307.5 1517.8 1289.8 1518.9 1304.8 1519.9 1287 1520.9 1301.5 1521.9 1308.8 1522.9 1298.1 1523.9 1298.1 1524.9 1311.7 1525.9 1306.1 1527 1304.9 1528 1310.6 1529 1321.8 1530 1302 1531 1311.7 1532 1301.8 1533 1314.6 1534.1 1317.2 1535.1 1310.3 1537.1 1308.7 1538.1 1315 1539.1 1318.8 1540.1 1303.6 1541.2 1318.8 1542.2 1304.7 1543.2 1300.4 1544.2 1311.6 1545.2 1310.1 1546.2 1311.9 1547.2 1301.9 1548.2 1298.2 1549.3 1303.6 1550.3 1300.8 1551.3 1314 1552.3 1322.6" fill="none" stroke="#3d9af0" stroke-width="1.1" stroke-linejoin="round"/>
<path d="M1335.4 1304 1336.4 1296.5 1337.4 1310.1 1338.4 1285.5 1339.5 1296.4 1340.5 1298 1341.5 1284.9 1342.5 1285.2 1343.5 1292.4 1344.5 1281.9 1345.5 1288.7 1346.5 1271.8 1347.6 1277.9 1349.6 1284.8 1350.6 1276.3 1352.6 1301.1 1353.6 1300.8 1354.7 1264.8 1355.7 1285.2 1357.7 1290.5 1358.7 1290.3 1359.7 1303.2 1360.7 1297.2 1361.8 1287.1 1362.8 1300.1 1363.8 1280.6 1364.8 1285.7 1365.8 1287.2 1366.8 1291 1367.8 1278.4 1368.8 1287.1 1369.9 1301 1370.9 1297.6 1371.9 1270.7 1372.9 1296.1 1373.9 1296.8 1374.9 1273 1375.9 1293.3 1377 1276.6 1378 1294.8 1379 1300.4 1380 1292.2 1381 1305.3 1382 1290.8 1383 1284.3 1384.1 1297.7 1385.1 1293 1386.1 1281.1 1387.1 1293.3 1388.1 1285 1389.1 1289.2 1391.1 1301.5 1392.2 1292.9 1393.2 1287.4 1394.2 1298.2 1395.2 1291.2 1396.2 1294.4 1397.2 1293.1 1398.2 1297.2 1399.3 1287.4 1400.3 1284.5 1401.3 1288.4 1402.3 1305.5 1403.3 1289.1 1404.3 1292.9 1405.3 1302.2 1406.3 1295.6 1407.4 1278 1409.4 1276 1410.4 1292.8 1411.4 1298.5 1412.4 1292.8 1413.4 1282.6 1414.5 1262.6 1415.5 1265.3 1416.5 1278.2 1417.5 1275.2 1418.5 1255.3 1419.5 1263.5 1420.5 1245.6 1421.6 1243.2 1422.6 1244.6 1423.6 1233.3 1424.6 1244.2 1425.6 1245 1426.6 1237.3 1427.6 1223 1428.6 1241.4 1429.7 1238.8 1430.7 1235.1 1431.7 1245.9 1432.7 1238.2 1433.7 1253.6 1434.7 1258.9 1436.8 1294.2 1437.8 1298.5 1438.8 1306.9 1439.8 1343.4 1440.8 1346.5 1441.8 1340.5 1443.8 1370.7 1444.9 1348.4 1445.9 1346.1 1446.9 1334.5 1447.9 1333.9 1448.9 1342.9 1449.9 1346 1453 1320.1 1454 1326 1455 1305.2 1456 1297 1457 1294.1 1459.1 1285.4 1460.1 1277 1461.1 1265.4 1463.1 1255.1 1464.1 1262.2 1466.1 1244.8 1467.2 1246.5 1468.2 1247.5 1469.2 1238.6 1470.2 1222.6 1472.2 1212.8 1473.2 1237.1 1475.3 1222.9 1476.3 1239 1477.3 1242 1478.3 1229.7 1479.3 1227.2 1480.3 1240.6 1482.4 1227.9 1483.4 1227.7 1484.4 1237.3 1485.4 1238.2 1486.4 1238.4 1487.4 1242.8 1489.5 1265.8 1491.5 1247.8 1492.5 1264.9 1493.5 1252.6 1494.5 1266.2 1495.5 1271.7 1496.6 1266.4 1497.6 1256.6 1498.6 1259.1 1499.6 1276.1 1500.6 1258.7 1501.6 1264.4 1502.6 1254.1 1503.6 1272.1 1504.7 1271.7 1506.7 1304.6 1507.7 1289.1 1508.7 1284.4 1509.7 1273.4 1510.7 1275.8 1511.8 1285.7 1512.8 1302.7 1514.8 1286.7 1515.8 1289.2 1516.8 1286.8 1517.8 1293.6 1518.9 1295.9 1519.9 1267.8 1520.9 1299.5 1521.9 1285.3 1522.9 1282.9 1523.9 1301.7 1524.9 1301.3 1525.9 1287.6 1527 1286.8 1528 1282.9 1529 1286.4 1531 1299.8 1532 1266.9 1533 1268.7 1534.1 1278.5 1536.1 1307.9 1537.1 1300.5 1538.1 1286.5 1539.1 1286.1 1540.1 1272.3 1541.2 1295.6 1542.2 1281 1543.2 1294.6 1544.2 1299.1 1545.2 1298.4 1546.2 1296.4 1547.2 1271.1 1548.2 1285.9 1549.3 1292.9 1550.3 1280.4 1551.3 1275.2 1552.3 1277.8" fill="none" stroke="#f5393c" stroke-width="1.1" stroke-linejoin="round"/>
<rect x="1327.3" y="1166.3" width="233.7" height="235.9" fill="none" stroke="#7a7a7a" stroke-width="1.4"/>
<line x1="1320.3" y1="1393.1" x2="1327.3" y2="1393.1" stroke="#7a7a7a" stroke-width="1.3"/>
<line x1="1320.3" y1="1349.4" x2="1327.3" y2="1349.4" stroke="#7a7a7a" stroke-width="1.3"/>
<line x1="1320.3" y1="1305.7" x2="1327.3" y2="1305.7" stroke="#7a7a7a" stroke-width="1.3"/>
<line x1="1320.3" y1="1262" x2="1327.3" y2="1262" stroke="#7a7a7a" stroke-width="1.3"/>
<line x1="1320.3" y1="1218.3" x2="1327.3" y2="1218.3" stroke="#7a7a7a" stroke-width="1.3"/>
<line x1="1320.3" y1="1174.6" x2="1327.3" y2="1174.6" stroke="#7a7a7a" stroke-width="1.3"/>
<line x1="1335.4" y1="1402.2" x2="1335.4" y2="1410.2" stroke="#7a7a7a" stroke-width="1.3"/>
<line x1="1444.2" y1="1402.2" x2="1444.2" y2="1410.2" stroke="#7a7a7a" stroke-width="1.3"/>
<line x1="1552.3" y1="1402.2" x2="1552.3" y2="1410.2" stroke="#7a7a7a" stroke-width="1.3"/>
<text x="1331.9" y="1432" font-size="22" text-anchor="middle">-5</text>
<text x="1443.2" y="1432" font-size="22" text-anchor="middle">TSS</text>
<text x="1551.8" y="1432" font-size="22" text-anchor="middle">5</text>
<text x="780.8" y="788.7" font-size="22" text-anchor="middle" transform="rotate(-90 780.8 788.7)">H3K27ac</text>
<text x="780.8" y="1037" font-size="22" text-anchor="middle" transform="rotate(-90 780.8 1037)">H3K4me3</text>
<text x="780.8" y="1283" font-size="22" text-anchor="middle" transform="rotate(-90 780.8 1283)">H3K4me1</text>
<text x="746.8" y="1037.5" font-size="22" text-anchor="middle" transform="rotate(-90 746.8 1037.5)">ChIP-seq signal (RPKM)</text>
<rect x="1468.3" y="685.6" width="20" height="20.3" fill="#0ea0e6" rx="3"/>
<rect x="1468.3" y="718.7" width="20" height="20" fill="#ff0000" rx="3"/>
<text x="1496.5" y="705.9" font-size="22">NS</text>
<text x="1497" y="739.8" font-size="22">IFNa</text>
<text x="913.5" y="1552.5" font-size="58">e</text>
<text x="1280.5" y="1545.5" font-size="24.5" text-anchor="middle">TOP <tspan font-style="italic">de novo</tspan> motif</text>
<line x1="1044.8" y1="1565" x2="1561.4" y2="1565" stroke="#4a7ebb" stroke-width="3"/>
<line x1="1204.4" y1="1566.5" x2="1204.4" y2="1786" stroke="#d2d2d2" stroke-width="2.8"/>
<line x1="1374" y1="1566.5" x2="1374" y2="1786" stroke="#d2d2d2" stroke-width="2.8"/>
<line x1="1041.7" y1="1739.2" x2="1564.5" y2="1739.2" stroke="#d2d2d2" stroke-width="2.8"/>
<text x="1116.8" y="1602" font-size="22" text-anchor="middle">Ind. gene</text>
<text x="1116.8" y="1630" font-size="22" text-anchor="middle">only</text>
<text x="1289.5" y="1602" font-size="22" text-anchor="middle">Ind. gene &amp;</text>
<text x="1289.5" y="1630" font-size="22" text-anchor="middle">Epromoter</text>
<text x="1471.8" y="1602" font-size="22" text-anchor="middle">Ind. Epromoter</text>
<text x="1471.8" y="1630" font-size="22" text-anchor="middle">only</text>
<text x="1115.3" y="1724.2" font-size="22" text-anchor="middle">IRF1/ISRE</text>
<text x="1290.4" y="1724.2" font-size="22" text-anchor="middle">IRF3/ISRE</text>
<text x="1471.8" y="1724.2" font-size="22" text-anchor="middle">NF1</text>
<text x="1117.4" y="1774.6" font-size="22" text-anchor="middle">1e-31</text>
<text x="1290.6" y="1774.6" font-size="22" text-anchor="middle">1e-41</text>
<text x="1471.8" y="1774.6" font-size="22" text-anchor="middle">1e-9</text>
<text x="939" y="1777.9" font-size="25" textLength="115.5" lengthAdjust="spacingAndGlyphs">Adj. <tspan font-style="italic">P</tspan> val.</text>
<text transform="matrix(0.1514 0 0 0.3039 1055.53 1679.55)" font-size="100" font-weight="bold" fill="#00b400">A</text>
<text transform="matrix(0.1505 0 0 0.1543 1055.29 1690.77)" font-size="100" font-weight="bold" fill="#f5a300">G</text>
<text transform="matrix(0.1485 0 0 0.1993 1065.75 1672.55)" font-size="100" font-weight="bold" fill="#0000e6">C</text>
<text transform="matrix(0.1439 0 0 0.1993 1065.77 1688.00)" font-size="100" font-weight="bold" fill="#f5a300">G</text>
<text transform="matrix(0.1448 0 0 0.0462 1066.00 1691.82)" font-size="100" font-weight="bold" fill="#00b400">A</text>
<text transform="matrix(0.1500 0 0 0.4691 1076.65 1691.36)" font-size="100" font-weight="bold" fill="#dc0000">T</text>
<text transform="matrix(0.1575 0 0 0.4493 1086.19 1690.00)" font-size="100" font-weight="bold" fill="#dc0000">T</text>
<text transform="matrix(0.1382 0 0 0.0225 1086.02 1692.00)" font-size="100" font-weight="bold" fill="#00b400">A</text>
<text transform="matrix(0.1500 0 0 0.3766 1096.65 1685.00)" font-size="100" font-weight="bold" fill="#dc0000">T</text>
<text transform="matrix(0.1350 0 0 0.0540 1096.26 1689.22)" font-size="100" font-weight="bold" fill="#0000e6">C</text>
<text transform="matrix(0.1316 0 0 0.0330 1096.49 1692.00)" font-size="100" font-weight="bold" fill="#00b400">A</text>
<text transform="matrix(0.1350 0 0 0.3922 1106.26 1686.47)" font-size="100" font-weight="bold" fill="#0000e6">C</text>
<text transform="matrix(0.1308 0 0 0.0386 1106.28 1689.97)" font-size="100" font-weight="bold" fill="#f5a300">G</text>
<text transform="matrix(0.1316 0 0 0.0211 1106.49 1691.64)" font-size="100" font-weight="bold" fill="#00b400">A</text>
<text transform="matrix(0.1448 0 0 0.2643 1116.00 1677.27)" font-size="100" font-weight="bold" fill="#00b400">A</text>
<text transform="matrix(0.1650 0 0 0.0793 1116.18 1683.18)" font-size="100" font-weight="bold" fill="#dc0000">T</text>
<text transform="matrix(0.1485 0 0 0.0643 1115.75 1688.58)" font-size="100" font-weight="bold" fill="#0000e6">C</text>
<text transform="matrix(0.1439 0 0 0.0360 1115.77 1691.60)" font-size="100" font-weight="bold" fill="#f5a300">G</text>
<text transform="matrix(0.1418 0 0 0.2057 1126.24 1673.00)" font-size="100" font-weight="bold" fill="#0000e6">C</text>
<text transform="matrix(0.1575 0 0 0.1255 1126.64 1682.27)" font-size="100" font-weight="bold" fill="#dc0000">T</text>
<text transform="matrix(0.1374 0 0 0.1093 1126.25 1690.81)" font-size="100" font-weight="bold" fill="#f5a300">G</text>
<text transform="matrix(0.1575 0 0 0.4162 1136.64 1687.73)" font-size="100" font-weight="bold" fill="#dc0000">T</text>
<text transform="matrix(0.1382 0 0 0.0555 1136.47 1692.00)" font-size="100" font-weight="bold" fill="#00b400">A</text>
<text transform="matrix(0.1650 0 0 0.4294 1146.64 1688.64)" font-size="100" font-weight="bold" fill="#dc0000">T</text>
<text transform="matrix(0.1485 0 0 0.0411 1146.21 1691.96)" font-size="100" font-weight="bold" fill="#0000e6">C</text>
<text transform="matrix(0.1500 0 0 0.4294 1157.11 1688.64)" font-size="100" font-weight="bold" fill="#dc0000">T</text>
<text transform="matrix(0.1350 0 0 0.0450 1156.72 1692.23)" font-size="100" font-weight="bold" fill="#0000e6">C</text>
<text transform="matrix(0.1418 0 0 0.3215 1166.24 1681.07)" font-size="100" font-weight="bold" fill="#0000e6">C</text>
<text transform="matrix(0.1575 0 0 0.1189 1166.64 1690.00)" font-size="100" font-weight="bold" fill="#dc0000">T</text>
<text transform="matrix(0.1382 0 0 0.0264 1166.47 1692.27)" font-size="100" font-weight="bold" fill="#00b400">A</text>
<text transform="matrix(0.1448 0 0 0.1586 1230.55 1669.55)" font-size="100" font-weight="bold" fill="#00b400">A</text>
<text transform="matrix(0.1650 0 0 0.0991 1230.73 1677.27)" font-size="100" font-weight="bold" fill="#dc0000">T</text>
<text transform="matrix(0.1439 0 0 0.1093 1230.32 1685.81)" font-size="100" font-weight="bold" fill="#f5a300">G</text>
<text transform="matrix(0.1485 0 0 0.0836 1230.30 1692.20)" font-size="100" font-weight="bold" fill="#0000e6">C</text>
<text transform="matrix(0.1505 0 0 0.3858 1240.29 1685.56)" font-size="100" font-weight="bold" fill="#f5a300">G</text>
<text transform="matrix(0.1553 0 0 0.0836 1240.27 1692.20)" font-size="100" font-weight="bold" fill="#0000e6">C</text>
<text transform="matrix(0.1500 0 0 0.4228 1251.20 1688.18)" font-size="100" font-weight="bold" fill="#dc0000">T</text>
<text transform="matrix(0.1350 0 0 0.0514 1250.81 1692.23)" font-size="100" font-weight="bold" fill="#0000e6">C</text>
<text transform="matrix(0.1575 0 0 0.4823 1260.74 1692.27)" font-size="100" font-weight="bold" fill="#dc0000">T</text>
<text transform="matrix(0.1575 0 0 0.4823 1270.74 1692.27)" font-size="100" font-weight="bold" fill="#dc0000">T</text>
<text transform="matrix(0.1418 0 0 0.4179 1280.33 1687.81)" font-size="100" font-weight="bold" fill="#0000e6">C</text>
<text transform="matrix(0.1575 0 0 0.0489 1280.74 1692.00)" font-size="100" font-weight="bold" fill="#dc0000">T</text>
<text transform="matrix(0.1439 0 0 0.2636 1290.32 1677.04)" font-size="100" font-weight="bold" fill="#f5a300">G</text>
<text transform="matrix(0.1448 0 0 0.1123 1290.55 1685.91)" font-size="100" font-weight="bold" fill="#00b400">A</text>
<text transform="matrix(0.1485 0 0 0.0836 1290.30 1692.20)" font-size="100" font-weight="bold" fill="#0000e6">C</text>
<text transform="matrix(0.1650 0 0 0.1718 1300.73 1670.45)" font-size="100" font-weight="bold" fill="#dc0000">T</text>
<text transform="matrix(0.1485 0 0 0.1222 1300.30 1679.89)" font-size="100" font-weight="bold" fill="#0000e6">C</text>
<text transform="matrix(0.1439 0 0 0.0707 1300.32 1685.85)" font-size="100" font-weight="bold" fill="#f5a300">G</text>
<text transform="matrix(0.1448 0 0 0.0859 1300.55 1692.27)" font-size="100" font-weight="bold" fill="#00b400">A</text>
<text transform="matrix(0.1500 0 0 0.4823 1311.20 1692.27)" font-size="100" font-weight="bold" fill="#dc0000">T</text>
<text transform="matrix(0.1575 0 0 0.4823 1320.74 1692.27)" font-size="100" font-weight="bold" fill="#dc0000">T</text>
<text transform="matrix(0.1575 0 0 0.4162 1330.74 1687.73)" font-size="100" font-weight="bold" fill="#dc0000">T</text>
<text transform="matrix(0.1418 0 0 0.0579 1330.33 1692.22)" font-size="100" font-weight="bold" fill="#0000e6">C</text>
<text transform="matrix(0.1485 0 0 0.4436 1340.30 1689.60)" font-size="100" font-weight="bold" fill="#0000e6">C</text>
<text transform="matrix(0.1650 0 0 0.0304 1340.73 1692.27)" font-size="100" font-weight="bold" fill="#dc0000">T</text>
<text transform="matrix(0.1777 0 0 0.3766 1411.37 1684.55)" font-size="100" font-weight="bold" fill="#00b400">A</text>
<text transform="matrix(0.1766 0 0 0.1093 1411.09 1692.63)" font-size="100" font-weight="bold" fill="#f5a300">G</text>
<text transform="matrix(0.1950 0 0 0.4955 1423.88 1692.73)" font-size="100" font-weight="bold" fill="#dc0000">T</text>
<text transform="matrix(0.1950 0 0 0.2709 1435.69 1676.82)" font-size="100" font-weight="bold" fill="#dc0000">T</text>
<text transform="matrix(0.1756 0 0 0.1157 1435.19 1685.35)" font-size="100" font-weight="bold" fill="#0000e6">C</text>
<text transform="matrix(0.1711 0 0 0.0925 1435.48 1692.73)" font-size="100" font-weight="bold" fill="#00b400">A</text>
<text transform="matrix(0.2025 0 0 0.4030 1447.50 1686.36)" font-size="100" font-weight="bold" fill="#dc0000">T</text>
<text transform="matrix(0.1766 0 0 0.0836 1447.00 1692.65)" font-size="100" font-weight="bold" fill="#f5a300">G</text>
<text transform="matrix(0.1766 0 0 0.3922 1459.28 1686.01)" font-size="100" font-weight="bold" fill="#f5a300">G</text>
<text transform="matrix(0.1823 0 0 0.0836 1459.25 1692.65)" font-size="100" font-weight="bold" fill="#0000e6">C</text>
<text transform="matrix(0.1756 0 0 0.2186 1471.55 1673.44)" font-size="100" font-weight="bold" fill="#0000e6">C</text>
<text transform="matrix(0.1950 0 0 0.1718 1472.06 1685.91)" font-size="100" font-weight="bold" fill="#dc0000">T</text>
<text transform="matrix(0.1701 0 0 0.0900 1471.58 1692.65)" font-size="100" font-weight="bold" fill="#f5a300">G</text>
<text transform="matrix(0.1823 0 0 0.4822 1483.34 1692.29)" font-size="100" font-weight="bold" fill="#0000e6">C</text>
<text transform="matrix(0.1711 0 0 0.3766 1495.94 1684.55)" font-size="100" font-weight="bold" fill="#00b400">A</text>
<text transform="matrix(0.1756 0 0 0.1093 1495.64 1692.63)" font-size="100" font-weight="bold" fill="#0000e6">C</text>
<text transform="matrix(0.1766 0 0 0.4822 1507.46 1692.29)" font-size="100" font-weight="bold" fill="#f5a300">G</text>
<text transform="matrix(0.1701 0 0 0.3665 1519.76 1683.76)" font-size="100" font-weight="bold" fill="#f5a300">G</text>
<text transform="matrix(0.1950 0 0 0.1189 1520.24 1692.73)" font-size="100" font-weight="bold" fill="#dc0000">T</text>
<text x="-1" y="1913.2" font-size="54">f</text>
<rect x="160.4" y="1943.3" width="206.1" height="9.2" fill="#0099e6"/>
<rect x="160.4" y="1953.5" width="284.5" height="9.2" fill="#00c800"/>
<rect x="160.4" y="1963.7" width="24.9" height="9.2" fill="#d7d700"/>
<text x="81" y="1969.6" font-size="24" textLength="54.1" lengthAdjust="spacingAndGlyphs">IRF3</text>
<rect x="160.4" y="1978.8" width="242" height="9.2" fill="#0099e6"/>
<rect x="160.4" y="1989" width="242" height="9.2" fill="#00c800"/>
<rect x="160.4" y="1999.2" width="14.4" height="9.2" fill="#d7d700"/>
<text x="75.3" y="2005" font-size="24" textLength="58.5" lengthAdjust="spacingAndGlyphs">ISRE</text>
<rect x="160.4" y="2014.2" width="149.3" height="9.2" fill="#0099e6"/>
<rect x="160.4" y="2024.4" width="234.7" height="9.2" fill="#00c800"/>
<rect x="160.4" y="2034.6" width="11" height="9.2" fill="#d7d700"/>
<text x="81" y="2040.5" font-size="24" textLength="54.1" lengthAdjust="spacingAndGlyphs">IRF8</text>
<rect x="160.4" y="2049.7" width="234.7" height="9.2" fill="#0099e6"/>
<rect x="160.4" y="2059.8" width="224.3" height="9.2" fill="#00c800"/>
<rect x="160.4" y="2070.1" width="3.2" height="9.2" fill="#d7d700"/>
<text x="81" y="2075.9" font-size="24" textLength="54.1" lengthAdjust="spacingAndGlyphs">IRF1</text>
<rect x="160.4" y="2085.1" width="234.7" height="9.2" fill="#0099e6"/>
<rect x="160.4" y="2095.3" width="220.4" height="9.2" fill="#00c800"/>
<rect x="160.4" y="2105.5" width="3.2" height="9.2" fill="#d7d700"/>
<text x="81" y="2111.4" font-size="24" textLength="54.1" lengthAdjust="spacingAndGlyphs">IRF2</text>
<rect x="160.4" y="2120.6" width="35.3" height="9.2" fill="#0099e6"/>
<rect x="160.4" y="2130.8" width="145.8" height="9.2" fill="#00c800"/>
<text x="81" y="2146.8" font-size="24" textLength="54.1" lengthAdjust="spacingAndGlyphs">IRF4</text>
<rect x="160.4" y="2156" width="71.2" height="9.2" fill="#0099e6"/>
<rect x="160.4" y="2166.2" width="124.2" height="9.2" fill="#00c800"/>
<rect x="160.4" y="2176.4" width="11" height="9.2" fill="#d7d700"/>
<text x="15.1" y="2182.3" font-size="24" textLength="120" lengthAdjust="spacingAndGlyphs">PU.1:IRF8</text>
<rect x="160.4" y="2191.5" width="21.4" height="9.2" fill="#0099e6"/>
<rect x="160.4" y="2201.7" width="113.7" height="9.2" fill="#00c800"/>
<rect x="160.4" y="2211.9" width="11" height="9.2" fill="#d7d700"/>
<text x="28.2" y="2217.8" font-size="24" textLength="105.6" lengthAdjust="spacingAndGlyphs">PU.1-IRF</text>
<rect x="160.4" y="2226.9" width="42.6" height="9.2" fill="#0099e6"/>
<rect x="160.4" y="2237.1" width="67.4" height="9.2" fill="#00c800"/>
<rect x="160.4" y="2247.3" width="14.4" height="9.2" fill="#d7d700"/>
<text x="45.2" y="2253.2" font-size="24" textLength="88.6" lengthAdjust="spacingAndGlyphs">T1ISRE</text>
<rect x="160.4" y="2262.4" width="85.5" height="9.2" fill="#0099e6"/>
<rect x="160.4" y="2272.6" width="46.5" height="9.2" fill="#00c800"/>
<text x="32" y="2288.7" font-size="24" textLength="101.8" lengthAdjust="spacingAndGlyphs">bZIP:IRF</text>
<rect x="160.4" y="2297.8" width="60.4" height="9.2" fill="#0099e6"/>
<rect x="160.4" y="2308" width="21.4" height="9.2" fill="#00c800"/>
<rect x="160.4" y="2318.2" width="1.7" height="9.2" fill="#d7d700"/>
<text x="45.2" y="2324.1" font-size="24" textLength="89.9" lengthAdjust="spacingAndGlyphs">PRDM1</text>
<rect x="160.4" y="2333.2" width="1.7" height="9.2" fill="#0099e6"/>
<rect x="160.4" y="2343.4" width="11" height="9.2" fill="#00c800"/>
<rect x="160.4" y="2353.7" width="21.4" height="9.2" fill="#d7d700"/>
<text x="81" y="2359.6" font-size="24" textLength="52.8" lengthAdjust="spacingAndGlyphs">MNT</text>
<rect x="160.4" y="2368.7" width="1.7" height="9.2" fill="#0099e6"/>
<rect x="160.4" y="2378.9" width="3.2" height="9.2" fill="#00c800"/>
<rect x="160.4" y="2389.1" width="24.9" height="9.2" fill="#d7d700"/>
<text x="50.8" y="2395" font-size="24" textLength="84.3" lengthAdjust="spacingAndGlyphs">BMAL1</text>
<line x1="158.7" y1="1941.7" x2="158.7" y2="2402" stroke="#878787" stroke-width="3.3"/>
<line x1="157.5" y1="2401.2" x2="546.8" y2="2401.2" stroke="#000" stroke-width="2.8"/>
<line x1="159" y1="2400" x2="159" y2="2410.6" stroke="#000" stroke-width="2.8"/>
<text x="158.2" y="2452" font-size="26.5" text-anchor="middle" textLength="17" lengthAdjust="spacingAndGlyphs">0</text>
<line x1="351.4" y1="2400" x2="351.4" y2="2410.6" stroke="#000" stroke-width="2.8"/>
<text x="350.3" y="2452" font-size="26.5" text-anchor="middle" textLength="36" lengthAdjust="spacingAndGlyphs">50</text>
<line x1="545.4" y1="2400" x2="545.4" y2="2410.6" stroke="#000" stroke-width="2.8"/>
<text x="544.2" y="2452" font-size="26.5" text-anchor="middle" textLength="51" lengthAdjust="spacingAndGlyphs">100</text>
<text x="356" y="2487.8" font-size="23.5" text-anchor="middle" textLength="211" lengthAdjust="spacingAndGlyphs">-log10 <tspan font-style="italic">(adj. P</tspan> val.)</text>
<rect x="330.7" y="2234.4" width="31.6" height="31.2" fill="#0099e6" rx="3"/>
<rect x="330.7" y="2289" width="31.6" height="32" fill="#00c800" rx="3"/>
<rect x="330.7" y="2344.7" width="31.6" height="31.3" fill="#d7d700" rx="3"/>
<text x="377.4" y="2256.2" font-size="21.5">Ind. gene only</text>
<text x="377.4" y="2297.6" font-size="21.5">Ind. gene</text>
<text x="377.4" y="2325.9" font-size="21.5">&amp; Epromoter</text>
<text x="377.4" y="2369.2" font-size="21.5">Ind. Epromoter only</text>
<text x="576" y="1913.6" font-size="60">g</text>
<text x="847.6" y="1938.4" font-size="25" text-anchor="middle" textLength="261" lengthAdjust="spacingAndGlyphs">Ind. gene &amp; Epromoter</text>
<text x="846.8" y="1970.5" font-size="25" text-anchor="middle" textLength="203.2" lengthAdjust="spacingAndGlyphs">vs. Ind. gene only</text>
<rect x="773.9" y="2010.1" width="196.8" height="15.4" fill="#c0504d"/>
<text x="695.9" y="2028.1" font-size="24.5" textLength="54.1" lengthAdjust="spacingAndGlyphs">IRF9</text>
<rect x="773.9" y="2048.5" width="189.9" height="15.4" fill="#c0504d"/>
<text x="695.9" y="2066.5" font-size="24.5" textLength="54.1" lengthAdjust="spacingAndGlyphs">IRF4</text>
<rect x="773.9" y="2086.9" width="189.9" height="15.4" fill="#c0504d"/>
<text x="581.6" y="2104.9" font-size="24.5" textLength="168.4" lengthAdjust="spacingAndGlyphs">STAT1/STAT2</text>
<rect x="773.9" y="2125.2" width="158" height="15.4" fill="#c0504d"/>
<text x="695.9" y="2143.2" font-size="24.5" textLength="54.1" lengthAdjust="spacingAndGlyphs">IRF8</text>
<rect x="773.9" y="2163.6" width="150.5" height="15.4" fill="#c0504d"/>
<text x="695.9" y="2181.6" font-size="24.5" textLength="54.1" lengthAdjust="spacingAndGlyphs">IRF5</text>
<rect x="773.9" y="2202" width="140.3" height="15.4" fill="#c0504d"/>
<text x="695.9" y="2220" font-size="24.5" textLength="54.1" lengthAdjust="spacingAndGlyphs">IRF7</text>
<rect x="773.9" y="2240.4" width="129.6" height="15.4" fill="#c0504d"/>
<text x="695.9" y="2258.4" font-size="24.5" textLength="54.1" lengthAdjust="spacingAndGlyphs">IRF2</text>
<rect x="773.9" y="2278.8" width="101.2" height="15.4" fill="#c0504d"/>
<text x="695.9" y="2296.8" font-size="24.5" textLength="54.1" lengthAdjust="spacingAndGlyphs">IRF1</text>
<rect x="773.9" y="2317.1" width="86.9" height="15.4" fill="#c0504d"/>
<text x="695.9" y="2335.1" font-size="24.5" textLength="54.1" lengthAdjust="spacingAndGlyphs">IRF3</text>
<rect x="773.9" y="2355.5" width="62.4" height="15.4" fill="#c0504d"/>
<text x="689.9" y="2373.5" font-size="24.5" textLength="60.1" lengthAdjust="spacingAndGlyphs">Stat2</text>
<line x1="772.4" y1="1997" x2="772.4" y2="2384" stroke="#878787" stroke-width="3"/>
<line x1="764.9" y1="1998.3" x2="772.4" y2="1998.3" stroke="#878787" stroke-width="3"/>
<line x1="764.9" y1="2036.7" x2="772.4" y2="2036.7" stroke="#878787" stroke-width="3"/>
<line x1="764.9" y1="2075.1" x2="772.4" y2="2075.1" stroke="#878787" stroke-width="3"/>
<line x1="764.9" y1="2113.4" x2="772.4" y2="2113.4" stroke="#878787" stroke-width="3"/>
<line x1="764.9" y1="2151.8" x2="772.4" y2="2151.8" stroke="#878787" stroke-width="3"/>
<line x1="764.9" y1="2190.2" x2="772.4" y2="2190.2" stroke="#878787" stroke-width="3"/>
<line x1="764.9" y1="2228.6" x2="772.4" y2="2228.6" stroke="#878787" stroke-width="3"/>
<line x1="764.9" y1="2267" x2="772.4" y2="2267" stroke="#878787" stroke-width="3"/>
<line x1="764.9" y1="2305.3" x2="772.4" y2="2305.3" stroke="#878787" stroke-width="3"/>
<line x1="764.9" y1="2343.7" x2="772.4" y2="2343.7" stroke="#878787" stroke-width="3"/>
<line x1="764.9" y1="2382.1" x2="772.4" y2="2382.1" stroke="#878787" stroke-width="3"/>
<line x1="765.2" y1="2382.7" x2="987.6" y2="2382.7" stroke="#878787" stroke-width="3"/>
<line x1="772" y1="2382.7" x2="772" y2="2391.1" stroke="#878787" stroke-width="3"/>
<text x="772" y="2430.8" font-size="28" text-anchor="middle" textLength="15" lengthAdjust="spacingAndGlyphs">0</text>
<line x1="878.6" y1="2382.7" x2="878.6" y2="2391.1" stroke="#878787" stroke-width="3"/>
<text x="878.6" y="2430.8" font-size="28" text-anchor="middle" textLength="33.2" lengthAdjust="spacingAndGlyphs">20</text>
<line x1="986" y1="2382.7" x2="986" y2="2391.1" stroke="#878787" stroke-width="3"/>
<text x="986" y="2430.8" font-size="28" text-anchor="middle" textLength="33.6" lengthAdjust="spacingAndGlyphs">40</text>
<text x="884.3" y="2469.6" font-size="24.5" text-anchor="middle" textLength="210.7" lengthAdjust="spacingAndGlyphs">-log10 <tspan font-style="italic">(adj. P</tspan> val.)</text>
<defs><linearGradient id="pb" x1="0" y1="0" x2="0" y2="1"><stop offset="0" stop-color="#3e7fd0"/><stop offset="1" stop-color="#2c5b98"/></linearGradient><linearGradient id="pr" x1="0" y1="0" x2="0" y2="1"><stop offset="0" stop-color="#d03f3d"/><stop offset="1" stop-color="#962826"/></linearGradient><filter id="sh" x="-20%" y="-20%" width="140%" height="140%"><feGaussianBlur stdDeviation="3"/></filter></defs>
<text x="1018" y="1916" font-size="58">h</text>
<text x="1139.8" y="1940.2" font-size="25" text-anchor="middle" textLength="91.5" lengthAdjust="spacingAndGlyphs">Induced</text>
<text x="1143.4" y="1973.2" font-size="25" text-anchor="middle" textLength="112.8" lengthAdjust="spacingAndGlyphs">gene only</text>
<text x="1320.7" y="1940.2" font-size="25" text-anchor="middle" textLength="157.5" lengthAdjust="spacingAndGlyphs">Induced gene</text>
<text x="1324.2" y="1973.2" font-size="25" text-anchor="middle" textLength="146.9" lengthAdjust="spacingAndGlyphs">&amp; Epromoter</text>
<text x="1514.8" y="1940.2" font-size="25" text-anchor="middle" textLength="91.9" lengthAdjust="spacingAndGlyphs">Induced</text>
<text x="1517.5" y="1973.2" font-size="25" text-anchor="middle" textLength="175.2" lengthAdjust="spacingAndGlyphs">Epromoter only</text>
<text x="1063.6" y="2102.5" font-size="25" text-anchor="middle" textLength="27" lengthAdjust="spacingAndGlyphs" transform="rotate(-90 1063.6 2102.5)">All</text>
<text x="1063.6" y="2285.4" font-size="25" text-anchor="middle" textLength="120" lengthAdjust="spacingAndGlyphs" transform="rotate(-90 1063.6 2285.4)">High Conf.</text>
<path d="M1158.1 2282.7L1219.6 2247.2A71 71 0 0 1 1199.8 2340.1Z" fill="#000" fill-opacity="0.45" filter="url(#sh)"/>
<path d="M1155.8 2096.0L1155.80 2025.00A71 71 0 0 1 1221.81 2122.14Z" fill="url(#pb)"/>
<path d="M1155.8 2096.0L1221.81 2122.14A71 71 0 0 1 1086.06 2109.30Z" fill="url(#pr)"/>
<path d="M1155.8 2096.0L1086.06 2109.30A71 71 0 0 1 1155.80 2025.00Z" fill="#c0c0c0"/>
<text x="1118.4" y="2080.2" font-size="21" text-anchor="middle" font-weight="bold" textLength="23.5" lengthAdjust="spacingAndGlyphs">28</text>
<text x="1190.5" y="2082.5" font-size="21" text-anchor="middle" font-weight="bold" textLength="23.5" lengthAdjust="spacingAndGlyphs">31</text>
<text x="1151.8" y="2143.9" font-size="21" text-anchor="middle" font-weight="bold" textLength="23.5" lengthAdjust="spacingAndGlyphs">41</text>
<path d="M1334.6 2096.0L1334.60 2025.00A71 71 0 0 1 1398.84 2065.77Z" fill="url(#pb)"/>
<path d="M1334.6 2096.0L1398.84 2065.77A71 71 0 1 1 1325.70 2025.56Z" fill="url(#pr)"/>
<path d="M1334.6 2096.0L1325.70 2025.56A71 71 0 0 1 1334.60 2025.00Z" fill="#c0c0c0"/>
<text x="1357.5" y="2068.9" font-size="21" text-anchor="middle" font-weight="bold" textLength="23.5" lengthAdjust="spacingAndGlyphs">18</text>
<text x="1316.1" y="2127.5" font-size="21" text-anchor="middle" font-weight="bold" textLength="23.5" lengthAdjust="spacingAndGlyphs">80</text>
<path d="M1515.1 2096.0L1515.10 2025.00A71 71 0 0 1 1549.30 2158.22Z" fill="url(#pb)"/>
<path d="M1515.1 2096.0L1549.30 2158.22A71 71 0 0 1 1444.66 2104.90Z" fill="url(#pr)"/>
<path d="M1515.1 2096.0L1444.66 2104.90A71 71 0 0 1 1515.10 2025.00Z" fill="#c0c0c0"/>
<text x="1494.9" y="2077.7" font-size="21" text-anchor="middle" font-weight="bold" textLength="23.5" lengthAdjust="spacingAndGlyphs">27</text>
<text x="1558.4" y="2094.1" font-size="21" text-anchor="middle" font-weight="bold" textLength="23.5" lengthAdjust="spacingAndGlyphs">42</text>
<text x="1500.2" y="2140.5" font-size="21" text-anchor="middle" font-weight="bold" textLength="23.5" lengthAdjust="spacingAndGlyphs">31</text>
<path d="M1155.6 2278.2L1155.60 2207.20A71 71 0 0 1 1223.13 2300.14Z" fill="url(#pb)"/>
<path d="M1155.6 2278.2L1223.13 2300.14A71 71 0 0 1 1197.33 2335.64Z" fill="url(#pr)"/>
<path d="M1155.6 2278.2L1197.33 2335.64A71 71 0 1 1 1155.60 2207.20Z" fill="#c0c0c0"/>
<text x="1186.3" y="2255.5" font-size="21" text-anchor="middle" font-weight="bold" textLength="23.5" lengthAdjust="spacingAndGlyphs">30</text>
<text x="1120.9" y="2296.6" font-size="21" text-anchor="middle" font-weight="bold" textLength="23.5" lengthAdjust="spacingAndGlyphs">60</text>
<text x="1201.3" y="2321.7" font-size="21" text-anchor="middle" font-weight="bold" textLength="23.5" lengthAdjust="spacingAndGlyphs">10</text>
<path d="M1334.8 2278.2L1334.80 2207.20A71 71 0 0 1 1389.51 2323.46Z" fill="url(#pb)"/>
<path d="M1334.8 2278.2L1389.51 2323.46A71 71 0 1 1 1296.76 2218.25Z" fill="url(#pr)"/>
<path d="M1334.8 2278.2L1296.76 2218.25A71 71 0 0 1 1334.80 2207.20Z" fill="#c0c0c0"/>
<text x="1319.8" y="2231.9" font-size="21" text-anchor="middle" font-weight="bold">9</text>
<text x="1368.4" y="2261.1" font-size="21" text-anchor="middle" font-weight="bold" textLength="23.5" lengthAdjust="spacingAndGlyphs">36</text>
<text x="1310.5" y="2315.3" font-size="21" text-anchor="middle" font-weight="bold" textLength="23.5" lengthAdjust="spacingAndGlyphs">55</text>
<path d="M1515.2 2278.2L1515.20 2207.20A71 71 0 0 1 1581.21 2304.34Z" fill="url(#pb)"/>
<path d="M1515.2 2278.2L1581.21 2304.34A71 71 0 0 1 1549.40 2340.42Z" fill="url(#pr)"/>
<path d="M1515.2 2278.2L1549.40 2340.42A71 71 0 1 1 1515.20 2207.20Z" fill="#c0c0c0"/>
<text x="1555.4" y="2260.3" font-size="21" text-anchor="middle" font-weight="bold" textLength="23.5" lengthAdjust="spacingAndGlyphs">31</text>
<text x="1487" y="2297.7" font-size="21" text-anchor="middle" font-weight="bold" textLength="23.5" lengthAdjust="spacingAndGlyphs">58</text>
<text x="1554.3" y="2320.2" font-size="21" text-anchor="middle" font-weight="bold" textLength="23.5" lengthAdjust="spacingAndGlyphs">11</text>
<text x="1275.7" y="2020" font-size="21" text-anchor="middle" font-weight="bold" textLength="11" lengthAdjust="spacingAndGlyphs">2</text>
<polyline points="1284.8,2010.2 1309.8,2004.1 1329.1,2020.9" fill="none" stroke="#000" stroke-width="2.6"/>
<text x="1139.2" y="2407.7" font-size="25" textLength="65.8" lengthAdjust="spacingAndGlyphs">ISRE:</text>
<rect x="1227.1" y="2382.6" width="31.8" height="31.8" fill="#c0c0c0" rx="3.5"/>
<text x="1269.5" y="2407.7" font-size="24">None</text>
<rect x="1356.5" y="2382.6" width="31.4" height="31.8" fill="#4a7ebb" rx="3.5"/>
<text x="1396.5" y="2407.7" font-size="25">1</text>
<rect x="1464.9" y="2382.6" width="31.8" height="31.8" fill="#c00000" rx="3.5"/>
<text x="1508.2" y="2407.7" font-size="25" textLength="30.5" lengthAdjust="spacingAndGlyphs">≥ 2</text>
</svg></body></html>
